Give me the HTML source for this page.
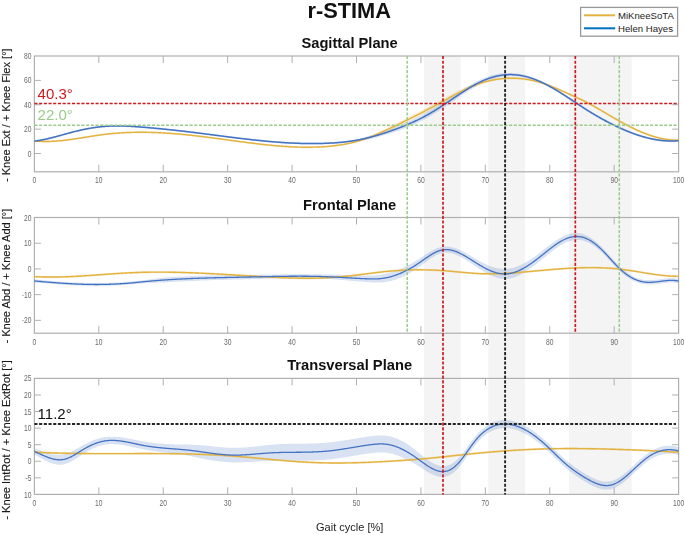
<!DOCTYPE html>
<html><head><meta charset="utf-8"><style>
html,body{margin:0;padding:0;background:#fff;width:685px;height:535px;overflow:hidden}
svg{position:absolute;left:0;top:0;display:block;filter:blur(0.3px)}
text{font-family:"Liberation Sans",sans-serif}
.tk{font-size:8.2px;fill:#6a6a6a}
.ttl{font-size:14.7px;font-weight:bold;fill:#111}
.main{font-size:21.8px;font-weight:bold;fill:#111}
.xl{font-size:11px;fill:#222}
.yl{font-size:11.05px;fill:#1a1a1a;stroke:#1a1a1a;stroke-width:0.15px}
.lg{font-size:9.6px;fill:#222}
.ann{font-size:15px}
</style></head><body>
<svg width="685" height="535" viewBox="0 0 685 535">
<rect x="424.0" y="56.0" width="36.6" height="438.4" fill="#f4f4f4"/>
<rect x="488.4" y="56.0" width="36.6" height="438.4" fill="#f4f4f4"/>
<rect x="569.0" y="56.0" width="62.6" height="438.4" fill="#f4f4f4"/>
<rect x="34.4" y="56.0" width="644.2" height="115.8" fill="none" stroke="#b0b0b0" stroke-width="1.2"/>
<text class="tk" text-anchor="middle" transform="translate(34.40,183.20) scale(0.82,1)">0</text>
<line x1="98.82" y1="56.0" x2="98.82" y2="63.0" stroke="#b0b0b0" stroke-width="1"/>
<line x1="98.82" y1="171.8" x2="98.82" y2="164.8" stroke="#b0b0b0" stroke-width="1"/>
<text class="tk" text-anchor="middle" transform="translate(98.82,183.20) scale(0.82,1)">10</text>
<line x1="163.24" y1="56.0" x2="163.24" y2="63.0" stroke="#b0b0b0" stroke-width="1"/>
<line x1="163.24" y1="171.8" x2="163.24" y2="164.8" stroke="#b0b0b0" stroke-width="1"/>
<text class="tk" text-anchor="middle" transform="translate(163.24,183.20) scale(0.82,1)">20</text>
<line x1="227.66" y1="56.0" x2="227.66" y2="63.0" stroke="#b0b0b0" stroke-width="1"/>
<line x1="227.66" y1="171.8" x2="227.66" y2="164.8" stroke="#b0b0b0" stroke-width="1"/>
<text class="tk" text-anchor="middle" transform="translate(227.66,183.20) scale(0.82,1)">30</text>
<line x1="292.08" y1="56.0" x2="292.08" y2="63.0" stroke="#b0b0b0" stroke-width="1"/>
<line x1="292.08" y1="171.8" x2="292.08" y2="164.8" stroke="#b0b0b0" stroke-width="1"/>
<text class="tk" text-anchor="middle" transform="translate(292.08,183.20) scale(0.82,1)">40</text>
<line x1="356.50" y1="56.0" x2="356.50" y2="63.0" stroke="#b0b0b0" stroke-width="1"/>
<line x1="356.50" y1="171.8" x2="356.50" y2="164.8" stroke="#b0b0b0" stroke-width="1"/>
<text class="tk" text-anchor="middle" transform="translate(356.50,183.20) scale(0.82,1)">50</text>
<line x1="420.92" y1="56.0" x2="420.92" y2="63.0" stroke="#b0b0b0" stroke-width="1"/>
<line x1="420.92" y1="171.8" x2="420.92" y2="164.8" stroke="#b0b0b0" stroke-width="1"/>
<text class="tk" text-anchor="middle" transform="translate(420.92,183.20) scale(0.82,1)">60</text>
<line x1="485.34" y1="56.0" x2="485.34" y2="63.0" stroke="#b0b0b0" stroke-width="1"/>
<line x1="485.34" y1="171.8" x2="485.34" y2="164.8" stroke="#b0b0b0" stroke-width="1"/>
<text class="tk" text-anchor="middle" transform="translate(485.34,183.20) scale(0.82,1)">70</text>
<line x1="549.76" y1="56.0" x2="549.76" y2="63.0" stroke="#b0b0b0" stroke-width="1"/>
<line x1="549.76" y1="171.8" x2="549.76" y2="164.8" stroke="#b0b0b0" stroke-width="1"/>
<text class="tk" text-anchor="middle" transform="translate(549.76,183.20) scale(0.82,1)">80</text>
<line x1="614.18" y1="56.0" x2="614.18" y2="63.0" stroke="#b0b0b0" stroke-width="1"/>
<line x1="614.18" y1="171.8" x2="614.18" y2="164.8" stroke="#b0b0b0" stroke-width="1"/>
<text class="tk" text-anchor="middle" transform="translate(614.18,183.20) scale(0.82,1)">90</text>
<text class="tk" text-anchor="middle" transform="translate(678.60,183.20) scale(0.82,1)">100</text>
<line x1="34.4" y1="153.52" x2="40.9" y2="153.52" stroke="#b0b0b0" stroke-width="1"/>
<line x1="678.6" y1="153.52" x2="672.1" y2="153.52" stroke="#b0b0b0" stroke-width="1"/>
<text class="tk" text-anchor="end" transform="translate(31.40,156.52) scale(0.82,1)">0</text>
<line x1="34.4" y1="129.14" x2="40.9" y2="129.14" stroke="#b0b0b0" stroke-width="1"/>
<line x1="678.6" y1="129.14" x2="672.1" y2="129.14" stroke="#b0b0b0" stroke-width="1"/>
<text class="tk" text-anchor="end" transform="translate(31.40,132.14) scale(0.82,1)">20</text>
<line x1="34.4" y1="104.76" x2="40.9" y2="104.76" stroke="#b0b0b0" stroke-width="1"/>
<line x1="678.6" y1="104.76" x2="672.1" y2="104.76" stroke="#b0b0b0" stroke-width="1"/>
<text class="tk" text-anchor="end" transform="translate(31.40,107.76) scale(0.82,1)">40</text>
<line x1="34.4" y1="80.38" x2="40.9" y2="80.38" stroke="#b0b0b0" stroke-width="1"/>
<line x1="678.6" y1="80.38" x2="672.1" y2="80.38" stroke="#b0b0b0" stroke-width="1"/>
<text class="tk" text-anchor="end" transform="translate(31.40,83.38) scale(0.82,1)">60</text>
<text class="tk" text-anchor="end" transform="translate(31.40,59.00) scale(0.82,1)">80</text>
<text x="349.6" y="48.0" class="ttl" text-anchor="middle">Sagittal Plane</text>
<rect x="34.4" y="217.5" width="644.2" height="115.7" fill="none" stroke="#b0b0b0" stroke-width="1.2"/>
<text class="tk" text-anchor="middle" transform="translate(34.40,344.60) scale(0.82,1)">0</text>
<line x1="98.82" y1="217.5" x2="98.82" y2="224.5" stroke="#b0b0b0" stroke-width="1"/>
<line x1="98.82" y1="333.2" x2="98.82" y2="326.2" stroke="#b0b0b0" stroke-width="1"/>
<text class="tk" text-anchor="middle" transform="translate(98.82,344.60) scale(0.82,1)">10</text>
<line x1="163.24" y1="217.5" x2="163.24" y2="224.5" stroke="#b0b0b0" stroke-width="1"/>
<line x1="163.24" y1="333.2" x2="163.24" y2="326.2" stroke="#b0b0b0" stroke-width="1"/>
<text class="tk" text-anchor="middle" transform="translate(163.24,344.60) scale(0.82,1)">20</text>
<line x1="227.66" y1="217.5" x2="227.66" y2="224.5" stroke="#b0b0b0" stroke-width="1"/>
<line x1="227.66" y1="333.2" x2="227.66" y2="326.2" stroke="#b0b0b0" stroke-width="1"/>
<text class="tk" text-anchor="middle" transform="translate(227.66,344.60) scale(0.82,1)">30</text>
<line x1="292.08" y1="217.5" x2="292.08" y2="224.5" stroke="#b0b0b0" stroke-width="1"/>
<line x1="292.08" y1="333.2" x2="292.08" y2="326.2" stroke="#b0b0b0" stroke-width="1"/>
<text class="tk" text-anchor="middle" transform="translate(292.08,344.60) scale(0.82,1)">40</text>
<line x1="356.50" y1="217.5" x2="356.50" y2="224.5" stroke="#b0b0b0" stroke-width="1"/>
<line x1="356.50" y1="333.2" x2="356.50" y2="326.2" stroke="#b0b0b0" stroke-width="1"/>
<text class="tk" text-anchor="middle" transform="translate(356.50,344.60) scale(0.82,1)">50</text>
<line x1="420.92" y1="217.5" x2="420.92" y2="224.5" stroke="#b0b0b0" stroke-width="1"/>
<line x1="420.92" y1="333.2" x2="420.92" y2="326.2" stroke="#b0b0b0" stroke-width="1"/>
<text class="tk" text-anchor="middle" transform="translate(420.92,344.60) scale(0.82,1)">60</text>
<line x1="485.34" y1="217.5" x2="485.34" y2="224.5" stroke="#b0b0b0" stroke-width="1"/>
<line x1="485.34" y1="333.2" x2="485.34" y2="326.2" stroke="#b0b0b0" stroke-width="1"/>
<text class="tk" text-anchor="middle" transform="translate(485.34,344.60) scale(0.82,1)">70</text>
<line x1="549.76" y1="217.5" x2="549.76" y2="224.5" stroke="#b0b0b0" stroke-width="1"/>
<line x1="549.76" y1="333.2" x2="549.76" y2="326.2" stroke="#b0b0b0" stroke-width="1"/>
<text class="tk" text-anchor="middle" transform="translate(549.76,344.60) scale(0.82,1)">80</text>
<line x1="614.18" y1="217.5" x2="614.18" y2="224.5" stroke="#b0b0b0" stroke-width="1"/>
<line x1="614.18" y1="333.2" x2="614.18" y2="326.2" stroke="#b0b0b0" stroke-width="1"/>
<text class="tk" text-anchor="middle" transform="translate(614.18,344.60) scale(0.82,1)">90</text>
<text class="tk" text-anchor="middle" transform="translate(678.60,344.60) scale(0.82,1)">100</text>
<line x1="34.4" y1="320.34" x2="40.9" y2="320.34" stroke="#b0b0b0" stroke-width="1"/>
<line x1="678.6" y1="320.34" x2="672.1" y2="320.34" stroke="#b0b0b0" stroke-width="1"/>
<text class="tk" text-anchor="end" transform="translate(31.40,323.34) scale(0.82,1)">-20</text>
<line x1="34.4" y1="294.63" x2="40.9" y2="294.63" stroke="#b0b0b0" stroke-width="1"/>
<line x1="678.6" y1="294.63" x2="672.1" y2="294.63" stroke="#b0b0b0" stroke-width="1"/>
<text class="tk" text-anchor="end" transform="translate(31.40,297.63) scale(0.82,1)">-10</text>
<line x1="34.4" y1="268.92" x2="40.9" y2="268.92" stroke="#b0b0b0" stroke-width="1"/>
<line x1="678.6" y1="268.92" x2="672.1" y2="268.92" stroke="#b0b0b0" stroke-width="1"/>
<text class="tk" text-anchor="end" transform="translate(31.40,271.92) scale(0.82,1)">0</text>
<line x1="34.4" y1="243.21" x2="40.9" y2="243.21" stroke="#b0b0b0" stroke-width="1"/>
<line x1="678.6" y1="243.21" x2="672.1" y2="243.21" stroke="#b0b0b0" stroke-width="1"/>
<text class="tk" text-anchor="end" transform="translate(31.40,246.21) scale(0.82,1)">10</text>
<text class="tk" text-anchor="end" transform="translate(31.40,220.50) scale(0.82,1)">20</text>
<text x="349.6" y="209.9" class="ttl" text-anchor="middle">Frontal Plane</text>
<rect x="34.4" y="378.4" width="644.2" height="116.0" fill="none" stroke="#b0b0b0" stroke-width="1.2"/>
<text class="tk" text-anchor="middle" transform="translate(34.40,505.80) scale(0.82,1)">0</text>
<line x1="98.82" y1="378.4" x2="98.82" y2="385.4" stroke="#b0b0b0" stroke-width="1"/>
<line x1="98.82" y1="494.4" x2="98.82" y2="487.4" stroke="#b0b0b0" stroke-width="1"/>
<text class="tk" text-anchor="middle" transform="translate(98.82,505.80) scale(0.82,1)">10</text>
<line x1="163.24" y1="378.4" x2="163.24" y2="385.4" stroke="#b0b0b0" stroke-width="1"/>
<line x1="163.24" y1="494.4" x2="163.24" y2="487.4" stroke="#b0b0b0" stroke-width="1"/>
<text class="tk" text-anchor="middle" transform="translate(163.24,505.80) scale(0.82,1)">20</text>
<line x1="227.66" y1="378.4" x2="227.66" y2="385.4" stroke="#b0b0b0" stroke-width="1"/>
<line x1="227.66" y1="494.4" x2="227.66" y2="487.4" stroke="#b0b0b0" stroke-width="1"/>
<text class="tk" text-anchor="middle" transform="translate(227.66,505.80) scale(0.82,1)">30</text>
<line x1="292.08" y1="378.4" x2="292.08" y2="385.4" stroke="#b0b0b0" stroke-width="1"/>
<line x1="292.08" y1="494.4" x2="292.08" y2="487.4" stroke="#b0b0b0" stroke-width="1"/>
<text class="tk" text-anchor="middle" transform="translate(292.08,505.80) scale(0.82,1)">40</text>
<line x1="356.50" y1="378.4" x2="356.50" y2="385.4" stroke="#b0b0b0" stroke-width="1"/>
<line x1="356.50" y1="494.4" x2="356.50" y2="487.4" stroke="#b0b0b0" stroke-width="1"/>
<text class="tk" text-anchor="middle" transform="translate(356.50,505.80) scale(0.82,1)">50</text>
<line x1="420.92" y1="378.4" x2="420.92" y2="385.4" stroke="#b0b0b0" stroke-width="1"/>
<line x1="420.92" y1="494.4" x2="420.92" y2="487.4" stroke="#b0b0b0" stroke-width="1"/>
<text class="tk" text-anchor="middle" transform="translate(420.92,505.80) scale(0.82,1)">60</text>
<line x1="485.34" y1="378.4" x2="485.34" y2="385.4" stroke="#b0b0b0" stroke-width="1"/>
<line x1="485.34" y1="494.4" x2="485.34" y2="487.4" stroke="#b0b0b0" stroke-width="1"/>
<text class="tk" text-anchor="middle" transform="translate(485.34,505.80) scale(0.82,1)">70</text>
<line x1="549.76" y1="378.4" x2="549.76" y2="385.4" stroke="#b0b0b0" stroke-width="1"/>
<line x1="549.76" y1="494.4" x2="549.76" y2="487.4" stroke="#b0b0b0" stroke-width="1"/>
<text class="tk" text-anchor="middle" transform="translate(549.76,505.80) scale(0.82,1)">80</text>
<line x1="614.18" y1="378.4" x2="614.18" y2="385.4" stroke="#b0b0b0" stroke-width="1"/>
<line x1="614.18" y1="494.4" x2="614.18" y2="487.4" stroke="#b0b0b0" stroke-width="1"/>
<text class="tk" text-anchor="middle" transform="translate(614.18,505.80) scale(0.82,1)">90</text>
<text class="tk" text-anchor="middle" transform="translate(678.60,505.80) scale(0.82,1)">100</text>
<text class="tk" text-anchor="end" transform="translate(31.40,498.30) scale(0.82,1)">10</text>
<line x1="34.4" y1="477.83" x2="40.9" y2="477.83" stroke="#b0b0b0" stroke-width="1"/>
<line x1="678.6" y1="477.83" x2="672.1" y2="477.83" stroke="#b0b0b0" stroke-width="1"/>
<text class="tk" text-anchor="end" transform="translate(31.40,480.83) scale(0.82,1)">-5</text>
<line x1="34.4" y1="461.26" x2="40.9" y2="461.26" stroke="#b0b0b0" stroke-width="1"/>
<line x1="678.6" y1="461.26" x2="672.1" y2="461.26" stroke="#b0b0b0" stroke-width="1"/>
<text class="tk" text-anchor="end" transform="translate(31.40,464.26) scale(0.82,1)">0</text>
<line x1="34.4" y1="444.69" x2="40.9" y2="444.69" stroke="#b0b0b0" stroke-width="1"/>
<line x1="678.6" y1="444.69" x2="672.1" y2="444.69" stroke="#b0b0b0" stroke-width="1"/>
<text class="tk" text-anchor="end" transform="translate(31.40,447.69) scale(0.82,1)">5</text>
<line x1="34.4" y1="428.11" x2="40.9" y2="428.11" stroke="#b0b0b0" stroke-width="1"/>
<line x1="678.6" y1="428.11" x2="672.1" y2="428.11" stroke="#b0b0b0" stroke-width="1"/>
<text class="tk" text-anchor="end" transform="translate(31.40,431.11) scale(0.82,1)">10</text>
<line x1="34.4" y1="411.54" x2="40.9" y2="411.54" stroke="#b0b0b0" stroke-width="1"/>
<line x1="678.6" y1="411.54" x2="672.1" y2="411.54" stroke="#b0b0b0" stroke-width="1"/>
<text class="tk" text-anchor="end" transform="translate(31.40,414.54) scale(0.82,1)">15</text>
<line x1="34.4" y1="394.97" x2="40.9" y2="394.97" stroke="#b0b0b0" stroke-width="1"/>
<line x1="678.6" y1="394.97" x2="672.1" y2="394.97" stroke="#b0b0b0" stroke-width="1"/>
<text class="tk" text-anchor="end" transform="translate(31.40,397.97) scale(0.82,1)">20</text>
<text class="tk" text-anchor="end" transform="translate(31.40,381.40) scale(0.82,1)">25</text>
<text x="349.6" y="370.4" class="ttl" text-anchor="middle">Transversal Plane</text>
<path d="M34.4,140.1 L35.4,140.0 L36.4,139.9 L37.4,139.7 L38.4,139.6 L39.4,139.4 L40.4,139.2 L41.4,139.0 L42.4,138.9 L43.4,138.7 L44.4,138.5 L45.4,138.2 L46.4,138.0 L47.4,137.8 L48.4,137.6 L49.4,137.3 L50.4,137.1 L51.4,136.8 L52.4,136.6 L53.4,136.3 L54.4,136.1 L55.4,135.8 L56.4,135.5 L57.4,135.3 L58.4,135.0 L59.4,134.7 L60.4,134.4 L61.4,134.2 L62.4,133.9 L63.4,133.6 L64.4,133.3 L65.4,133.0 L66.4,132.8 L67.4,132.5 L68.4,132.2 L69.4,131.9 L70.4,131.7 L71.4,131.4 L72.4,131.2 L73.4,130.9 L74.4,130.6 L75.4,130.4 L76.4,130.1 L77.4,129.9 L78.4,129.7 L79.4,129.4 L80.4,129.2 L81.4,129.0 L82.4,128.8 L83.4,128.5 L84.4,128.3 L85.4,128.1 L86.4,127.9 L87.4,127.7 L88.4,127.6 L89.4,127.4 L90.4,127.2 L91.4,127.0 L92.4,126.9 L93.4,126.7 L94.4,126.6 L95.4,126.4 L96.4,126.3 L97.4,126.2 L98.4,126.0 L99.4,125.9 L100.4,125.8 L101.4,125.7 L102.4,125.6 L103.4,125.5 L104.4,125.4 L105.4,125.3 L106.4,125.3 L107.4,125.2 L108.4,125.2 L109.4,125.1 L110.4,125.1 L111.4,125.0 L112.4,125.0 L113.4,125.0 L114.4,125.0 L115.4,124.9 L116.4,124.9 L117.4,124.9 L118.4,124.9 L119.4,124.9 L120.4,125.0 L121.4,125.0 L122.4,125.0 L123.4,125.0 L124.4,125.1 L125.4,125.1 L126.4,125.1 L127.4,125.2 L128.4,125.2 L129.4,125.3 L130.4,125.3 L131.4,125.4 L132.4,125.4 L133.4,125.5 L134.4,125.6 L135.4,125.6 L136.4,125.7 L137.4,125.8 L138.4,125.8 L139.4,125.9 L140.4,126.0 L141.4,126.1 L142.4,126.2 L143.4,126.2 L144.4,126.3 L145.4,126.4 L146.4,126.5 L147.4,126.6 L148.4,126.7 L149.4,126.7 L150.4,126.8 L151.4,126.9 L152.4,127.0 L153.4,127.1 L154.4,127.2 L155.4,127.3 L156.4,127.4 L157.4,127.5 L158.4,127.6 L159.4,127.7 L160.4,127.8 L161.4,127.9 L162.4,128.0 L163.4,128.1 L164.4,128.2 L165.4,128.3 L166.4,128.4 L167.4,128.5 L168.4,128.6 L169.4,128.7 L170.4,128.8 L171.4,128.9 L172.4,129.0 L173.4,129.1 L174.4,129.2 L175.4,129.3 L176.4,129.4 L177.4,129.5 L178.4,129.7 L179.4,129.8 L180.4,129.9 L181.4,130.0 L182.4,130.1 L183.4,130.2 L184.4,130.3 L185.4,130.5 L186.4,130.6 L187.4,130.7 L188.4,130.8 L189.4,130.9 L190.4,131.1 L191.4,131.2 L192.4,131.3 L193.4,131.4 L194.4,131.5 L195.4,131.7 L196.4,131.8 L197.4,131.9 L198.4,132.0 L199.4,132.2 L200.4,132.3 L201.4,132.4 L202.4,132.5 L203.4,132.7 L204.4,132.8 L205.4,132.9 L206.4,133.1 L207.4,133.2 L208.4,133.3 L209.4,133.4 L210.4,133.6 L211.4,133.7 L212.4,133.8 L213.4,134.0 L214.4,134.1 L215.4,134.2 L216.4,134.3 L217.4,134.5 L218.4,134.6 L219.4,134.7 L220.4,134.9 L221.4,135.0 L222.4,135.1 L223.4,135.3 L224.4,135.4 L225.4,135.5 L226.4,135.6 L227.4,135.8 L228.4,135.9 L229.4,136.0 L230.4,136.1 L231.4,136.3 L232.4,136.4 L233.4,136.5 L234.4,136.6 L235.4,136.8 L236.4,136.9 L237.4,137.0 L238.4,137.1 L239.4,137.3 L240.4,137.4 L241.4,137.5 L242.4,137.6 L243.4,137.7 L244.4,137.9 L245.4,138.0 L246.4,138.1 L247.4,138.2 L248.4,138.3 L249.4,138.4 L250.4,138.5 L251.4,138.7 L252.4,138.8 L253.4,138.9 L254.4,139.0 L255.4,139.1 L256.4,139.2 L257.4,139.3 L258.4,139.4 L259.4,139.5 L260.4,139.6 L261.4,139.7 L262.4,139.8 L263.4,139.9 L264.4,140.0 L265.4,140.1 L266.4,140.2 L267.4,140.3 L268.4,140.4 L269.4,140.5 L270.4,140.6 L271.4,140.6 L272.4,140.7 L273.4,140.8 L274.4,140.9 L275.4,141.0 L276.4,141.1 L277.4,141.1 L278.4,141.2 L279.4,141.3 L280.4,141.4 L281.4,141.4 L282.4,141.5 L283.4,141.6 L284.4,141.6 L285.4,141.7 L286.4,141.7 L287.4,141.8 L288.4,141.9 L289.4,141.9 L290.4,142.0 L291.4,142.0 L292.4,142.1 L293.4,142.1 L294.4,142.2 L295.4,142.2 L296.4,142.2 L297.4,142.3 L298.4,142.3 L299.4,142.4 L300.4,142.4 L301.4,142.4 L302.4,142.4 L303.4,142.5 L304.4,142.5 L305.4,142.5 L306.4,142.5 L307.4,142.5 L308.4,142.5 L309.4,142.6 L310.4,142.6 L311.4,142.6 L312.4,142.6 L313.4,142.6 L314.4,142.6 L315.4,142.5 L316.4,142.5 L317.4,142.5 L318.4,142.5 L319.4,142.5 L320.4,142.5 L321.4,142.4 L322.4,142.4 L323.4,142.4 L324.4,142.4 L325.4,142.3 L326.4,142.3 L327.4,142.2 L328.4,142.2 L329.4,142.1 L330.4,142.1 L331.4,142.0 L332.4,142.0 L333.4,141.9 L334.4,141.9 L335.4,141.8 L336.4,141.7 L337.4,141.6 L338.4,141.6 L339.4,141.5 L340.4,141.4 L341.4,141.3 L342.4,141.2 L343.4,141.1 L344.4,141.0 L345.4,140.8 L346.4,140.7 L347.4,140.6 L348.4,140.4 L349.4,140.3 L350.4,140.1 L351.4,139.9 L352.4,139.8 L353.4,139.6 L354.4,139.4 L355.4,139.2 L356.4,139.0 L357.4,138.8 L358.4,138.6 L359.4,138.4 L360.4,138.1 L361.4,137.9 L362.4,137.7 L363.4,137.4 L364.4,137.2 L365.4,136.9 L366.4,136.6 L367.4,136.3 L368.4,136.1 L369.4,135.8 L370.4,135.5 L371.4,135.2 L372.4,134.9 L373.4,134.6 L374.4,134.3 L375.4,134.0 L376.4,133.6 L377.4,133.3 L378.4,133.0 L379.4,132.7 L380.4,132.3 L381.4,132.0 L382.4,131.7 L383.4,131.3 L384.4,131.0 L385.4,130.6 L386.4,130.2 L387.4,129.9 L388.4,129.5 L389.4,129.1 L390.4,128.8 L391.4,128.4 L392.4,128.0 L393.4,127.6 L394.4,127.2 L395.4,126.8 L396.4,126.4 L397.4,126.0 L398.4,125.6 L399.4,125.2 L400.4,124.8 L401.4,124.4 L402.4,123.9 L403.4,123.5 L404.4,123.1 L405.4,122.6 L406.4,122.2 L407.4,121.8 L408.4,121.3 L409.4,120.9 L410.4,120.4 L411.4,119.9 L412.4,119.5 L413.4,119.0 L414.4,118.5 L415.4,118.1 L416.4,117.6 L417.4,117.1 L418.4,116.6 L419.4,116.1 L420.4,115.6 L421.4,115.1 L422.4,114.6 L423.4,114.1 L424.4,113.5 L425.4,113.0 L426.4,112.4 L427.4,111.9 L428.4,111.3 L429.4,110.8 L430.4,110.2 L431.4,109.6 L432.4,109.0 L433.4,108.4 L434.4,107.8 L435.4,107.2 L436.4,106.6 L437.4,106.0 L438.4,105.3 L439.4,104.7 L440.4,104.1 L441.4,103.4 L442.4,102.8 L443.4,102.2 L444.4,101.5 L445.4,100.9 L446.4,100.2 L447.4,99.5 L448.4,98.9 L449.4,98.2 L450.4,97.6 L451.4,96.9 L452.4,96.3 L453.4,95.6 L454.4,94.9 L455.4,94.3 L456.4,93.6 L457.4,93.0 L458.4,92.3 L459.4,91.7 L460.4,91.0 L461.4,90.4 L462.4,89.7 L463.4,89.1 L464.4,88.5 L465.4,87.8 L466.4,87.2 L467.4,86.6 L468.4,86.0 L469.4,85.4 L470.4,84.8 L471.4,84.2 L472.4,83.7 L473.4,83.1 L474.4,82.6 L475.4,82.1 L476.4,81.5 L477.4,81.0 L478.4,80.5 L479.4,80.1 L480.4,79.6 L481.4,79.2 L482.4,78.7 L483.4,78.3 L484.4,77.9 L485.4,77.5 L486.4,77.2 L487.4,76.8 L488.4,76.5 L489.4,76.1 L490.4,75.8 L491.4,75.5 L492.4,75.3 L493.4,75.0 L494.4,74.8 L495.4,74.5 L496.4,74.3 L497.4,74.1 L498.4,73.9 L499.4,73.8 L500.4,73.6 L501.4,73.5 L502.4,73.4 L503.4,73.3 L504.4,73.2 L505.4,73.1 L506.4,73.1 L507.4,73.0 L508.4,73.0 L509.4,73.0 L510.4,73.0 L511.4,73.0 L512.4,73.1 L513.4,73.1 L514.4,73.2 L515.4,73.3 L516.4,73.4 L517.4,73.5 L518.4,73.6 L519.4,73.8 L520.4,73.9 L521.4,74.1 L522.4,74.3 L523.4,74.5 L524.4,74.8 L525.4,75.0 L526.4,75.3 L527.4,75.5 L528.4,75.8 L529.4,76.1 L530.4,76.4 L531.4,76.8 L532.4,77.1 L533.4,77.5 L534.4,77.8 L535.4,78.2 L536.4,78.6 L537.4,79.0 L538.4,79.4 L539.4,79.9 L540.4,80.3 L541.4,80.8 L542.4,81.2 L543.4,81.7 L544.4,82.2 L545.4,82.7 L546.4,83.2 L547.4,83.7 L548.4,84.3 L549.4,84.8 L550.4,85.4 L551.4,85.9 L552.4,86.5 L553.4,87.1 L554.4,87.7 L555.4,88.3 L556.4,88.9 L557.4,89.5 L558.4,90.1 L559.4,90.7 L560.4,91.3 L561.4,92.0 L562.4,92.6 L563.4,93.2 L564.4,93.9 L565.4,94.5 L566.4,95.2 L567.4,95.8 L568.4,96.5 L569.4,97.2 L570.4,97.8 L571.4,98.5 L572.4,99.1 L573.4,99.8 L574.4,100.5 L575.4,101.1 L576.4,101.8 L577.4,102.5 L578.4,103.1 L579.4,103.8 L580.4,104.4 L581.4,105.1 L582.4,105.8 L583.4,106.4 L584.4,107.1 L585.4,107.7 L586.4,108.3 L587.4,109.0 L588.4,109.6 L589.4,110.2 L590.4,110.8 L591.4,111.5 L592.4,112.1 L593.4,112.7 L594.4,113.3 L595.4,113.9 L596.4,114.5 L597.4,115.0 L598.4,115.6 L599.4,116.2 L600.4,116.7 L601.4,117.3 L602.4,117.9 L603.4,118.4 L604.4,119.0 L605.4,119.5 L606.4,120.0 L607.4,120.6 L608.4,121.1 L609.4,121.6 L610.4,122.1 L611.4,122.6 L612.4,123.1 L613.4,123.6 L614.4,124.1 L615.4,124.6 L616.4,125.1 L617.4,125.6 L618.4,126.0 L619.4,126.5 L620.4,126.9 L621.4,127.4 L622.4,127.8 L623.4,128.3 L624.4,128.7 L625.4,129.1 L626.4,129.6 L627.4,130.0 L628.4,130.4 L629.4,130.8 L630.4,131.2 L631.4,131.6 L632.4,131.9 L633.4,132.3 L634.4,132.7 L635.4,133.0 L636.4,133.4 L637.4,133.7 L638.4,134.0 L639.4,134.4 L640.4,134.7 L641.4,135.0 L642.4,135.3 L643.4,135.6 L644.4,135.9 L645.4,136.1 L646.4,136.4 L647.4,136.7 L648.4,136.9 L649.4,137.1 L650.4,137.4 L651.4,137.6 L652.4,137.8 L653.4,138.0 L654.4,138.2 L655.4,138.4 L656.4,138.5 L657.4,138.7 L658.4,138.9 L659.4,139.0 L660.4,139.1 L661.4,139.2 L662.4,139.3 L663.4,139.4 L664.4,139.5 L665.4,139.6 L666.4,139.7 L667.4,139.7 L668.4,139.8 L669.4,139.8 L670.4,139.8 L671.4,139.8 L672.4,139.8 L673.4,139.8 L674.4,139.8 L675.4,139.7 L676.4,139.7 L677.4,139.6 L678.4,139.5 L678.6,139.5 L678.6,141.9 L678.4,141.9 L677.4,142.0 L676.4,142.1 L675.4,142.1 L674.4,142.2 L673.4,142.2 L672.4,142.2 L671.4,142.2 L670.4,142.2 L669.4,142.2 L668.4,142.2 L667.4,142.1 L666.4,142.1 L665.4,142.0 L664.4,141.9 L663.4,141.8 L662.4,141.8 L661.4,141.6 L660.4,141.5 L659.4,141.4 L658.4,141.3 L657.4,141.1 L656.4,141.0 L655.4,140.8 L654.4,140.6 L653.4,140.4 L652.4,140.2 L651.4,140.0 L650.4,139.8 L649.4,139.6 L648.4,139.3 L647.4,139.1 L646.4,138.8 L645.4,138.6 L644.4,138.3 L643.4,138.0 L642.4,137.7 L641.4,137.4 L640.4,137.1 L639.4,136.8 L638.4,136.5 L637.4,136.1 L636.4,135.8 L635.4,135.5 L634.4,135.1 L633.4,134.7 L632.4,134.4 L631.4,134.0 L630.4,133.6 L629.4,133.2 L628.4,132.8 L627.4,132.4 L626.4,132.0 L625.4,131.6 L624.4,131.2 L623.4,130.7 L622.4,130.3 L621.4,129.9 L620.4,129.4 L619.4,129.0 L618.4,128.5 L617.4,128.0 L616.4,127.6 L615.4,127.1 L614.4,126.6 L613.4,126.1 L612.4,125.6 L611.4,125.1 L610.4,124.6 L609.4,124.1 L608.4,123.6 L607.4,123.1 L606.4,122.6 L605.4,122.0 L604.4,121.5 L603.4,120.9 L602.4,120.4 L601.4,119.8 L600.4,119.3 L599.4,118.7 L598.4,118.2 L597.4,117.6 L596.4,117.0 L595.4,116.4 L594.4,115.8 L593.4,115.2 L592.4,114.6 L591.4,114.0 L590.4,113.4 L589.4,112.8 L588.4,112.2 L587.4,111.6 L586.4,110.9 L585.4,110.3 L584.4,109.7 L583.4,109.0 L582.4,108.4 L581.4,107.7 L580.4,107.1 L579.4,106.4 L578.4,105.8 L577.4,105.1 L576.4,104.4 L575.4,103.8 L574.4,103.1 L573.4,102.5 L572.4,101.8 L571.4,101.1 L570.4,100.5 L569.4,99.8 L568.4,99.2 L567.4,98.5 L566.4,97.9 L565.4,97.2 L564.4,96.6 L563.4,96.0 L562.4,95.3 L561.4,94.7 L560.4,94.1 L559.4,93.4 L558.4,92.8 L557.4,92.2 L556.4,91.6 L555.4,91.0 L554.4,90.4 L553.4,89.9 L552.4,89.3 L551.4,88.7 L550.4,88.2 L549.4,87.6 L548.4,87.1 L547.4,86.6 L546.4,86.0 L545.4,85.5 L544.4,85.0 L543.4,84.5 L542.4,84.1 L541.4,83.6 L540.4,83.2 L539.4,82.7 L538.4,82.3 L537.4,81.9 L536.4,81.5 L535.4,81.1 L534.4,80.7 L533.4,80.4 L532.4,80.0 L531.4,79.7 L530.4,79.3 L529.4,79.0 L528.4,78.7 L527.4,78.5 L526.4,78.2 L525.4,78.0 L524.4,77.7 L523.4,77.5 L522.4,77.3 L521.4,77.1 L520.4,76.9 L519.4,76.8 L518.4,76.6 L517.4,76.5 L516.4,76.4 L515.4,76.3 L514.4,76.3 L513.4,76.2 L512.4,76.2 L511.4,76.2 L510.4,76.2 L509.4,76.2 L508.4,76.3 L507.4,76.3 L506.4,76.4 L505.4,76.5 L504.4,76.6 L503.4,76.7 L502.4,76.9 L501.4,77.1 L500.4,77.2 L499.4,77.4 L498.4,77.6 L497.4,77.9 L496.4,78.1 L495.4,78.4 L494.4,78.7 L493.4,79.0 L492.4,79.3 L491.4,79.6 L490.4,79.9 L489.4,80.3 L488.4,80.7 L487.4,81.1 L486.4,81.5 L485.4,81.9 L484.4,82.3 L483.4,82.8 L482.4,83.3 L481.4,83.7 L480.4,84.2 L479.4,84.7 L478.4,85.2 L477.4,85.8 L476.4,86.3 L475.4,86.9 L474.4,87.4 L473.4,88.0 L472.4,88.6 L471.4,89.2 L470.4,89.8 L469.4,90.4 L468.4,91.0 L467.4,91.7 L466.4,92.3 L465.4,93.0 L464.4,93.6 L463.4,94.3 L462.4,94.9 L461.4,95.6 L460.4,96.3 L459.4,96.9 L458.4,97.6 L457.4,98.3 L456.4,99.0 L455.4,99.7 L454.4,100.4 L453.4,101.0 L452.4,101.7 L451.4,102.4 L450.4,103.1 L449.4,103.8 L448.4,104.5 L447.4,105.2 L446.4,105.8 L445.4,106.5 L444.4,107.2 L443.4,107.9 L442.4,108.5 L441.4,109.2 L440.4,109.8 L439.4,110.5 L438.4,111.2 L437.4,111.8 L436.4,112.4 L435.4,113.1 L434.4,113.7 L433.4,114.3 L432.4,114.9 L431.4,115.5 L430.4,116.1 L429.4,116.7 L428.4,117.3 L427.4,117.9 L426.4,118.4 L425.4,119.0 L424.4,119.5 L423.4,120.0 L422.4,120.6 L421.4,121.1 L420.4,121.6 L419.4,122.1 L418.4,122.6 L417.4,123.1 L416.4,123.5 L415.4,124.0 L414.4,124.5 L413.4,124.9 L412.4,125.3 L411.4,125.8 L410.4,126.2 L409.4,126.6 L408.4,127.0 L407.4,127.4 L406.4,127.8 L405.4,128.2 L404.4,128.6 L403.4,129.0 L402.4,129.3 L401.4,129.7 L400.4,130.0 L399.4,130.4 L398.4,130.7 L397.4,131.1 L396.4,131.4 L395.4,131.8 L394.4,132.1 L393.4,132.4 L392.4,132.7 L391.4,133.1 L390.4,133.4 L389.4,133.7 L388.4,134.0 L387.4,134.3 L386.4,134.6 L385.4,134.9 L384.4,135.2 L383.4,135.5 L382.4,135.8 L381.4,136.1 L380.4,136.4 L379.4,136.6 L378.4,136.9 L377.4,137.2 L376.4,137.5 L375.4,137.7 L374.4,138.0 L373.4,138.2 L372.4,138.5 L371.4,138.7 L370.4,138.9 L369.4,139.1 L368.4,139.4 L367.4,139.6 L366.4,139.8 L365.4,140.0 L364.4,140.2 L363.4,140.4 L362.4,140.6 L361.4,140.7 L360.4,140.9 L359.4,141.1 L358.4,141.2 L357.4,141.4 L356.4,141.5 L355.4,141.7 L354.4,141.8 L353.4,142.0 L352.4,142.1 L351.4,142.2 L350.4,142.3 L349.4,142.5 L348.4,142.6 L347.4,142.7 L346.4,142.8 L345.4,142.9 L344.4,143.0 L343.4,143.1 L342.4,143.2 L341.4,143.3 L340.4,143.4 L339.4,143.5 L338.4,143.6 L337.4,143.6 L336.4,143.7 L335.4,143.8 L334.4,143.9 L333.4,143.9 L332.4,144.0 L331.4,144.0 L330.4,144.1 L329.4,144.1 L328.4,144.2 L327.4,144.2 L326.4,144.3 L325.4,144.3 L324.4,144.4 L323.4,144.4 L322.4,144.4 L321.4,144.4 L320.4,144.5 L319.4,144.5 L318.4,144.5 L317.4,144.5 L316.4,144.5 L315.4,144.5 L314.4,144.6 L313.4,144.6 L312.4,144.6 L311.4,144.6 L310.4,144.6 L309.4,144.6 L308.4,144.5 L307.4,144.5 L306.4,144.5 L305.4,144.5 L304.4,144.5 L303.4,144.5 L302.4,144.4 L301.4,144.4 L300.4,144.4 L299.4,144.4 L298.4,144.3 L297.4,144.3 L296.4,144.2 L295.4,144.2 L294.4,144.2 L293.4,144.1 L292.4,144.1 L291.4,144.0 L290.4,144.0 L289.4,143.9 L288.4,143.9 L287.4,143.8 L286.4,143.7 L285.4,143.7 L284.4,143.6 L283.4,143.6 L282.4,143.5 L281.4,143.4 L280.4,143.4 L279.4,143.3 L278.4,143.2 L277.4,143.1 L276.4,143.1 L275.4,143.0 L274.4,142.9 L273.4,142.8 L272.4,142.7 L271.4,142.6 L270.4,142.6 L269.4,142.5 L268.4,142.4 L267.4,142.3 L266.4,142.2 L265.4,142.1 L264.4,142.0 L263.4,141.9 L262.4,141.8 L261.4,141.7 L260.4,141.6 L259.4,141.5 L258.4,141.4 L257.4,141.3 L256.4,141.2 L255.4,141.1 L254.4,141.0 L253.4,140.9 L252.4,140.8 L251.4,140.7 L250.4,140.5 L249.4,140.4 L248.4,140.3 L247.4,140.2 L246.4,140.1 L245.4,140.0 L244.4,139.9 L243.4,139.7 L242.4,139.6 L241.4,139.5 L240.4,139.4 L239.4,139.3 L238.4,139.1 L237.4,139.0 L236.4,138.9 L235.4,138.8 L234.4,138.6 L233.4,138.5 L232.4,138.4 L231.4,138.3 L230.4,138.1 L229.4,138.0 L228.4,137.9 L227.4,137.8 L226.4,137.6 L225.4,137.5 L224.4,137.4 L223.4,137.3 L222.4,137.1 L221.4,137.0 L220.4,136.9 L219.4,136.7 L218.4,136.6 L217.4,136.5 L216.4,136.3 L215.4,136.2 L214.4,136.1 L213.4,136.0 L212.4,135.8 L211.4,135.7 L210.4,135.6 L209.4,135.4 L208.4,135.3 L207.4,135.2 L206.4,135.1 L205.4,134.9 L204.4,134.8 L203.4,134.7 L202.4,134.5 L201.4,134.4 L200.4,134.3 L199.4,134.2 L198.4,134.0 L197.4,133.9 L196.4,133.8 L195.4,133.7 L194.4,133.5 L193.4,133.4 L192.4,133.3 L191.4,133.2 L190.4,133.1 L189.4,132.9 L188.4,132.8 L187.4,132.7 L186.4,132.6 L185.4,132.5 L184.4,132.3 L183.4,132.2 L182.4,132.1 L181.4,132.0 L180.4,131.9 L179.4,131.8 L178.4,131.7 L177.4,131.5 L176.4,131.4 L175.4,131.3 L174.4,131.2 L173.4,131.1 L172.4,131.0 L171.4,130.9 L170.4,130.8 L169.4,130.7 L168.4,130.6 L167.4,130.5 L166.4,130.4 L165.4,130.3 L164.4,130.2 L163.4,130.1 L162.4,130.0 L161.4,129.9 L160.4,129.8 L159.4,129.7 L158.4,129.6 L157.4,129.5 L156.4,129.4 L155.4,129.3 L154.4,129.2 L153.4,129.1 L152.4,129.0 L151.4,128.9 L150.4,128.8 L149.4,128.7 L148.4,128.7 L147.4,128.6 L146.4,128.5 L145.4,128.4 L144.4,128.3 L143.4,128.2 L142.4,128.2 L141.4,128.1 L140.4,128.0 L139.4,127.9 L138.4,127.8 L137.4,127.8 L136.4,127.7 L135.4,127.6 L134.4,127.6 L133.4,127.5 L132.4,127.4 L131.4,127.4 L130.4,127.3 L129.4,127.3 L128.4,127.2 L127.4,127.2 L126.4,127.1 L125.4,127.1 L124.4,127.1 L123.4,127.0 L122.4,127.0 L121.4,127.0 L120.4,127.0 L119.4,126.9 L118.4,126.9 L117.4,126.9 L116.4,126.9 L115.4,126.9 L114.4,127.0 L113.4,127.0 L112.4,127.0 L111.4,127.0 L110.4,127.1 L109.4,127.1 L108.4,127.2 L107.4,127.2 L106.4,127.3 L105.4,127.3 L104.4,127.4 L103.4,127.5 L102.4,127.6 L101.4,127.7 L100.4,127.8 L99.4,127.9 L98.4,128.0 L97.4,128.2 L96.4,128.3 L95.4,128.4 L94.4,128.6 L93.4,128.7 L92.4,128.9 L91.4,129.0 L90.4,129.2 L89.4,129.4 L88.4,129.6 L87.4,129.7 L86.4,129.9 L85.4,130.1 L84.4,130.3 L83.4,130.5 L82.4,130.8 L81.4,131.0 L80.4,131.2 L79.4,131.4 L78.4,131.7 L77.4,131.9 L76.4,132.1 L75.4,132.4 L74.4,132.6 L73.4,132.9 L72.4,133.2 L71.4,133.4 L70.4,133.7 L69.4,133.9 L68.4,134.2 L67.4,134.5 L66.4,134.8 L65.4,135.0 L64.4,135.3 L63.4,135.6 L62.4,135.9 L61.4,136.2 L60.4,136.4 L59.4,136.7 L58.4,137.0 L57.4,137.3 L56.4,137.5 L55.4,137.8 L54.4,138.1 L53.4,138.3 L52.4,138.6 L51.4,138.8 L50.4,139.1 L49.4,139.3 L48.4,139.6 L47.4,139.8 L46.4,140.0 L45.4,140.2 L44.4,140.5 L43.4,140.7 L42.4,140.9 L41.4,141.0 L40.4,141.2 L39.4,141.4 L38.4,141.6 L37.4,141.7 L36.4,141.9 L35.4,142.0 L34.4,142.1 Z" fill="#3f6fbf" fill-opacity="0.2"/>
<path d="M34.4,139.9 L35.4,140.0 L36.4,140.1 L37.4,140.2 L38.4,140.3 L39.4,140.3 L40.4,140.4 L41.4,140.4 L42.4,140.4 L43.4,140.5 L44.4,140.5 L45.4,140.5 L46.4,140.5 L47.4,140.5 L48.4,140.5 L49.4,140.4 L50.4,140.4 L51.4,140.4 L52.4,140.3 L53.4,140.3 L54.4,140.2 L55.4,140.1 L56.4,140.1 L57.4,140.0 L58.4,139.9 L59.4,139.8 L60.4,139.7 L61.4,139.6 L62.4,139.5 L63.4,139.4 L64.4,139.3 L65.4,139.2 L66.4,139.1 L67.4,138.9 L68.4,138.8 L69.4,138.7 L70.4,138.5 L71.4,138.4 L72.4,138.3 L73.4,138.1 L74.4,138.0 L75.4,137.8 L76.4,137.7 L77.4,137.5 L78.4,137.3 L79.4,137.2 L80.4,137.0 L81.4,136.9 L82.4,136.7 L83.4,136.6 L84.4,136.4 L85.4,136.2 L86.4,136.1 L87.4,135.9 L88.4,135.7 L89.4,135.6 L90.4,135.4 L91.4,135.3 L92.4,135.1 L93.4,135.0 L94.4,134.8 L95.4,134.7 L96.4,134.5 L97.4,134.4 L98.4,134.2 L99.4,134.1 L100.4,133.9 L101.4,133.8 L102.4,133.7 L103.4,133.5 L104.4,133.4 L105.4,133.3 L106.4,133.2 L107.4,133.1 L108.4,133.0 L109.4,132.8 L110.4,132.7 L111.4,132.6 L112.4,132.6 L113.4,132.5 L114.4,132.4 L115.4,132.3 L116.4,132.2 L117.4,132.1 L118.4,132.1 L119.4,132.0 L120.4,131.9 L121.4,131.9 L122.4,131.8 L123.4,131.7 L124.4,131.7 L125.4,131.6 L126.4,131.6 L127.4,131.6 L128.4,131.5 L129.4,131.5 L130.4,131.4 L131.4,131.4 L132.4,131.4 L133.4,131.4 L134.4,131.3 L135.4,131.3 L136.4,131.3 L137.4,131.3 L138.4,131.3 L139.4,131.3 L140.4,131.3 L141.4,131.3 L142.4,131.3 L143.4,131.3 L144.4,131.3 L145.4,131.3 L146.4,131.3 L147.4,131.3 L148.4,131.4 L149.4,131.4 L150.4,131.4 L151.4,131.4 L152.4,131.5 L153.4,131.5 L154.4,131.5 L155.4,131.6 L156.4,131.6 L157.4,131.6 L158.4,131.7 L159.4,131.7 L160.4,131.8 L161.4,131.8 L162.4,131.9 L163.4,131.9 L164.4,132.0 L165.4,132.1 L166.4,132.1 L167.4,132.2 L168.4,132.3 L169.4,132.3 L170.4,132.4 L171.4,132.5 L172.4,132.5 L173.4,132.6 L174.4,132.7 L175.4,132.8 L176.4,132.9 L177.4,132.9 L178.4,133.0 L179.4,133.1 L180.4,133.2 L181.4,133.3 L182.4,133.4 L183.4,133.5 L184.4,133.6 L185.4,133.7 L186.4,133.8 L187.4,133.9 L188.4,134.0 L189.4,134.1 L190.4,134.2 L191.4,134.3 L192.4,134.4 L193.4,134.5 L194.4,134.7 L195.4,134.8 L196.4,134.9 L197.4,135.0 L198.4,135.1 L199.4,135.2 L200.4,135.4 L201.4,135.5 L202.4,135.6 L203.4,135.7 L204.4,135.9 L205.4,136.0 L206.4,136.1 L207.4,136.2 L208.4,136.4 L209.4,136.5 L210.4,136.6 L211.4,136.8 L212.4,136.9 L213.4,137.0 L214.4,137.1 L215.4,137.3 L216.4,137.4 L217.4,137.5 L218.4,137.7 L219.4,137.8 L220.4,137.9 L221.4,138.1 L222.4,138.2 L223.4,138.4 L224.4,138.5 L225.4,138.6 L226.4,138.8 L227.4,138.9 L228.4,139.0 L229.4,139.2 L230.4,139.3 L231.4,139.4 L232.4,139.6 L233.4,139.7 L234.4,139.8 L235.4,140.0 L236.4,140.1 L237.4,140.3 L238.4,140.4 L239.4,140.5 L240.4,140.7 L241.4,140.8 L242.4,140.9 L243.4,141.0 L244.4,141.2 L245.4,141.3 L246.4,141.4 L247.4,141.6 L248.4,141.7 L249.4,141.8 L250.4,141.9 L251.4,142.1 L252.4,142.2 L253.4,142.3 L254.4,142.4 L255.4,142.6 L256.4,142.7 L257.4,142.8 L258.4,142.9 L259.4,143.0 L260.4,143.1 L261.4,143.3 L262.4,143.4 L263.4,143.5 L264.4,143.6 L265.4,143.7 L266.4,143.8 L267.4,143.9 L268.4,144.0 L269.4,144.1 L270.4,144.2 L271.4,144.3 L272.4,144.4 L273.4,144.5 L274.4,144.6 L275.4,144.7 L276.4,144.8 L277.4,144.9 L278.4,144.9 L279.4,145.0 L280.4,145.1 L281.4,145.2 L282.4,145.3 L283.4,145.3 L284.4,145.4 L285.4,145.5 L286.4,145.5 L287.4,145.6 L288.4,145.7 L289.4,145.7 L290.4,145.8 L291.4,145.8 L292.4,145.9 L293.4,145.9 L294.4,146.0 L295.4,146.0 L296.4,146.0 L297.4,146.1 L298.4,146.1 L299.4,146.1 L300.4,146.2 L301.4,146.2 L302.4,146.2 L303.4,146.2 L304.4,146.2 L305.4,146.2 L306.4,146.2 L307.4,146.2 L308.4,146.2 L309.4,146.2 L310.4,146.2 L311.4,146.2 L312.4,146.2 L313.4,146.2 L314.4,146.1 L315.4,146.1 L316.4,146.1 L317.4,146.0 L318.4,146.0 L319.4,146.0 L320.4,145.9 L321.4,145.9 L322.4,145.8 L323.4,145.7 L324.4,145.7 L325.4,145.6 L326.4,145.5 L327.4,145.4 L328.4,145.4 L329.4,145.3 L330.4,145.2 L331.4,145.1 L332.4,145.0 L333.4,144.9 L334.4,144.7 L335.4,144.6 L336.4,144.5 L337.4,144.4 L338.4,144.2 L339.4,144.1 L340.4,143.9 L341.4,143.8 L342.4,143.6 L343.4,143.4 L344.4,143.3 L345.4,143.1 L346.4,142.9 L347.4,142.7 L348.4,142.5 L349.4,142.3 L350.4,142.1 L351.4,141.8 L352.4,141.6 L353.4,141.4 L354.4,141.1 L355.4,140.9 L356.4,140.6 L357.4,140.3 L358.4,140.0 L359.4,139.8 L360.4,139.5 L361.4,139.1 L362.4,138.8 L363.4,138.5 L364.4,138.1 L365.4,137.8 L366.4,137.4 L367.4,137.0 L368.4,136.6 L369.4,136.2 L370.4,135.8 L371.4,135.4 L372.4,134.9 L373.4,134.5 L374.4,134.0 L375.4,133.5 L376.4,133.1 L377.4,132.6 L378.4,132.1 L379.4,131.6 L380.4,131.1 L381.4,130.6 L382.4,130.1 L383.4,129.7 L384.4,129.2 L385.4,128.7 L386.4,128.2 L387.4,127.7 L388.4,127.2 L389.4,126.7 L390.4,126.1 L391.4,125.6 L392.4,125.1 L393.4,124.6 L394.4,124.1 L395.4,123.6 L396.4,123.1 L397.4,122.7 L398.4,122.2 L399.4,121.7 L400.4,121.2 L401.4,120.7 L402.4,120.2 L403.4,119.7 L404.4,119.2 L405.4,118.7 L406.4,118.2 L407.4,117.7 L408.4,117.2 L409.4,116.7 L410.4,116.2 L411.4,115.7 L412.4,115.2 L413.4,114.7 L414.4,114.2 L415.4,113.7 L416.4,113.2 L417.4,112.7 L418.4,112.2 L419.4,111.6 L420.4,111.1 L421.4,110.6 L422.4,110.1 L423.4,109.6 L424.4,109.1 L425.4,108.5 L426.4,108.0 L427.4,107.5 L428.4,107.0 L429.4,106.5 L430.4,105.9 L431.4,105.4 L432.4,104.9 L433.4,104.3 L434.4,103.8 L435.4,103.3 L436.4,102.7 L437.4,102.2 L438.4,101.6 L439.4,101.1 L440.4,100.5 L441.4,100.0 L442.4,99.4 L443.4,98.9 L444.4,98.3 L445.4,97.8 L446.4,97.2 L447.4,96.6 L448.4,96.1 L449.4,95.5 L450.4,95.0 L451.4,94.4 L452.4,93.9 L453.4,93.3 L454.4,92.8 L455.4,92.2 L456.4,91.7 L457.4,91.2 L458.4,90.7 L459.4,90.2 L460.4,89.7 L461.4,89.2 L462.4,88.7 L463.4,88.2 L464.4,87.8 L465.4,87.3 L466.4,86.9 L467.4,86.4 L468.4,86.0 L469.4,85.6 L470.4,85.2 L471.4,84.8 L472.4,84.4 L473.4,84.0 L474.4,83.7 L475.4,83.3 L476.4,83.0 L477.4,82.6 L478.4,82.3 L479.4,82.0 L480.4,81.7 L481.4,81.4 L482.4,81.1 L483.4,80.9 L484.4,80.6 L485.4,80.3 L486.4,80.1 L487.4,79.9 L488.4,79.7 L489.4,79.4 L490.4,79.2 L491.4,79.0 L492.4,78.8 L493.4,78.7 L494.4,78.5 L495.4,78.3 L496.4,78.2 L497.4,78.0 L498.4,77.9 L499.4,77.8 L500.4,77.7 L501.4,77.5 L502.4,77.4 L503.4,77.3 L504.4,77.3 L505.4,77.2 L506.4,77.1 L507.4,77.1 L508.4,77.1 L509.4,77.0 L510.4,77.0 L511.4,77.0 L512.4,77.0 L513.4,77.0 L514.4,77.0 L515.4,77.1 L516.4,77.1 L517.4,77.2 L518.4,77.2 L519.4,77.3 L520.4,77.4 L521.4,77.5 L522.4,77.6 L523.4,77.7 L524.4,77.8 L525.4,78.0 L526.4,78.1 L527.4,78.3 L528.4,78.5 L529.4,78.6 L530.4,78.8 L531.4,79.0 L532.4,79.2 L533.4,79.5 L534.4,79.7 L535.4,79.9 L536.4,80.2 L537.4,80.4 L538.4,80.7 L539.4,81.0 L540.4,81.3 L541.4,81.6 L542.4,81.9 L543.4,82.2 L544.4,82.6 L545.4,82.9 L546.4,83.3 L547.4,83.6 L548.4,84.0 L549.4,84.4 L550.4,84.8 L551.4,85.2 L552.4,85.6 L553.4,86.0 L554.4,86.4 L555.4,86.8 L556.4,87.3 L557.4,87.7 L558.4,88.1 L559.4,88.6 L560.4,89.0 L561.4,89.5 L562.4,89.9 L563.4,90.4 L564.4,90.8 L565.4,91.2 L566.4,91.7 L567.4,92.1 L568.4,92.6 L569.4,93.0 L570.4,93.5 L571.4,93.9 L572.4,94.4 L573.4,94.8 L574.4,95.3 L575.4,95.7 L576.4,96.2 L577.4,96.6 L578.4,97.1 L579.4,97.6 L580.4,98.1 L581.4,98.5 L582.4,99.0 L583.4,99.5 L584.4,100.0 L585.4,100.5 L586.4,101.0 L587.4,101.5 L588.4,102.0 L589.4,102.6 L590.4,103.1 L591.4,103.7 L592.4,104.2 L593.4,104.8 L594.4,105.3 L595.4,105.9 L596.4,106.5 L597.4,107.0 L598.4,107.6 L599.4,108.2 L600.4,108.8 L601.4,109.4 L602.4,109.9 L603.4,110.5 L604.4,111.1 L605.4,111.7 L606.4,112.3 L607.4,112.9 L608.4,113.5 L609.4,114.1 L610.4,114.7 L611.4,115.3 L612.4,115.9 L613.4,116.5 L614.4,117.0 L615.4,117.6 L616.4,118.2 L617.4,118.8 L618.4,119.3 L619.4,119.9 L620.4,120.5 L621.4,121.0 L622.4,121.6 L623.4,122.1 L624.4,122.7 L625.4,123.2 L626.4,123.7 L627.4,124.2 L628.4,124.8 L629.4,125.3 L630.4,125.8 L631.4,126.3 L632.4,126.8 L633.4,127.2 L634.4,127.7 L635.4,128.2 L636.4,128.6 L637.4,129.1 L638.4,129.5 L639.4,130.0 L640.4,130.4 L641.4,130.8 L642.4,131.2 L643.4,131.7 L644.4,132.0 L645.4,132.4 L646.4,132.8 L647.4,133.2 L648.4,133.5 L649.4,133.9 L650.4,134.2 L651.4,134.6 L652.4,134.9 L653.4,135.2 L654.4,135.5 L655.4,135.8 L656.4,136.0 L657.4,136.3 L658.4,136.6 L659.4,136.8 L660.4,137.0 L661.4,137.3 L662.4,137.5 L663.4,137.7 L664.4,137.8 L665.4,138.0 L666.4,138.2 L667.4,138.3 L668.4,138.5 L669.4,138.6 L670.4,138.7 L671.4,138.8 L672.4,138.8 L673.4,138.9 L674.4,139.0 L675.4,139.0 L676.4,139.0 L677.4,139.0 L678.4,139.0 L678.6,139.0 L678.6,141.4 L678.4,141.4 L677.4,141.4 L676.4,141.4 L675.4,141.4 L674.4,141.4 L673.4,141.3 L672.4,141.2 L671.4,141.2 L670.4,141.1 L669.4,141.0 L668.4,140.9 L667.4,140.7 L666.4,140.6 L665.4,140.4 L664.4,140.2 L663.4,140.1 L662.4,139.9 L661.4,139.7 L660.4,139.4 L659.4,139.2 L658.4,139.0 L657.4,138.7 L656.4,138.4 L655.4,138.2 L654.4,137.9 L653.4,137.6 L652.4,137.3 L651.4,137.0 L650.4,136.6 L649.4,136.3 L648.4,135.9 L647.4,135.6 L646.4,135.2 L645.4,134.8 L644.4,134.4 L643.4,134.1 L642.4,133.6 L641.4,133.2 L640.4,132.8 L639.4,132.4 L638.4,131.9 L637.4,131.5 L636.4,131.0 L635.4,130.6 L634.4,130.1 L633.4,129.6 L632.4,129.2 L631.4,128.7 L630.4,128.2 L629.4,127.7 L628.4,127.2 L627.4,126.6 L626.4,126.1 L625.4,125.6 L624.4,125.1 L623.4,124.5 L622.4,124.0 L621.4,123.4 L620.4,122.9 L619.4,122.3 L618.4,121.7 L617.4,121.2 L616.4,120.6 L615.4,120.0 L614.4,119.4 L613.4,118.9 L612.4,118.3 L611.4,117.7 L610.4,117.1 L609.4,116.5 L608.4,115.9 L607.4,115.3 L606.4,114.7 L605.4,114.1 L604.4,113.5 L603.4,112.9 L602.4,112.3 L601.4,111.8 L600.4,111.2 L599.4,110.6 L598.4,110.0 L597.4,109.4 L596.4,108.9 L595.4,108.3 L594.4,107.7 L593.4,107.2 L592.4,106.6 L591.4,106.1 L590.4,105.5 L589.4,105.0 L588.4,104.4 L587.4,103.9 L586.4,103.4 L585.4,102.9 L584.4,102.4 L583.4,101.9 L582.4,101.4 L581.4,100.9 L580.4,100.5 L579.4,100.0 L578.4,99.5 L577.4,99.0 L576.4,98.6 L575.4,98.1 L574.4,97.7 L573.4,97.2 L572.4,96.8 L571.4,96.3 L570.4,95.9 L569.4,95.4 L568.4,95.0 L567.4,94.5 L566.4,94.1 L565.4,93.6 L564.4,93.2 L563.4,92.8 L562.4,92.3 L561.4,91.9 L560.4,91.4 L559.4,91.0 L558.4,90.5 L557.4,90.1 L556.4,89.7 L555.4,89.2 L554.4,88.8 L553.4,88.4 L552.4,88.0 L551.4,87.6 L550.4,87.2 L549.4,86.8 L548.4,86.4 L547.4,86.0 L546.4,85.7 L545.4,85.3 L544.4,85.0 L543.4,84.6 L542.4,84.3 L541.4,84.0 L540.4,83.7 L539.4,83.4 L538.4,83.1 L537.4,82.8 L536.4,82.6 L535.4,82.3 L534.4,82.1 L533.4,81.9 L532.4,81.6 L531.4,81.4 L530.4,81.2 L529.4,81.0 L528.4,80.9 L527.4,80.7 L526.4,80.5 L525.4,80.4 L524.4,80.2 L523.4,80.1 L522.4,80.0 L521.4,79.9 L520.4,79.8 L519.4,79.7 L518.4,79.6 L517.4,79.6 L516.4,79.5 L515.4,79.5 L514.4,79.4 L513.4,79.4 L512.4,79.4 L511.4,79.4 L510.4,79.4 L509.4,79.4 L508.4,79.5 L507.4,79.5 L506.4,79.5 L505.4,79.6 L504.4,79.7 L503.4,79.7 L502.4,79.8 L501.4,79.9 L500.4,80.1 L499.4,80.2 L498.4,80.3 L497.4,80.5 L496.4,80.6 L495.4,80.8 L494.4,81.0 L493.4,81.2 L492.4,81.4 L491.4,81.6 L490.4,81.8 L489.4,82.1 L488.4,82.3 L487.4,82.6 L486.4,82.9 L485.4,83.2 L484.4,83.5 L483.4,83.8 L482.4,84.1 L481.4,84.4 L480.4,84.8 L479.4,85.1 L478.4,85.5 L477.4,85.9 L476.4,86.3 L475.4,86.7 L474.4,87.1 L473.4,87.5 L472.4,88.0 L471.4,88.4 L470.4,88.9 L469.4,89.3 L468.4,89.8 L467.4,90.3 L466.4,90.8 L465.4,91.3 L464.4,91.8 L463.4,92.3 L462.4,92.8 L461.4,93.3 L460.4,93.9 L459.4,94.4 L458.4,94.9 L457.4,95.5 L456.4,96.0 L455.4,96.6 L454.4,97.1 L453.4,97.7 L452.4,98.2 L451.4,98.8 L450.4,99.4 L449.4,99.9 L448.4,100.5 L447.4,101.0 L446.4,101.6 L445.4,102.2 L444.4,102.7 L443.4,103.3 L442.4,103.8 L441.4,104.4 L440.4,104.9 L439.4,105.5 L438.4,106.0 L437.4,106.6 L436.4,107.1 L435.4,107.7 L434.4,108.2 L433.4,108.7 L432.4,109.3 L431.4,109.8 L430.4,110.3 L429.4,110.9 L428.4,111.4 L427.4,111.9 L426.4,112.4 L425.4,112.9 L424.4,113.5 L423.4,114.0 L422.4,114.5 L421.4,115.0 L420.4,115.5 L419.4,116.0 L418.4,116.6 L417.4,117.1 L416.4,117.6 L415.4,118.1 L414.4,118.6 L413.4,119.1 L412.4,119.6 L411.4,120.1 L410.4,120.6 L409.4,121.1 L408.4,121.6 L407.4,122.1 L406.4,122.6 L405.4,123.1 L404.4,123.6 L403.4,124.1 L402.4,124.6 L401.4,125.1 L400.4,125.6 L399.4,126.1 L398.4,126.5 L397.4,127.0 L396.4,127.5 L395.4,128.0 L394.4,128.4 L393.4,128.9 L392.4,129.3 L391.4,129.8 L390.4,130.2 L389.4,130.6 L388.4,131.1 L387.4,131.5 L386.4,131.9 L385.4,132.3 L384.4,132.7 L383.4,133.2 L382.4,133.6 L381.4,134.0 L380.4,134.4 L379.4,134.8 L378.4,135.2 L377.4,135.6 L376.4,135.9 L375.4,136.3 L374.4,136.7 L373.4,137.1 L372.4,137.5 L371.4,137.8 L370.4,138.2 L369.4,138.5 L368.4,138.9 L367.4,139.2 L366.4,139.6 L365.4,139.9 L364.4,140.2 L363.4,140.5 L362.4,140.8 L361.4,141.2 L360.4,141.5 L359.4,141.8 L358.4,142.0 L357.4,142.3 L356.4,142.6 L355.4,142.9 L354.4,143.1 L353.4,143.4 L352.4,143.6 L351.4,143.8 L350.4,144.1 L349.4,144.3 L348.4,144.5 L347.4,144.7 L346.4,144.9 L345.4,145.1 L344.4,145.3 L343.4,145.4 L342.4,145.6 L341.4,145.8 L340.4,145.9 L339.4,146.1 L338.4,146.2 L337.4,146.4 L336.4,146.5 L335.4,146.6 L334.4,146.7 L333.4,146.9 L332.4,147.0 L331.4,147.1 L330.4,147.2 L329.4,147.3 L328.4,147.4 L327.4,147.4 L326.4,147.5 L325.4,147.6 L324.4,147.7 L323.4,147.7 L322.4,147.8 L321.4,147.9 L320.4,147.9 L319.4,148.0 L318.4,148.0 L317.4,148.0 L316.4,148.1 L315.4,148.1 L314.4,148.1 L313.4,148.2 L312.4,148.2 L311.4,148.2 L310.4,148.2 L309.4,148.2 L308.4,148.2 L307.4,148.2 L306.4,148.2 L305.4,148.2 L304.4,148.2 L303.4,148.2 L302.4,148.2 L301.4,148.2 L300.4,148.2 L299.4,148.1 L298.4,148.1 L297.4,148.1 L296.4,148.0 L295.4,148.0 L294.4,148.0 L293.4,147.9 L292.4,147.9 L291.4,147.8 L290.4,147.8 L289.4,147.7 L288.4,147.7 L287.4,147.6 L286.4,147.5 L285.4,147.5 L284.4,147.4 L283.4,147.3 L282.4,147.3 L281.4,147.2 L280.4,147.1 L279.4,147.0 L278.4,146.9 L277.4,146.9 L276.4,146.8 L275.4,146.7 L274.4,146.6 L273.4,146.5 L272.4,146.4 L271.4,146.3 L270.4,146.2 L269.4,146.1 L268.4,146.0 L267.4,145.9 L266.4,145.8 L265.4,145.7 L264.4,145.6 L263.4,145.5 L262.4,145.4 L261.4,145.3 L260.4,145.1 L259.4,145.0 L258.4,144.9 L257.4,144.8 L256.4,144.7 L255.4,144.6 L254.4,144.4 L253.4,144.3 L252.4,144.2 L251.4,144.1 L250.4,143.9 L249.4,143.8 L248.4,143.7 L247.4,143.6 L246.4,143.4 L245.4,143.3 L244.4,143.2 L243.4,143.0 L242.4,142.9 L241.4,142.8 L240.4,142.7 L239.4,142.5 L238.4,142.4 L237.4,142.3 L236.4,142.1 L235.4,142.0 L234.4,141.8 L233.4,141.7 L232.4,141.6 L231.4,141.4 L230.4,141.3 L229.4,141.2 L228.4,141.0 L227.4,140.9 L226.4,140.8 L225.4,140.6 L224.4,140.5 L223.4,140.4 L222.4,140.2 L221.4,140.1 L220.4,139.9 L219.4,139.8 L218.4,139.7 L217.4,139.5 L216.4,139.4 L215.4,139.3 L214.4,139.1 L213.4,139.0 L212.4,138.9 L211.4,138.8 L210.4,138.6 L209.4,138.5 L208.4,138.4 L207.4,138.2 L206.4,138.1 L205.4,138.0 L204.4,137.9 L203.4,137.7 L202.4,137.6 L201.4,137.5 L200.4,137.4 L199.4,137.2 L198.4,137.1 L197.4,137.0 L196.4,136.9 L195.4,136.8 L194.4,136.7 L193.4,136.5 L192.4,136.4 L191.4,136.3 L190.4,136.2 L189.4,136.1 L188.4,136.0 L187.4,135.9 L186.4,135.8 L185.4,135.7 L184.4,135.6 L183.4,135.5 L182.4,135.4 L181.4,135.3 L180.4,135.2 L179.4,135.1 L178.4,135.0 L177.4,134.9 L176.4,134.9 L175.4,134.8 L174.4,134.7 L173.4,134.6 L172.4,134.5 L171.4,134.5 L170.4,134.4 L169.4,134.3 L168.4,134.3 L167.4,134.2 L166.4,134.1 L165.4,134.1 L164.4,134.0 L163.4,133.9 L162.4,133.9 L161.4,133.8 L160.4,133.8 L159.4,133.7 L158.4,133.7 L157.4,133.6 L156.4,133.6 L155.4,133.6 L154.4,133.5 L153.4,133.5 L152.4,133.5 L151.4,133.4 L150.4,133.4 L149.4,133.4 L148.4,133.4 L147.4,133.3 L146.4,133.3 L145.4,133.3 L144.4,133.3 L143.4,133.3 L142.4,133.3 L141.4,133.3 L140.4,133.3 L139.4,133.3 L138.4,133.3 L137.4,133.3 L136.4,133.3 L135.4,133.3 L134.4,133.3 L133.4,133.4 L132.4,133.4 L131.4,133.4 L130.4,133.4 L129.4,133.5 L128.4,133.5 L127.4,133.6 L126.4,133.6 L125.4,133.6 L124.4,133.7 L123.4,133.7 L122.4,133.8 L121.4,133.9 L120.4,133.9 L119.4,134.0 L118.4,134.1 L117.4,134.1 L116.4,134.2 L115.4,134.3 L114.4,134.4 L113.4,134.5 L112.4,134.6 L111.4,134.6 L110.4,134.7 L109.4,134.8 L108.4,135.0 L107.4,135.1 L106.4,135.2 L105.4,135.3 L104.4,135.4 L103.4,135.5 L102.4,135.7 L101.4,135.8 L100.4,135.9 L99.4,136.1 L98.4,136.2 L97.4,136.4 L96.4,136.5 L95.4,136.7 L94.4,136.8 L93.4,137.0 L92.4,137.1 L91.4,137.3 L90.4,137.4 L89.4,137.6 L88.4,137.7 L87.4,137.9 L86.4,138.1 L85.4,138.2 L84.4,138.4 L83.4,138.6 L82.4,138.7 L81.4,138.9 L80.4,139.0 L79.4,139.2 L78.4,139.3 L77.4,139.5 L76.4,139.7 L75.4,139.8 L74.4,140.0 L73.4,140.1 L72.4,140.3 L71.4,140.4 L70.4,140.5 L69.4,140.7 L68.4,140.8 L67.4,140.9 L66.4,141.1 L65.4,141.2 L64.4,141.3 L63.4,141.4 L62.4,141.5 L61.4,141.6 L60.4,141.7 L59.4,141.8 L58.4,141.9 L57.4,142.0 L56.4,142.1 L55.4,142.1 L54.4,142.2 L53.4,142.3 L52.4,142.3 L51.4,142.4 L50.4,142.4 L49.4,142.4 L48.4,142.5 L47.4,142.5 L46.4,142.5 L45.4,142.5 L44.4,142.5 L43.4,142.5 L42.4,142.4 L41.4,142.4 L40.4,142.4 L39.4,142.3 L38.4,142.3 L37.4,142.2 L36.4,142.1 L35.4,142.0 L34.4,141.9 Z" fill="#e4b03a" fill-opacity="0.25"/>
<path d="M34.4,140.91 L34.9,140.96 L35.4,141.01 L35.9,141.06 L36.4,141.10 L36.9,141.14 L37.4,141.18 L37.9,141.22 L38.4,141.25 L38.9,141.29 L39.4,141.31 L39.9,141.34 L40.4,141.37 L40.9,141.39 L41.4,141.41 L41.9,141.43 L42.4,141.44 L42.9,141.45 L43.4,141.47 L43.9,141.47 L44.4,141.48 L44.9,141.49 L45.4,141.49 L45.9,141.49 L46.4,141.49 L46.9,141.48 L47.4,141.48 L47.9,141.47 L48.4,141.46 L48.9,141.45 L49.4,141.44 L49.9,141.42 L50.4,141.41 L50.9,141.39 L51.4,141.37 L51.9,141.35 L52.4,141.32 L52.9,141.30 L53.4,141.27 L53.9,141.24 L54.4,141.21 L54.9,141.18 L55.4,141.14 L55.9,141.11 L56.4,141.07 L56.9,141.03 L57.4,140.99 L57.9,140.95 L58.4,140.91 L58.9,140.87 L59.4,140.82 L59.9,140.77 L60.4,140.73 L60.9,140.68 L61.4,140.63 L61.9,140.57 L62.4,140.52 L62.9,140.47 L63.4,140.41 L63.9,140.36 L64.4,140.30 L64.9,140.24 L65.4,140.18 L65.9,140.12 L66.4,140.06 L66.9,140.00 L67.4,139.93 L67.9,139.87 L68.4,139.80 L68.9,139.74 L69.4,139.67 L69.9,139.60 L70.4,139.53 L70.9,139.46 L71.4,139.39 L71.9,139.32 L72.4,139.25 L72.9,139.18 L73.4,139.11 L73.9,139.03 L74.4,138.96 L74.9,138.88 L75.4,138.81 L75.9,138.73 L76.4,138.66 L76.9,138.58 L77.4,138.50 L77.9,138.42 L78.4,138.35 L78.9,138.27 L79.4,138.19 L79.9,138.11 L80.4,138.03 L80.9,137.95 L81.4,137.87 L81.9,137.79 L82.4,137.71 L82.9,137.63 L83.4,137.55 L83.9,137.47 L84.4,137.39 L84.9,137.31 L85.4,137.23 L85.9,137.15 L86.4,137.07 L86.9,136.99 L87.4,136.91 L87.9,136.83 L88.4,136.75 L88.9,136.67 L89.4,136.59 L89.9,136.51 L90.4,136.43 L90.9,136.35 L91.4,136.27 L91.9,136.20 L92.4,136.12 L92.9,136.04 L93.4,135.96 L93.9,135.89 L94.4,135.81 L94.9,135.73 L95.4,135.66 L95.9,135.58 L96.4,135.51 L96.9,135.44 L97.4,135.36 L97.9,135.29 L98.4,135.22 L98.9,135.15 L99.4,135.08 L99.9,135.01 L100.4,134.94 L100.9,134.87 L101.4,134.80 L101.9,134.74 L102.4,134.67 L102.9,134.60 L103.4,134.54 L103.9,134.48 L104.4,134.42 L104.9,134.35 L105.4,134.29 L105.9,134.24 L106.4,134.18 L106.9,134.12 L107.4,134.06 L107.9,134.01 L108.4,133.95 L108.9,133.90 L109.4,133.85 L109.9,133.80 L110.4,133.75 L110.9,133.70 L111.4,133.65 L111.9,133.60 L112.4,133.55 L112.9,133.51 L113.4,133.46 L113.9,133.42 L114.4,133.37 L114.9,133.33 L115.4,133.29 L115.9,133.25 L116.4,133.21 L116.9,133.17 L117.4,133.13 L117.9,133.10 L118.4,133.06 L118.9,133.02 L119.4,132.99 L119.9,132.96 L120.4,132.92 L120.9,132.89 L121.4,132.86 L121.9,132.83 L122.4,132.80 L122.9,132.77 L123.4,132.74 L123.9,132.72 L124.4,132.69 L124.9,132.67 L125.4,132.64 L125.9,132.62 L126.4,132.59 L126.9,132.57 L127.4,132.55 L127.9,132.53 L128.4,132.51 L128.9,132.49 L129.4,132.47 L129.9,132.46 L130.4,132.44 L130.9,132.43 L131.4,132.41 L131.9,132.40 L132.4,132.38 L132.9,132.37 L133.4,132.36 L133.9,132.35 L134.4,132.34 L134.9,132.33 L135.4,132.32 L135.9,132.31 L136.4,132.31 L136.9,132.30 L137.4,132.29 L137.9,132.29 L138.4,132.28 L138.9,132.28 L139.4,132.28 L139.9,132.28 L140.4,132.28 L140.9,132.27 L141.4,132.27 L141.9,132.28 L142.4,132.28 L142.9,132.28 L143.4,132.28 L143.9,132.29 L144.4,132.29 L144.9,132.30 L145.4,132.30 L145.9,132.31 L146.4,132.32 L146.9,132.32 L147.4,132.33 L147.9,132.34 L148.4,132.35 L148.9,132.36 L149.4,132.37 L149.9,132.38 L150.4,132.40 L150.9,132.41 L151.4,132.42 L151.9,132.44 L152.4,132.45 L152.9,132.47 L153.4,132.49 L153.9,132.50 L154.4,132.52 L154.9,132.54 L155.4,132.56 L155.9,132.58 L156.4,132.60 L156.9,132.62 L157.4,132.64 L157.9,132.66 L158.4,132.68 L158.9,132.71 L159.4,132.73 L159.9,132.75 L160.4,132.78 L160.9,132.80 L161.4,132.83 L161.9,132.86 L162.4,132.88 L162.9,132.91 L163.4,132.94 L163.9,132.97 L164.4,133.00 L164.9,133.03 L165.4,133.06 L165.9,133.09 L166.4,133.12 L166.9,133.15 L167.4,133.19 L167.9,133.22 L168.4,133.25 L168.9,133.29 L169.4,133.32 L169.9,133.36 L170.4,133.39 L170.9,133.43 L171.4,133.47 L171.9,133.50 L172.4,133.54 L172.9,133.58 L173.4,133.62 L173.9,133.66 L174.4,133.70 L174.9,133.74 L175.4,133.78 L175.9,133.82 L176.4,133.86 L176.9,133.91 L177.4,133.95 L177.9,133.99 L178.4,134.04 L178.9,134.08 L179.4,134.12 L179.9,134.17 L180.4,134.21 L180.9,134.26 L181.4,134.31 L181.9,134.35 L182.4,134.40 L182.9,134.45 L183.4,134.50 L183.9,134.55 L184.4,134.59 L184.9,134.64 L185.4,134.69 L185.9,134.74 L186.4,134.79 L186.9,134.85 L187.4,134.90 L187.9,134.95 L188.4,135.00 L188.9,135.05 L189.4,135.11 L189.9,135.16 L190.4,135.21 L190.9,135.27 L191.4,135.32 L191.9,135.38 L192.4,135.43 L192.9,135.49 L193.4,135.54 L193.9,135.60 L194.4,135.66 L194.9,135.71 L195.4,135.77 L195.9,135.83 L196.4,135.89 L196.9,135.95 L197.4,136.00 L197.9,136.06 L198.4,136.12 L198.9,136.18 L199.4,136.24 L199.9,136.30 L200.4,136.36 L200.9,136.42 L201.4,136.48 L201.9,136.54 L202.4,136.61 L202.9,136.67 L203.4,136.73 L203.9,136.79 L204.4,136.85 L204.9,136.92 L205.4,136.98 L205.9,137.04 L206.4,137.11 L206.9,137.17 L207.4,137.23 L207.9,137.30 L208.4,137.36 L208.9,137.43 L209.4,137.49 L209.9,137.56 L210.4,137.62 L210.9,137.69 L211.4,137.75 L211.9,137.82 L212.4,137.88 L212.9,137.95 L213.4,138.01 L213.9,138.08 L214.4,138.15 L214.9,138.21 L215.4,138.28 L215.9,138.35 L216.4,138.41 L216.9,138.48 L217.4,138.55 L217.9,138.61 L218.4,138.68 L218.9,138.75 L219.4,138.81 L219.9,138.88 L220.4,138.95 L220.9,139.02 L221.4,139.08 L221.9,139.15 L222.4,139.22 L222.9,139.29 L223.4,139.36 L223.9,139.42 L224.4,139.49 L224.9,139.56 L225.4,139.63 L225.9,139.70 L226.4,139.76 L226.9,139.83 L227.4,139.90 L227.9,139.97 L228.4,140.04 L228.9,140.10 L229.4,140.17 L229.9,140.24 L230.4,140.31 L230.9,140.38 L231.4,140.44 L231.9,140.51 L232.4,140.58 L232.9,140.65 L233.4,140.71 L233.9,140.78 L234.4,140.85 L234.9,140.92 L235.4,140.98 L235.9,141.05 L236.4,141.12 L236.9,141.19 L237.4,141.25 L237.9,141.32 L238.4,141.39 L238.9,141.45 L239.4,141.52 L239.9,141.59 L240.4,141.65 L240.9,141.72 L241.4,141.79 L241.9,141.85 L242.4,141.92 L242.9,141.98 L243.4,142.05 L243.9,142.11 L244.4,142.18 L244.9,142.25 L245.4,142.31 L245.9,142.37 L246.4,142.44 L246.9,142.50 L247.4,142.57 L247.9,142.63 L248.4,142.70 L248.9,142.76 L249.4,142.82 L249.9,142.89 L250.4,142.95 L250.9,143.01 L251.4,143.07 L251.9,143.13 L252.4,143.20 L252.9,143.26 L253.4,143.32 L253.9,143.38 L254.4,143.44 L254.9,143.50 L255.4,143.56 L255.9,143.62 L256.4,143.68 L256.9,143.74 L257.4,143.80 L257.9,143.86 L258.4,143.92 L258.9,143.98 L259.4,144.03 L259.9,144.09 L260.4,144.15 L260.9,144.21 L261.4,144.26 L261.9,144.32 L262.4,144.37 L262.9,144.43 L263.4,144.48 L263.9,144.54 L264.4,144.59 L264.9,144.65 L265.4,144.70 L265.9,144.75 L266.4,144.81 L266.9,144.86 L267.4,144.91 L267.9,144.96 L268.4,145.01 L268.9,145.07 L269.4,145.12 L269.9,145.17 L270.4,145.21 L270.9,145.26 L271.4,145.31 L271.9,145.36 L272.4,145.41 L272.9,145.46 L273.4,145.50 L273.9,145.55 L274.4,145.59 L274.9,145.64 L275.4,145.68 L275.9,145.73 L276.4,145.77 L276.9,145.82 L277.4,145.86 L277.9,145.90 L278.4,145.94 L278.9,145.98 L279.4,146.03 L279.9,146.07 L280.4,146.10 L280.9,146.14 L281.4,146.18 L281.9,146.22 L282.4,146.26 L282.9,146.29 L283.4,146.33 L283.9,146.37 L284.4,146.40 L284.9,146.43 L285.4,146.47 L285.9,146.50 L286.4,146.53 L286.9,146.57 L287.4,146.60 L287.9,146.63 L288.4,146.66 L288.9,146.69 L289.4,146.71 L289.9,146.74 L290.4,146.77 L290.9,146.80 L291.4,146.82 L291.9,146.85 L292.4,146.87 L292.9,146.89 L293.4,146.92 L293.9,146.94 L294.4,146.96 L294.9,146.98 L295.4,147.00 L295.9,147.02 L296.4,147.04 L296.9,147.06 L297.4,147.07 L297.9,147.09 L298.4,147.11 L298.9,147.12 L299.4,147.13 L299.9,147.15 L300.4,147.16 L300.9,147.17 L301.4,147.18 L301.9,147.19 L302.4,147.20 L302.9,147.21 L303.4,147.21 L303.9,147.22 L304.4,147.23 L304.9,147.23 L305.4,147.23 L305.9,147.24 L306.4,147.24 L306.9,147.24 L307.4,147.24 L307.9,147.24 L308.4,147.24 L308.9,147.24 L309.4,147.23 L309.9,147.23 L310.4,147.22 L310.9,147.22 L311.4,147.21 L311.9,147.20 L312.4,147.19 L312.9,147.18 L313.4,147.17 L313.9,147.16 L314.4,147.14 L314.9,147.13 L315.4,147.12 L315.9,147.10 L316.4,147.08 L316.9,147.06 L317.4,147.04 L317.9,147.02 L318.4,147.00 L318.9,146.98 L319.4,146.96 L319.9,146.93 L320.4,146.91 L320.9,146.88 L321.4,146.85 L321.9,146.82 L322.4,146.80 L322.9,146.76 L323.4,146.73 L323.9,146.70 L324.4,146.67 L324.9,146.63 L325.4,146.59 L325.9,146.56 L326.4,146.52 L326.9,146.48 L327.4,146.44 L327.9,146.39 L328.4,146.35 L328.9,146.31 L329.4,146.26 L329.9,146.21 L330.4,146.17 L330.9,146.12 L331.4,146.07 L331.9,146.01 L332.4,145.96 L332.9,145.91 L333.4,145.85 L333.9,145.79 L334.4,145.73 L334.9,145.68 L335.4,145.61 L335.9,145.55 L336.4,145.49 L336.9,145.42 L337.4,145.35 L337.9,145.29 L338.4,145.22 L338.9,145.15 L339.4,145.07 L339.9,145.00 L340.4,144.92 L340.9,144.85 L341.4,144.77 L341.9,144.69 L342.4,144.60 L342.9,144.52 L343.4,144.43 L343.9,144.35 L344.4,144.26 L344.9,144.17 L345.4,144.08 L345.9,143.98 L346.4,143.89 L346.9,143.79 L347.4,143.69 L347.9,143.59 L348.4,143.49 L348.9,143.38 L349.4,143.28 L349.9,143.17 L350.4,143.06 L350.9,142.95 L351.4,142.84 L351.9,142.72 L352.4,142.60 L352.9,142.48 L353.4,142.36 L353.9,142.24 L354.4,142.12 L354.9,141.99 L355.4,141.86 L355.9,141.73 L356.4,141.60 L356.9,141.46 L357.4,141.32 L357.9,141.18 L358.4,141.04 L358.9,140.90 L359.4,140.75 L359.9,140.61 L360.4,140.46 L360.9,140.30 L361.4,140.15 L361.9,139.99 L362.4,139.84 L362.9,139.68 L363.4,139.51 L363.9,139.35 L364.4,139.18 L364.9,139.01 L365.4,138.84 L365.9,138.66 L366.4,138.49 L366.9,138.31 L367.4,138.13 L367.9,137.94 L368.4,137.76 L368.9,137.57 L369.4,137.38 L369.9,137.18 L370.4,136.99 L370.9,136.79 L371.4,136.59 L371.9,136.39 L372.4,136.19 L372.9,135.98 L373.4,135.78 L373.9,135.57 L374.4,135.36 L374.9,135.15 L375.4,134.94 L375.9,134.72 L376.4,134.51 L376.9,134.29 L377.4,134.07 L377.9,133.86 L378.4,133.64 L378.9,133.42 L379.4,133.20 L379.9,132.97 L380.4,132.75 L380.9,132.53 L381.4,132.31 L381.9,132.08 L382.4,131.86 L382.9,131.63 L383.4,131.40 L383.9,131.18 L384.4,130.95 L384.9,130.72 L385.4,130.49 L385.9,130.26 L386.4,130.03 L386.9,129.80 L387.4,129.57 L387.9,129.34 L388.4,129.11 L388.9,128.88 L389.4,128.64 L389.9,128.41 L390.4,128.17 L390.9,127.94 L391.4,127.70 L391.9,127.47 L392.4,127.23 L392.9,126.99 L393.4,126.76 L393.9,126.52 L394.4,126.28 L394.9,126.04 L395.4,125.80 L395.9,125.56 L396.4,125.32 L396.9,125.08 L397.4,124.84 L397.9,124.60 L398.4,124.35 L398.9,124.11 L399.4,123.87 L399.9,123.62 L400.4,123.38 L400.9,123.13 L401.4,122.89 L401.9,122.64 L402.4,122.40 L402.9,122.15 L403.4,121.91 L403.9,121.66 L404.4,121.41 L404.9,121.16 L405.4,120.92 L405.9,120.67 L406.4,120.42 L406.9,120.17 L407.4,119.92 L407.9,119.67 L408.4,119.42 L408.9,119.17 L409.4,118.92 L409.9,118.67 L410.4,118.42 L410.9,118.16 L411.4,117.91 L411.9,117.66 L412.4,117.41 L412.9,117.15 L413.4,116.90 L413.9,116.65 L414.4,116.39 L414.9,116.14 L415.4,115.88 L415.9,115.63 L416.4,115.37 L416.9,115.12 L417.4,114.86 L417.9,114.61 L418.4,114.35 L418.9,114.10 L419.4,113.84 L419.9,113.58 L420.4,113.33 L420.9,113.07 L421.4,112.81 L421.9,112.56 L422.4,112.30 L422.9,112.04 L423.4,111.78 L423.9,111.52 L424.4,111.27 L424.9,111.01 L425.4,110.75 L425.9,110.49 L426.4,110.23 L426.9,109.97 L427.4,109.71 L427.9,109.45 L428.4,109.18 L428.9,108.92 L429.4,108.66 L429.9,108.40 L430.4,108.13 L430.9,107.87 L431.4,107.61 L431.9,107.34 L432.4,107.07 L432.9,106.81 L433.4,106.54 L433.9,106.28 L434.4,106.01 L434.9,105.74 L435.4,105.47 L435.9,105.20 L436.4,104.93 L436.9,104.66 L437.4,104.39 L437.9,104.12 L438.4,103.84 L438.9,103.57 L439.4,103.29 L439.9,103.02 L440.4,102.74 L440.9,102.47 L441.4,102.19 L441.9,101.91 L442.4,101.63 L442.9,101.36 L443.4,101.08 L443.9,100.80 L444.4,100.52 L444.9,100.24 L445.4,99.96 L445.9,99.68 L446.4,99.40 L446.9,99.12 L447.4,98.84 L447.9,98.56 L448.4,98.28 L448.9,98.00 L449.4,97.72 L449.9,97.44 L450.4,97.16 L450.9,96.88 L451.4,96.60 L451.9,96.33 L452.4,96.05 L452.9,95.78 L453.4,95.50 L453.9,95.23 L454.4,94.96 L454.9,94.69 L455.4,94.42 L455.9,94.15 L456.4,93.88 L456.9,93.61 L457.4,93.35 L457.9,93.08 L458.4,92.82 L458.9,92.56 L459.4,92.30 L459.9,92.04 L460.4,91.78 L460.9,91.52 L461.4,91.27 L461.9,91.02 L462.4,90.77 L462.9,90.52 L463.4,90.27 L463.9,90.03 L464.4,89.78 L464.9,89.54 L465.4,89.30 L465.9,89.06 L466.4,88.83 L466.9,88.60 L467.4,88.36 L467.9,88.14 L468.4,87.91 L468.9,87.68 L469.4,87.46 L469.9,87.24 L470.4,87.02 L470.9,86.81 L471.4,86.60 L471.9,86.39 L472.4,86.18 L472.9,85.98 L473.4,85.77 L473.9,85.57 L474.4,85.38 L474.9,85.18 L475.4,84.99 L475.9,84.80 L476.4,84.62 L476.9,84.44 L477.4,84.26 L477.9,84.08 L478.4,83.91 L478.9,83.74 L479.4,83.57 L479.9,83.40 L480.4,83.24 L480.9,83.08 L481.4,82.92 L481.9,82.77 L482.4,82.61 L482.9,82.46 L483.4,82.32 L483.9,82.17 L484.4,82.03 L484.9,81.89 L485.4,81.75 L485.9,81.62 L486.4,81.49 L486.9,81.36 L487.4,81.23 L487.9,81.11 L488.4,80.99 L488.9,80.87 L489.4,80.75 L489.9,80.64 L490.4,80.53 L490.9,80.42 L491.4,80.32 L491.9,80.21 L492.4,80.11 L492.9,80.01 L493.4,79.92 L493.9,79.83 L494.4,79.73 L494.9,79.65 L495.4,79.56 L495.9,79.48 L496.4,79.40 L496.9,79.32 L497.4,79.25 L497.9,79.17 L498.4,79.10 L498.9,79.04 L499.4,78.97 L499.9,78.91 L500.4,78.85 L500.9,78.79 L501.4,78.74 L501.9,78.69 L502.4,78.64 L502.9,78.59 L503.4,78.55 L503.9,78.51 L504.4,78.47 L504.9,78.43 L505.4,78.40 L505.9,78.37 L506.4,78.34 L506.9,78.31 L507.4,78.29 L507.9,78.27 L508.4,78.25 L508.9,78.24 L509.4,78.22 L509.9,78.21 L510.4,78.21 L510.9,78.20 L511.4,78.20 L511.9,78.20 L512.4,78.20 L512.9,78.21 L513.4,78.21 L513.9,78.22 L514.4,78.24 L514.9,78.25 L515.4,78.27 L515.9,78.29 L516.4,78.31 L516.9,78.34 L517.4,78.37 L517.9,78.40 L518.4,78.43 L518.9,78.47 L519.4,78.51 L519.9,78.55 L520.4,78.59 L520.9,78.64 L521.4,78.69 L521.9,78.74 L522.4,78.80 L522.9,78.85 L523.4,78.91 L523.9,78.98 L524.4,79.04 L524.9,79.11 L525.4,79.18 L525.9,79.25 L526.4,79.33 L526.9,79.40 L527.4,79.48 L527.9,79.57 L528.4,79.65 L528.9,79.74 L529.4,79.83 L529.9,79.93 L530.4,80.02 L530.9,80.12 L531.4,80.22 L531.9,80.33 L532.4,80.43 L532.9,80.54 L533.4,80.65 L533.9,80.77 L534.4,80.88 L534.9,81.00 L535.4,81.13 L535.9,81.25 L536.4,81.38 L536.9,81.51 L537.4,81.64 L537.9,81.77 L538.4,81.91 L538.9,82.05 L539.4,82.20 L539.9,82.34 L540.4,82.49 L540.9,82.64 L541.4,82.79 L541.9,82.95 L542.4,83.11 L542.9,83.27 L543.4,83.43 L543.9,83.60 L544.4,83.77 L544.9,83.94 L545.4,84.12 L545.9,84.29 L546.4,84.47 L546.9,84.65 L547.4,84.84 L547.9,85.02 L548.4,85.21 L548.9,85.40 L549.4,85.60 L549.9,85.79 L550.4,85.99 L550.9,86.19 L551.4,86.39 L551.9,86.59 L552.4,86.79 L552.9,87.00 L553.4,87.21 L553.9,87.41 L554.4,87.62 L554.9,87.83 L555.4,88.05 L555.9,88.26 L556.4,88.47 L556.9,88.69 L557.4,88.91 L557.9,89.12 L558.4,89.34 L558.9,89.56 L559.4,89.78 L559.9,90.00 L560.4,90.22 L560.9,90.44 L561.4,90.66 L561.9,90.89 L562.4,91.11 L562.9,91.33 L563.4,91.55 L563.9,91.78 L564.4,92.00 L564.9,92.22 L565.4,92.44 L565.9,92.67 L566.4,92.89 L566.9,93.11 L567.4,93.33 L567.9,93.55 L568.4,93.78 L568.9,94.00 L569.4,94.22 L569.9,94.44 L570.4,94.67 L570.9,94.89 L571.4,95.11 L571.9,95.34 L572.4,95.56 L572.9,95.79 L573.4,96.01 L573.9,96.24 L574.4,96.47 L574.9,96.69 L575.4,96.92 L575.9,97.15 L576.4,97.38 L576.9,97.61 L577.4,97.84 L577.9,98.07 L578.4,98.31 L578.9,98.54 L579.4,98.78 L579.9,99.01 L580.4,99.25 L580.9,99.49 L581.4,99.73 L581.9,99.97 L582.4,100.21 L582.9,100.46 L583.4,100.70 L583.9,100.95 L584.4,101.20 L584.9,101.45 L585.4,101.70 L585.9,101.95 L586.4,102.21 L586.9,102.46 L587.4,102.72 L587.9,102.98 L588.4,103.25 L588.9,103.51 L589.4,103.78 L589.9,104.04 L590.4,104.31 L590.9,104.58 L591.4,104.86 L591.9,105.13 L592.4,105.40 L592.9,105.68 L593.4,105.96 L593.9,106.24 L594.4,106.52 L594.9,106.80 L595.4,107.09 L595.9,107.37 L596.4,107.66 L596.9,107.94 L597.4,108.23 L597.9,108.52 L598.4,108.81 L598.9,109.10 L599.4,109.39 L599.9,109.68 L600.4,109.97 L600.9,110.27 L601.4,110.56 L601.9,110.85 L602.4,111.15 L602.9,111.44 L603.4,111.74 L603.9,112.04 L604.4,112.33 L604.9,112.63 L605.4,112.92 L605.9,113.22 L606.4,113.52 L606.9,113.81 L607.4,114.11 L607.9,114.41 L608.4,114.70 L608.9,115.00 L609.4,115.30 L609.9,115.59 L610.4,115.89 L610.9,116.19 L611.4,116.48 L611.9,116.77 L612.4,117.07 L612.9,117.36 L613.4,117.65 L613.9,117.95 L614.4,118.24 L614.9,118.53 L615.4,118.82 L615.9,119.11 L616.4,119.40 L616.9,119.68 L617.4,119.97 L617.9,120.25 L618.4,120.54 L618.9,120.82 L619.4,121.10 L619.9,121.38 L620.4,121.66 L620.9,121.94 L621.4,122.22 L621.9,122.49 L622.4,122.77 L622.9,123.04 L623.4,123.31 L623.9,123.58 L624.4,123.85 L624.9,124.12 L625.4,124.39 L625.9,124.65 L626.4,124.92 L626.9,125.18 L627.4,125.44 L627.9,125.70 L628.4,125.95 L628.9,126.21 L629.4,126.46 L629.9,126.72 L630.4,126.97 L630.9,127.22 L631.4,127.46 L631.9,127.71 L632.4,127.95 L632.9,128.20 L633.4,128.44 L633.9,128.68 L634.4,128.91 L634.9,129.15 L635.4,129.38 L635.9,129.61 L636.4,129.84 L636.9,130.07 L637.4,130.30 L637.9,130.52 L638.4,130.74 L638.9,130.96 L639.4,131.18 L639.9,131.40 L640.4,131.61 L640.9,131.82 L641.4,132.03 L641.9,132.24 L642.4,132.45 L642.9,132.65 L643.4,132.85 L643.9,133.05 L644.4,133.25 L644.9,133.44 L645.4,133.63 L645.9,133.82 L646.4,134.01 L646.9,134.20 L647.4,134.38 L647.9,134.56 L648.4,134.74 L648.9,134.91 L649.4,135.09 L649.9,135.26 L650.4,135.43 L650.9,135.59 L651.4,135.75 L651.9,135.92 L652.4,136.07 L652.9,136.23 L653.4,136.38 L653.9,136.53 L654.4,136.68 L654.9,136.83 L655.4,136.97 L655.9,137.11 L656.4,137.24 L656.9,137.38 L657.4,137.51 L657.9,137.64 L658.4,137.76 L658.9,137.89 L659.4,138.01 L659.9,138.12 L660.4,138.24 L660.9,138.35 L661.4,138.46 L661.9,138.56 L662.4,138.67 L662.9,138.76 L663.4,138.86 L663.9,138.95 L664.4,139.04 L664.9,139.13 L665.4,139.22 L665.9,139.30 L666.4,139.37 L666.9,139.45 L667.4,139.52 L667.9,139.59 L668.4,139.65 L668.9,139.71 L669.4,139.77 L669.9,139.83 L670.4,139.88 L670.9,139.93 L671.4,139.97 L671.9,140.01 L672.4,140.05 L672.9,140.08 L673.4,140.12 L673.9,140.14 L674.4,140.17 L674.9,140.19 L675.4,140.20 L675.9,140.22 L676.4,140.23 L676.9,140.23 L677.4,140.24 L677.9,140.23 L678.4,140.23 L678.6,140.23" fill="none" stroke="#e3b340" stroke-width="1.4"/>
<path d="M34.4,141.13 L34.9,141.06 L35.4,141.00 L35.9,140.94 L36.4,140.87 L36.9,140.80 L37.4,140.72 L37.9,140.65 L38.4,140.57 L38.9,140.49 L39.4,140.40 L39.9,140.32 L40.4,140.23 L40.9,140.14 L41.4,140.05 L41.9,139.95 L42.4,139.86 L42.9,139.76 L43.4,139.66 L43.9,139.55 L44.4,139.45 L44.9,139.34 L45.4,139.24 L45.9,139.13 L46.4,139.02 L46.9,138.90 L47.4,138.79 L47.9,138.67 L48.4,138.56 L48.9,138.44 L49.4,138.32 L49.9,138.20 L50.4,138.07 L50.9,137.95 L51.4,137.83 L51.9,137.70 L52.4,137.57 L52.9,137.44 L53.4,137.31 L53.9,137.18 L54.4,137.05 L54.9,136.92 L55.4,136.79 L55.9,136.66 L56.4,136.52 L56.9,136.39 L57.4,136.25 L57.9,136.12 L58.4,135.98 L58.9,135.84 L59.4,135.71 L59.9,135.57 L60.4,135.43 L60.9,135.29 L61.4,135.15 L61.9,135.01 L62.4,134.88 L62.9,134.74 L63.4,134.60 L63.9,134.46 L64.4,134.32 L64.9,134.18 L65.4,134.04 L65.9,133.91 L66.4,133.77 L66.9,133.63 L67.4,133.49 L67.9,133.36 L68.4,133.22 L68.9,133.08 L69.4,132.95 L69.9,132.82 L70.4,132.68 L70.9,132.55 L71.4,132.42 L71.9,132.28 L72.4,132.15 L72.9,132.02 L73.4,131.89 L73.9,131.77 L74.4,131.64 L74.9,131.51 L75.4,131.39 L75.9,131.26 L76.4,131.14 L76.9,131.02 L77.4,130.90 L77.9,130.78 L78.4,130.66 L78.9,130.55 L79.4,130.43 L79.9,130.32 L80.4,130.20 L80.9,130.09 L81.4,129.98 L81.9,129.87 L82.4,129.76 L82.9,129.65 L83.4,129.55 L83.9,129.44 L84.4,129.34 L84.9,129.24 L85.4,129.14 L85.9,129.04 L86.4,128.94 L86.9,128.84 L87.4,128.75 L87.9,128.65 L88.4,128.56 L88.9,128.47 L89.4,128.38 L89.9,128.29 L90.4,128.21 L90.9,128.12 L91.4,128.04 L91.9,127.96 L92.4,127.87 L92.9,127.80 L93.4,127.72 L93.9,127.64 L94.4,127.57 L94.9,127.49 L95.4,127.42 L95.9,127.35 L96.4,127.28 L96.9,127.22 L97.4,127.15 L97.9,127.09 L98.4,127.03 L98.9,126.97 L99.4,126.91 L99.9,126.85 L100.4,126.80 L100.9,126.75 L101.4,126.69 L101.9,126.64 L102.4,126.60 L102.9,126.55 L103.4,126.51 L103.9,126.46 L104.4,126.42 L104.9,126.38 L105.4,126.35 L105.9,126.31 L106.4,126.28 L106.9,126.25 L107.4,126.21 L107.9,126.19 L108.4,126.16 L108.9,126.13 L109.4,126.11 L109.9,126.09 L110.4,126.07 L110.9,126.05 L111.4,126.03 L111.9,126.02 L112.4,126.00 L112.9,125.99 L113.4,125.98 L113.9,125.97 L114.4,125.96 L114.9,125.95 L115.4,125.95 L115.9,125.94 L116.4,125.94 L116.9,125.94 L117.4,125.94 L117.9,125.94 L118.4,125.94 L118.9,125.94 L119.4,125.95 L119.9,125.95 L120.4,125.96 L120.9,125.97 L121.4,125.98 L121.9,125.99 L122.4,126.00 L122.9,126.01 L123.4,126.03 L123.9,126.04 L124.4,126.06 L124.9,126.08 L125.4,126.09 L125.9,126.11 L126.4,126.13 L126.9,126.15 L127.4,126.18 L127.9,126.20 L128.4,126.22 L128.9,126.25 L129.4,126.27 L129.9,126.30 L130.4,126.32 L130.9,126.35 L131.4,126.38 L131.9,126.41 L132.4,126.44 L132.9,126.47 L133.4,126.50 L133.9,126.53 L134.4,126.57 L134.9,126.60 L135.4,126.63 L135.9,126.67 L136.4,126.70 L136.9,126.74 L137.4,126.77 L137.9,126.81 L138.4,126.85 L138.9,126.88 L139.4,126.92 L139.9,126.96 L140.4,127.00 L140.9,127.04 L141.4,127.08 L141.9,127.12 L142.4,127.16 L142.9,127.20 L143.4,127.24 L143.9,127.28 L144.4,127.32 L144.9,127.36 L145.4,127.40 L145.9,127.45 L146.4,127.49 L146.9,127.53 L147.4,127.57 L147.9,127.62 L148.4,127.66 L148.9,127.70 L149.4,127.75 L149.9,127.79 L150.4,127.83 L150.9,127.88 L151.4,127.92 L151.9,127.97 L152.4,128.01 L152.9,128.06 L153.4,128.10 L153.9,128.15 L154.4,128.20 L154.9,128.24 L155.4,128.29 L155.9,128.34 L156.4,128.38 L156.9,128.43 L157.4,128.48 L157.9,128.53 L158.4,128.57 L158.9,128.62 L159.4,128.67 L159.9,128.72 L160.4,128.77 L160.9,128.82 L161.4,128.86 L161.9,128.91 L162.4,128.96 L162.9,129.01 L163.4,129.06 L163.9,129.11 L164.4,129.16 L164.9,129.21 L165.4,129.27 L165.9,129.32 L166.4,129.37 L166.9,129.42 L167.4,129.47 L167.9,129.52 L168.4,129.57 L168.9,129.63 L169.4,129.68 L169.9,129.73 L170.4,129.79 L170.9,129.84 L171.4,129.89 L171.9,129.95 L172.4,130.00 L172.9,130.05 L173.4,130.11 L173.9,130.16 L174.4,130.22 L174.9,130.27 L175.4,130.33 L175.9,130.38 L176.4,130.44 L176.9,130.49 L177.4,130.55 L177.9,130.60 L178.4,130.66 L178.9,130.72 L179.4,130.77 L179.9,130.83 L180.4,130.88 L180.9,130.94 L181.4,131.00 L181.9,131.06 L182.4,131.11 L182.9,131.17 L183.4,131.23 L183.9,131.29 L184.4,131.35 L184.9,131.40 L185.4,131.46 L185.9,131.52 L186.4,131.58 L186.9,131.64 L187.4,131.70 L187.9,131.76 L188.4,131.82 L188.9,131.88 L189.4,131.94 L189.9,132.00 L190.4,132.06 L190.9,132.12 L191.4,132.18 L191.9,132.24 L192.4,132.30 L192.9,132.36 L193.4,132.42 L193.9,132.48 L194.4,132.55 L194.9,132.61 L195.4,132.67 L195.9,132.73 L196.4,132.79 L196.9,132.86 L197.4,132.92 L197.9,132.98 L198.4,133.04 L198.9,133.11 L199.4,133.17 L199.9,133.23 L200.4,133.30 L200.9,133.36 L201.4,133.42 L201.9,133.49 L202.4,133.55 L202.9,133.61 L203.4,133.68 L203.9,133.74 L204.4,133.80 L204.9,133.87 L205.4,133.93 L205.9,134.00 L206.4,134.06 L206.9,134.12 L207.4,134.19 L207.9,134.25 L208.4,134.32 L208.9,134.38 L209.4,134.44 L209.9,134.51 L210.4,134.57 L210.9,134.64 L211.4,134.70 L211.9,134.77 L212.4,134.83 L212.9,134.90 L213.4,134.96 L213.9,135.03 L214.4,135.09 L214.9,135.16 L215.4,135.22 L215.9,135.28 L216.4,135.35 L216.9,135.41 L217.4,135.48 L217.9,135.54 L218.4,135.61 L218.9,135.67 L219.4,135.74 L219.9,135.80 L220.4,135.87 L220.9,135.93 L221.4,135.99 L221.9,136.06 L222.4,136.12 L222.9,136.19 L223.4,136.25 L223.9,136.32 L224.4,136.38 L224.9,136.44 L225.4,136.51 L225.9,136.57 L226.4,136.64 L226.9,136.70 L227.4,136.76 L227.9,136.83 L228.4,136.89 L228.9,136.95 L229.4,137.02 L229.9,137.08 L230.4,137.14 L230.9,137.21 L231.4,137.27 L231.9,137.33 L232.4,137.39 L232.9,137.46 L233.4,137.52 L233.9,137.58 L234.4,137.64 L234.9,137.71 L235.4,137.77 L235.9,137.83 L236.4,137.89 L236.9,137.95 L237.4,138.01 L237.9,138.07 L238.4,138.14 L238.9,138.20 L239.4,138.26 L239.9,138.32 L240.4,138.38 L240.9,138.44 L241.4,138.50 L241.9,138.56 L242.4,138.62 L242.9,138.68 L243.4,138.74 L243.9,138.80 L244.4,138.85 L244.9,138.91 L245.4,138.97 L245.9,139.03 L246.4,139.09 L246.9,139.15 L247.4,139.20 L247.9,139.26 L248.4,139.32 L248.9,139.38 L249.4,139.43 L249.9,139.49 L250.4,139.54 L250.9,139.60 L251.4,139.66 L251.9,139.71 L252.4,139.77 L252.9,139.82 L253.4,139.88 L253.9,139.93 L254.4,139.99 L254.9,140.04 L255.4,140.09 L255.9,140.15 L256.4,140.20 L256.9,140.25 L257.4,140.31 L257.9,140.36 L258.4,140.41 L258.9,140.46 L259.4,140.51 L259.9,140.56 L260.4,140.61 L260.9,140.67 L261.4,140.72 L261.9,140.77 L262.4,140.81 L262.9,140.86 L263.4,140.91 L263.9,140.96 L264.4,141.01 L264.9,141.06 L265.4,141.11 L265.9,141.15 L266.4,141.20 L266.9,141.25 L267.4,141.29 L267.9,141.34 L268.4,141.38 L268.9,141.43 L269.4,141.47 L269.9,141.52 L270.4,141.56 L270.9,141.60 L271.4,141.65 L271.9,141.69 L272.4,141.73 L272.9,141.78 L273.4,141.82 L273.9,141.86 L274.4,141.90 L274.9,141.94 L275.4,141.98 L275.9,142.02 L276.4,142.06 L276.9,142.10 L277.4,142.13 L277.9,142.17 L278.4,142.21 L278.9,142.25 L279.4,142.28 L279.9,142.32 L280.4,142.36 L280.9,142.39 L281.4,142.43 L281.9,142.46 L282.4,142.49 L282.9,142.53 L283.4,142.56 L283.9,142.59 L284.4,142.63 L284.9,142.66 L285.4,142.69 L285.9,142.72 L286.4,142.75 L286.9,142.78 L287.4,142.81 L287.9,142.84 L288.4,142.86 L288.9,142.89 L289.4,142.92 L289.9,142.95 L290.4,142.97 L290.9,143.00 L291.4,143.02 L291.9,143.05 L292.4,143.07 L292.9,143.09 L293.4,143.12 L293.9,143.14 L294.4,143.16 L294.9,143.18 L295.4,143.20 L295.9,143.22 L296.4,143.24 L296.9,143.26 L297.4,143.28 L297.9,143.30 L298.4,143.32 L298.9,143.33 L299.4,143.35 L299.9,143.37 L300.4,143.38 L300.9,143.40 L301.4,143.41 L301.9,143.42 L302.4,143.44 L302.9,143.45 L303.4,143.46 L303.9,143.47 L304.4,143.48 L304.9,143.49 L305.4,143.50 L305.9,143.51 L306.4,143.52 L306.9,143.52 L307.4,143.53 L307.9,143.54 L308.4,143.54 L308.9,143.55 L309.4,143.55 L309.9,143.55 L310.4,143.56 L310.9,143.56 L311.4,143.56 L311.9,143.56 L312.4,143.56 L312.9,143.56 L313.4,143.56 L313.9,143.56 L314.4,143.56 L314.9,143.55 L315.4,143.55 L315.9,143.54 L316.4,143.54 L316.9,143.53 L317.4,143.53 L317.9,143.52 L318.4,143.51 L318.9,143.50 L319.4,143.49 L319.9,143.48 L320.4,143.47 L320.9,143.46 L321.4,143.45 L321.9,143.43 L322.4,143.42 L322.9,143.41 L323.4,143.39 L323.9,143.37 L324.4,143.36 L324.9,143.34 L325.4,143.32 L325.9,143.30 L326.4,143.28 L326.9,143.26 L327.4,143.24 L327.9,143.22 L328.4,143.20 L328.9,143.17 L329.4,143.15 L329.9,143.12 L330.4,143.10 L330.9,143.07 L331.4,143.04 L331.9,143.01 L332.4,142.98 L332.9,142.95 L333.4,142.92 L333.9,142.89 L334.4,142.86 L334.9,142.82 L335.4,142.79 L335.9,142.75 L336.4,142.71 L336.9,142.68 L337.4,142.64 L337.9,142.60 L338.4,142.56 L338.9,142.51 L339.4,142.47 L339.9,142.43 L340.4,142.38 L340.9,142.34 L341.4,142.29 L341.9,142.24 L342.4,142.19 L342.9,142.14 L343.4,142.09 L343.9,142.03 L344.4,141.98 L344.9,141.92 L345.4,141.87 L345.9,141.81 L346.4,141.75 L346.9,141.69 L347.4,141.63 L347.9,141.56 L348.4,141.50 L348.9,141.43 L349.4,141.36 L349.9,141.30 L350.4,141.23 L350.9,141.15 L351.4,141.08 L351.9,141.01 L352.4,140.93 L352.9,140.86 L353.4,140.78 L353.9,140.70 L354.4,140.62 L354.9,140.53 L355.4,140.45 L355.9,140.36 L356.4,140.28 L356.9,140.19 L357.4,140.10 L357.9,140.01 L358.4,139.91 L358.9,139.82 L359.4,139.72 L359.9,139.62 L360.4,139.52 L360.9,139.42 L361.4,139.32 L361.9,139.21 L362.4,139.11 L362.9,139.00 L363.4,138.89 L363.9,138.78 L364.4,138.67 L364.9,138.55 L365.4,138.44 L365.9,138.32 L366.4,138.20 L366.9,138.08 L367.4,137.96 L367.9,137.84 L368.4,137.72 L368.9,137.59 L369.4,137.46 L369.9,137.34 L370.4,137.21 L370.9,137.08 L371.4,136.94 L371.9,136.81 L372.4,136.68 L372.9,136.54 L373.4,136.40 L373.9,136.26 L374.4,136.12 L374.9,135.98 L375.4,135.84 L375.9,135.70 L376.4,135.55 L376.9,135.41 L377.4,135.26 L377.9,135.11 L378.4,134.96 L378.9,134.81 L379.4,134.66 L379.9,134.51 L380.4,134.35 L380.9,134.20 L381.4,134.04 L381.9,133.88 L382.4,133.73 L382.9,133.57 L383.4,133.41 L383.9,133.25 L384.4,133.08 L384.9,132.92 L385.4,132.76 L385.9,132.59 L386.4,132.43 L386.9,132.26 L387.4,132.09 L387.9,131.92 L388.4,131.75 L388.9,131.58 L389.4,131.41 L389.9,131.24 L390.4,131.07 L390.9,130.89 L391.4,130.72 L391.9,130.54 L392.4,130.36 L392.9,130.19 L393.4,130.01 L393.9,129.83 L394.4,129.65 L394.9,129.47 L395.4,129.29 L395.9,129.10 L396.4,128.92 L396.9,128.73 L397.4,128.55 L397.9,128.36 L398.4,128.17 L398.9,127.98 L399.4,127.79 L399.9,127.60 L400.4,127.41 L400.9,127.21 L401.4,127.02 L401.9,126.82 L402.4,126.63 L402.9,126.43 L403.4,126.23 L403.9,126.03 L404.4,125.82 L404.9,125.62 L405.4,125.42 L405.9,125.21 L406.4,125.00 L406.9,124.79 L407.4,124.58 L407.9,124.37 L408.4,124.16 L408.9,123.95 L409.4,123.73 L409.9,123.51 L410.4,123.30 L410.9,123.08 L411.4,122.85 L411.9,122.63 L412.4,122.41 L412.9,122.18 L413.4,121.95 L413.9,121.73 L414.4,121.50 L414.9,121.26 L415.4,121.03 L415.9,120.79 L416.4,120.56 L416.9,120.32 L417.4,120.08 L417.9,119.83 L418.4,119.59 L418.9,119.34 L419.4,119.10 L419.9,118.85 L420.4,118.60 L420.9,118.34 L421.4,118.09 L421.9,117.83 L422.4,117.57 L422.9,117.31 L423.4,117.05 L423.9,116.78 L424.4,116.52 L424.9,116.25 L425.4,115.98 L425.9,115.70 L426.4,115.43 L426.9,115.15 L427.4,114.87 L427.9,114.59 L428.4,114.31 L428.9,114.02 L429.4,113.73 L429.9,113.44 L430.4,113.15 L430.9,112.86 L431.4,112.56 L431.9,112.27 L432.4,111.97 L432.9,111.66 L433.4,111.36 L433.9,111.06 L434.4,110.75 L434.9,110.44 L435.4,110.13 L435.9,109.82 L436.4,109.51 L436.9,109.20 L437.4,108.88 L437.9,108.56 L438.4,108.25 L438.9,107.93 L439.4,107.61 L439.9,107.29 L440.4,106.96 L440.9,106.64 L441.4,106.31 L441.9,105.99 L442.4,105.66 L442.9,105.33 L443.4,105.01 L443.9,104.68 L444.4,104.35 L444.9,104.01 L445.4,103.68 L445.9,103.35 L446.4,103.02 L446.9,102.68 L447.4,102.35 L447.9,102.02 L448.4,101.68 L448.9,101.35 L449.4,101.01 L449.9,100.68 L450.4,100.34 L450.9,100.00 L451.4,99.67 L451.9,99.33 L452.4,98.99 L452.9,98.66 L453.4,98.32 L453.9,97.98 L454.4,97.65 L454.9,97.31 L455.4,96.97 L455.9,96.64 L456.4,96.30 L456.9,95.97 L457.4,95.63 L457.9,95.30 L458.4,94.96 L458.9,94.63 L459.4,94.30 L459.9,93.97 L460.4,93.64 L460.9,93.31 L461.4,92.98 L461.9,92.65 L462.4,92.32 L462.9,92.00 L463.4,91.67 L463.9,91.35 L464.4,91.03 L464.9,90.71 L465.4,90.39 L465.9,90.08 L466.4,89.76 L466.9,89.45 L467.4,89.14 L467.9,88.83 L468.4,88.52 L468.9,88.21 L469.4,87.91 L469.9,87.61 L470.4,87.31 L470.9,87.02 L471.4,86.72 L471.9,86.43 L472.4,86.14 L472.9,85.85 L473.4,85.57 L473.9,85.29 L474.4,85.01 L474.9,84.74 L475.4,84.46 L475.9,84.20 L476.4,83.93 L476.9,83.67 L477.4,83.41 L477.9,83.15 L478.4,82.90 L478.9,82.65 L479.4,82.40 L479.9,82.16 L480.4,81.91 L480.9,81.68 L481.4,81.44 L481.9,81.22 L482.4,80.99 L482.9,80.77 L483.4,80.55 L483.9,80.33 L484.4,80.12 L484.9,79.91 L485.4,79.71 L485.9,79.51 L486.4,79.31 L486.9,79.12 L487.4,78.93 L487.9,78.75 L488.4,78.57 L488.9,78.39 L489.4,78.22 L489.9,78.05 L490.4,77.89 L490.9,77.73 L491.4,77.57 L491.9,77.42 L492.4,77.27 L492.9,77.12 L493.4,76.98 L493.9,76.84 L494.4,76.71 L494.9,76.58 L495.4,76.46 L495.9,76.33 L496.4,76.22 L496.9,76.10 L497.4,75.99 L497.9,75.89 L498.4,75.79 L498.9,75.69 L499.4,75.60 L499.9,75.51 L500.4,75.43 L500.9,75.34 L501.4,75.27 L501.9,75.20 L502.4,75.13 L502.9,75.06 L503.4,75.00 L503.9,74.95 L504.4,74.89 L504.9,74.85 L505.4,74.80 L505.9,74.76 L506.4,74.73 L506.9,74.70 L507.4,74.67 L507.9,74.65 L508.4,74.63 L508.9,74.61 L509.4,74.60 L509.9,74.60 L510.4,74.59 L510.9,74.60 L511.4,74.60 L511.9,74.61 L512.4,74.63 L512.9,74.65 L513.4,74.67 L513.9,74.70 L514.4,74.73 L514.9,74.77 L515.4,74.81 L515.9,74.85 L516.4,74.90 L516.9,74.95 L517.4,75.01 L517.9,75.07 L518.4,75.14 L518.9,75.21 L519.4,75.28 L519.9,75.36 L520.4,75.44 L520.9,75.53 L521.4,75.62 L521.9,75.71 L522.4,75.81 L522.9,75.91 L523.4,76.02 L523.9,76.13 L524.4,76.24 L524.9,76.36 L525.4,76.48 L525.9,76.60 L526.4,76.73 L526.9,76.86 L527.4,77.00 L527.9,77.14 L528.4,77.28 L528.9,77.43 L529.4,77.58 L529.9,77.73 L530.4,77.89 L530.9,78.05 L531.4,78.21 L531.9,78.38 L532.4,78.55 L532.9,78.73 L533.4,78.91 L533.9,79.09 L534.4,79.27 L534.9,79.46 L535.4,79.65 L535.9,79.85 L536.4,80.04 L536.9,80.24 L537.4,80.45 L537.9,80.65 L538.4,80.86 L538.9,81.08 L539.4,81.29 L539.9,81.51 L540.4,81.74 L540.9,81.96 L541.4,82.19 L541.9,82.42 L542.4,82.65 L542.9,82.89 L543.4,83.13 L543.9,83.37 L544.4,83.62 L544.9,83.87 L545.4,84.12 L545.9,84.37 L546.4,84.63 L546.9,84.89 L547.4,85.15 L547.9,85.41 L548.4,85.68 L548.9,85.95 L549.4,86.22 L549.9,86.50 L550.4,86.77 L550.9,87.05 L551.4,87.33 L551.9,87.61 L552.4,87.90 L552.9,88.18 L553.4,88.47 L553.9,88.76 L554.4,89.06 L554.9,89.35 L555.4,89.65 L555.9,89.95 L556.4,90.25 L556.9,90.55 L557.4,90.85 L557.9,91.16 L558.4,91.46 L558.9,91.77 L559.4,92.08 L559.9,92.39 L560.4,92.70 L560.9,93.02 L561.4,93.33 L561.9,93.65 L562.4,93.96 L562.9,94.28 L563.4,94.60 L563.9,94.92 L564.4,95.24 L564.9,95.56 L565.4,95.89 L565.9,96.21 L566.4,96.54 L566.9,96.86 L567.4,97.19 L567.9,97.51 L568.4,97.84 L568.9,98.17 L569.4,98.50 L569.9,98.83 L570.4,99.16 L570.9,99.49 L571.4,99.82 L571.9,100.15 L572.4,100.48 L572.9,100.81 L573.4,101.14 L573.9,101.47 L574.4,101.80 L574.9,102.13 L575.4,102.46 L575.9,102.79 L576.4,103.12 L576.9,103.45 L577.4,103.78 L577.9,104.11 L578.4,104.44 L578.9,104.77 L579.4,105.10 L579.9,105.43 L580.4,105.76 L580.9,106.09 L581.4,106.41 L581.9,106.74 L582.4,107.06 L582.9,107.39 L583.4,107.71 L583.9,108.03 L584.4,108.36 L584.9,108.68 L585.4,109.00 L585.9,109.32 L586.4,109.63 L586.9,109.95 L587.4,110.27 L587.9,110.58 L588.4,110.89 L588.9,111.21 L589.4,111.52 L589.9,111.82 L590.4,112.13 L590.9,112.44 L591.4,112.74 L591.9,113.05 L592.4,113.35 L592.9,113.65 L593.4,113.95 L593.9,114.25 L594.4,114.55 L594.9,114.85 L595.4,115.14 L595.9,115.43 L596.4,115.73 L596.9,116.02 L597.4,116.31 L597.9,116.60 L598.4,116.88 L598.9,117.17 L599.4,117.45 L599.9,117.74 L600.4,118.02 L600.9,118.30 L601.4,118.58 L601.9,118.85 L602.4,119.13 L602.9,119.41 L603.4,119.68 L603.9,119.95 L604.4,120.22 L604.9,120.49 L605.4,120.76 L605.9,121.03 L606.4,121.29 L606.9,121.56 L607.4,121.82 L607.9,122.08 L608.4,122.34 L608.9,122.60 L609.4,122.86 L609.9,123.12 L610.4,123.37 L610.9,123.62 L611.4,123.88 L611.9,124.13 L612.4,124.38 L612.9,124.62 L613.4,124.87 L613.9,125.12 L614.4,125.36 L614.9,125.60 L615.4,125.84 L615.9,126.08 L616.4,126.32 L616.9,126.56 L617.4,126.79 L617.9,127.03 L618.4,127.26 L618.9,127.49 L619.4,127.72 L619.9,127.95 L620.4,128.18 L620.9,128.40 L621.4,128.63 L621.9,128.85 L622.4,129.07 L622.9,129.29 L623.4,129.51 L623.9,129.72 L624.4,129.94 L624.9,130.15 L625.4,130.36 L625.9,130.57 L626.4,130.78 L626.9,130.99 L627.4,131.20 L627.9,131.40 L628.4,131.60 L628.9,131.80 L629.4,132.00 L629.9,132.20 L630.4,132.39 L630.9,132.58 L631.4,132.78 L631.9,132.96 L632.4,133.15 L632.9,133.34 L633.4,133.52 L633.9,133.70 L634.4,133.89 L634.9,134.06 L635.4,134.24 L635.9,134.42 L636.4,134.59 L636.9,134.76 L637.4,134.93 L637.9,135.09 L638.4,135.26 L638.9,135.42 L639.4,135.58 L639.9,135.74 L640.4,135.90 L640.9,136.05 L641.4,136.21 L641.9,136.36 L642.4,136.51 L642.9,136.65 L643.4,136.80 L643.9,136.94 L644.4,137.08 L644.9,137.22 L645.4,137.35 L645.9,137.49 L646.4,137.62 L646.9,137.75 L647.4,137.87 L647.9,138.00 L648.4,138.12 L648.9,138.24 L649.4,138.36 L649.9,138.47 L650.4,138.58 L650.9,138.69 L651.4,138.80 L651.9,138.91 L652.4,139.01 L652.9,139.11 L653.4,139.21 L653.9,139.31 L654.4,139.40 L654.9,139.49 L655.4,139.58 L655.9,139.67 L656.4,139.75 L656.9,139.83 L657.4,139.91 L657.9,139.99 L658.4,140.06 L658.9,140.13 L659.4,140.20 L659.9,140.26 L660.4,140.33 L660.9,140.39 L661.4,140.44 L661.9,140.50 L662.4,140.55 L662.9,140.60 L663.4,140.65 L663.9,140.69 L664.4,140.73 L664.9,140.77 L665.4,140.81 L665.9,140.84 L666.4,140.87 L666.9,140.90 L667.4,140.92 L667.9,140.94 L668.4,140.96 L668.9,140.98 L669.4,140.99 L669.9,141.00 L670.4,141.01 L670.9,141.01 L671.4,141.01 L671.9,141.01 L672.4,141.00 L672.9,141.00 L673.4,140.98 L673.9,140.97 L674.4,140.95 L674.9,140.93 L675.4,140.91 L675.9,140.88 L676.4,140.85 L676.9,140.82 L677.4,140.79 L677.9,140.75 L678.4,140.71 L678.6,140.69" fill="none" stroke="#4373c2" stroke-width="1.5"/>
<path d="M34.4,279.4 L35.4,279.5 L36.4,279.6 L37.4,279.7 L38.4,279.8 L39.4,279.9 L40.4,280.0 L41.4,280.1 L42.4,280.2 L43.4,280.2 L44.4,280.3 L45.4,280.4 L46.4,280.5 L47.4,280.6 L48.4,280.7 L49.4,280.7 L50.4,280.8 L51.4,280.9 L52.4,281.0 L53.4,281.1 L54.4,281.1 L55.4,281.2 L56.4,281.3 L57.4,281.4 L58.4,281.4 L59.4,281.5 L60.4,281.6 L61.4,281.7 L62.4,281.7 L63.4,281.8 L64.4,281.9 L65.4,281.9 L66.4,282.0 L67.4,282.0 L68.4,282.1 L69.4,282.2 L70.4,282.2 L71.4,282.3 L72.4,282.3 L73.4,282.4 L74.4,282.4 L75.4,282.5 L76.4,282.5 L77.4,282.6 L78.4,282.6 L79.4,282.6 L80.4,282.7 L81.4,282.7 L82.4,282.7 L83.4,282.8 L84.4,282.8 L85.4,282.8 L86.4,282.9 L87.4,282.9 L88.4,282.9 L89.4,282.9 L90.4,282.9 L91.4,282.9 L92.4,283.0 L93.4,283.0 L94.4,283.0 L95.4,283.0 L96.4,283.0 L97.4,283.0 L98.4,283.0 L99.4,283.0 L100.4,283.0 L101.4,283.0 L102.4,282.9 L103.4,282.9 L104.4,282.9 L105.4,282.9 L106.4,282.9 L107.4,282.8 L108.4,282.8 L109.4,282.8 L110.4,282.7 L111.4,282.7 L112.4,282.7 L113.4,282.6 L114.4,282.6 L115.4,282.5 L116.4,282.5 L117.4,282.4 L118.4,282.4 L119.4,282.3 L120.4,282.3 L121.4,282.2 L122.4,282.1 L123.4,282.1 L124.4,282.0 L125.4,281.9 L126.4,281.9 L127.4,281.8 L128.4,281.7 L129.4,281.6 L130.4,281.5 L131.4,281.4 L132.4,281.4 L133.4,281.3 L134.4,281.2 L135.4,281.1 L136.4,281.0 L137.4,280.9 L138.4,280.8 L139.4,280.7 L140.4,280.6 L141.4,280.5 L142.4,280.3 L143.4,280.2 L144.4,280.1 L145.4,280.0 L146.4,279.8 L147.4,279.7 L148.4,279.6 L149.4,279.5 L150.4,279.3 L151.4,279.2 L152.4,279.0 L153.4,278.9 L154.4,278.8 L155.4,278.6 L156.4,278.5 L157.4,278.4 L158.4,278.3 L159.4,278.1 L160.4,278.0 L161.4,277.9 L162.4,277.8 L163.4,277.7 L164.4,277.6 L165.4,277.5 L166.4,277.4 L167.4,277.3 L168.4,277.2 L169.4,277.2 L170.4,277.1 L171.4,277.0 L172.4,277.0 L173.4,276.9 L174.4,276.9 L175.4,276.8 L176.4,276.7 L177.4,276.7 L178.4,276.6 L179.4,276.6 L180.4,276.5 L181.4,276.5 L182.4,276.4 L183.4,276.4 L184.4,276.3 L185.4,276.3 L186.4,276.3 L187.4,276.2 L188.4,276.2 L189.4,276.1 L190.4,276.1 L191.4,276.1 L192.4,276.0 L193.4,276.0 L194.4,276.0 L195.4,275.9 L196.4,275.9 L197.4,275.9 L198.4,275.8 L199.4,275.8 L200.4,275.8 L201.4,275.7 L202.4,275.7 L203.4,275.7 L204.4,275.6 L205.4,275.6 L206.4,275.6 L207.4,275.6 L208.4,275.5 L209.4,275.5 L210.4,275.5 L211.4,275.5 L212.4,275.5 L213.4,275.4 L214.4,275.4 L215.4,275.4 L216.4,275.4 L217.4,275.3 L218.4,275.3 L219.4,275.3 L220.4,275.3 L221.4,275.3 L222.4,275.3 L223.4,275.2 L224.4,275.2 L225.4,275.2 L226.4,275.2 L227.4,275.2 L228.4,275.2 L229.4,275.1 L230.4,275.1 L231.4,275.1 L232.4,275.1 L233.4,275.1 L234.4,275.1 L235.4,275.1 L236.4,275.0 L237.4,275.0 L238.4,275.0 L239.4,275.0 L240.4,275.0 L241.4,275.0 L242.4,274.9 L243.4,274.9 L244.4,274.9 L245.4,274.9 L246.4,274.9 L247.4,274.9 L248.4,274.9 L249.4,274.8 L250.4,274.8 L251.4,274.8 L252.4,274.8 L253.4,274.8 L254.4,274.8 L255.4,274.7 L256.4,274.7 L257.4,274.7 L258.4,274.7 L259.4,274.7 L260.4,274.7 L261.4,274.6 L262.4,274.6 L263.4,274.6 L264.4,274.6 L265.4,274.6 L266.4,274.6 L267.4,274.5 L268.4,274.5 L269.4,274.5 L270.4,274.5 L271.4,274.5 L272.4,274.5 L273.4,274.4 L274.4,274.4 L275.4,274.4 L276.4,274.4 L277.4,274.4 L278.4,274.4 L279.4,274.4 L280.4,274.4 L281.4,274.3 L282.4,274.3 L283.4,274.3 L284.4,274.3 L285.4,274.3 L286.4,274.3 L287.4,274.3 L288.4,274.3 L289.4,274.3 L290.4,274.3 L291.4,274.2 L292.4,274.2 L293.4,274.2 L294.4,274.2 L295.4,274.2 L296.4,274.2 L297.4,274.2 L298.4,274.2 L299.4,274.2 L300.4,274.2 L301.4,274.2 L302.4,274.2 L303.4,274.2 L304.4,274.2 L305.4,274.2 L306.4,274.2 L307.4,274.2 L308.4,274.2 L309.4,274.2 L310.4,274.3 L311.4,274.3 L312.4,274.3 L313.4,274.3 L314.4,274.3 L315.4,274.3 L316.4,274.3 L317.4,274.3 L318.4,274.3 L319.4,274.3 L320.4,274.3 L321.4,274.4 L322.4,274.4 L323.4,274.4 L324.4,274.4 L325.4,274.4 L326.4,274.4 L327.4,274.5 L328.4,274.5 L329.4,274.5 L330.4,274.5 L331.4,274.6 L332.4,274.6 L333.4,274.6 L334.4,274.7 L335.4,274.7 L336.4,274.7 L337.4,274.7 L338.4,274.8 L339.4,274.8 L340.4,274.8 L341.4,274.9 L342.4,274.9 L343.4,275.0 L344.4,275.0 L345.4,275.0 L346.4,275.1 L347.4,275.1 L348.4,275.1 L349.4,275.2 L350.4,275.2 L351.4,275.2 L352.4,275.3 L353.4,275.3 L354.4,275.3 L355.4,275.4 L356.4,275.4 L357.4,275.4 L358.4,275.4 L359.4,275.5 L360.4,275.5 L361.4,275.5 L362.4,275.5 L363.4,275.5 L364.4,275.6 L365.4,275.6 L366.4,275.6 L367.4,275.6 L368.4,275.5 L369.4,275.5 L370.4,275.5 L371.4,275.5 L372.4,275.5 L373.4,275.4 L374.4,275.4 L375.4,275.3 L376.4,275.2 L377.4,275.1 L378.4,275.0 L379.4,274.9 L380.4,274.7 L381.4,274.6 L382.4,274.4 L383.4,274.2 L384.4,274.0 L385.4,273.8 L386.4,273.6 L387.4,273.3 L388.4,273.0 L389.4,272.8 L390.4,272.5 L391.4,272.2 L392.4,271.8 L393.4,271.5 L394.4,271.2 L395.4,270.8 L396.4,270.4 L397.4,270.0 L398.4,269.6 L399.4,269.2 L400.4,268.8 L401.4,268.4 L402.4,268.0 L403.4,267.5 L404.4,267.1 L405.4,266.6 L406.4,266.1 L407.4,265.6 L408.4,265.1 L409.4,264.6 L410.4,264.0 L411.4,263.5 L412.4,262.9 L413.4,262.4 L414.4,261.8 L415.4,261.2 L416.4,260.6 L417.4,260.0 L418.4,259.3 L419.4,258.7 L420.4,258.0 L421.4,257.3 L422.4,256.7 L423.4,256.0 L424.4,255.3 L425.4,254.7 L426.4,254.0 L427.4,253.4 L428.4,252.8 L429.4,252.2 L430.4,251.6 L431.4,251.0 L432.4,250.5 L433.4,250.0 L434.4,249.5 L435.4,249.0 L436.4,248.6 L437.4,248.2 L438.4,247.9 L439.4,247.6 L440.4,247.3 L441.4,247.1 L442.4,246.9 L443.4,246.8 L444.4,246.7 L445.4,246.6 L446.4,246.6 L447.4,246.6 L448.4,246.7 L449.4,246.8 L450.4,247.0 L451.4,247.1 L452.4,247.4 L453.4,247.6 L454.4,247.9 L455.4,248.2 L456.4,248.6 L457.4,249.0 L458.4,249.4 L459.4,249.8 L460.4,250.2 L461.4,250.7 L462.4,251.2 L463.4,251.7 L464.4,252.2 L465.4,252.8 L466.4,253.3 L467.4,253.9 L468.4,254.4 L469.4,255.0 L470.4,255.6 L471.4,256.2 L472.4,256.8 L473.4,257.4 L474.4,258.0 L475.4,258.6 L476.4,259.2 L477.4,259.8 L478.4,260.4 L479.4,260.9 L480.4,261.5 L481.4,262.1 L482.4,262.6 L483.4,263.1 L484.4,263.6 L485.4,264.1 L486.4,264.5 L487.4,265.0 L488.4,265.4 L489.4,265.8 L490.4,266.2 L491.4,266.6 L492.4,266.9 L493.4,267.2 L494.4,267.5 L495.4,267.8 L496.4,268.0 L497.4,268.2 L498.4,268.4 L499.4,268.6 L500.4,268.7 L501.4,268.8 L502.4,268.9 L503.4,269.0 L504.4,269.0 L505.4,269.0 L506.4,268.9 L507.4,268.9 L508.4,268.8 L509.4,268.6 L510.4,268.4 L511.4,268.2 L512.4,268.0 L513.4,267.8 L514.4,267.5 L515.4,267.1 L516.4,266.8 L517.4,266.4 L518.4,266.0 L519.4,265.6 L520.4,265.2 L521.4,264.7 L522.4,264.2 L523.4,263.7 L524.4,263.1 L525.4,262.6 L526.4,262.0 L527.4,261.4 L528.4,260.8 L529.4,260.1 L530.4,259.5 L531.4,258.8 L532.4,258.1 L533.4,257.4 L534.4,256.7 L535.4,256.0 L536.4,255.2 L537.4,254.5 L538.4,253.7 L539.4,253.0 L540.4,252.2 L541.4,251.4 L542.4,250.7 L543.4,249.9 L544.4,249.1 L545.4,248.3 L546.4,247.5 L547.4,246.8 L548.4,246.0 L549.4,245.2 L550.4,244.5 L551.4,243.7 L552.4,243.0 L553.4,242.3 L554.4,241.6 L555.4,240.9 L556.4,240.2 L557.4,239.6 L558.4,238.9 L559.4,238.3 L560.4,237.7 L561.4,237.2 L562.4,236.7 L563.4,236.2 L564.4,235.7 L565.4,235.3 L566.4,234.9 L567.4,234.5 L568.4,234.2 L569.4,233.9 L570.4,233.7 L571.4,233.4 L572.4,233.3 L573.4,233.1 L574.4,233.1 L575.4,233.0 L576.4,233.0 L577.4,233.1 L578.4,233.1 L579.4,233.3 L580.4,233.4 L581.4,233.6 L582.4,233.9 L583.4,234.2 L584.4,234.6 L585.4,235.0 L586.4,235.4 L587.4,235.9 L588.4,236.4 L589.4,237.0 L590.4,237.6 L591.4,238.2 L592.4,238.9 L593.4,239.6 L594.4,240.4 L595.4,241.2 L596.4,242.0 L597.4,242.9 L598.4,243.8 L599.4,244.7 L600.4,245.7 L601.4,246.7 L602.4,247.7 L603.4,248.7 L604.4,249.8 L605.4,250.9 L606.4,252.0 L607.4,253.1 L608.4,254.2 L609.4,255.3 L610.4,256.4 L611.4,257.5 L612.4,258.7 L613.4,259.8 L614.4,260.9 L615.4,261.9 L616.4,263.0 L617.4,264.0 L618.4,265.0 L619.4,266.0 L620.4,267.0 L621.4,267.9 L622.4,268.8 L623.4,269.6 L624.4,270.5 L625.4,271.3 L626.4,272.0 L627.4,272.7 L628.4,273.4 L629.4,274.1 L630.4,274.7 L631.4,275.3 L632.4,275.8 L633.4,276.4 L634.4,276.9 L635.4,277.3 L636.4,277.7 L637.4,278.1 L638.4,278.5 L639.4,278.8 L640.4,279.1 L641.4,279.3 L642.4,279.5 L643.4,279.7 L644.4,279.8 L645.4,280.0 L646.4,280.0 L647.4,280.1 L648.4,280.1 L649.4,280.1 L650.4,280.1 L651.4,280.1 L652.4,280.0 L653.4,279.9 L654.4,279.8 L655.4,279.7 L656.4,279.6 L657.4,279.5 L658.4,279.4 L659.4,279.3 L660.4,279.1 L661.4,279.0 L662.4,278.9 L663.4,278.8 L664.4,278.6 L665.4,278.5 L666.4,278.4 L667.4,278.3 L668.4,278.3 L669.4,278.2 L670.4,278.2 L671.4,278.2 L672.4,278.2 L673.4,278.2 L674.4,278.3 L675.4,278.4 L676.4,278.5 L677.4,278.6 L678.4,278.8 L678.6,278.9 L678.6,283.3 L678.4,283.2 L677.4,283.0 L676.4,282.9 L675.4,282.8 L674.4,282.7 L673.4,282.6 L672.4,282.6 L671.4,282.6 L670.4,282.6 L669.4,282.6 L668.4,282.7 L667.4,282.7 L666.4,282.8 L665.4,282.9 L664.4,283.0 L663.4,283.2 L662.4,283.3 L661.4,283.4 L660.4,283.5 L659.4,283.7 L658.4,283.8 L657.4,283.9 L656.4,284.0 L655.4,284.1 L654.4,284.2 L653.4,284.3 L652.4,284.4 L651.4,284.5 L650.4,284.5 L649.4,284.5 L648.4,284.5 L647.4,284.5 L646.4,284.4 L645.4,284.4 L644.4,284.2 L643.4,284.1 L642.4,283.9 L641.4,283.7 L640.4,283.5 L639.4,283.2 L638.4,282.9 L637.4,282.5 L636.4,282.1 L635.4,281.7 L634.4,281.3 L633.4,280.8 L632.4,280.3 L631.4,279.8 L630.4,279.2 L629.4,278.6 L628.4,277.9 L627.4,277.3 L626.4,276.6 L625.4,275.8 L624.4,275.1 L623.4,274.3 L622.4,273.4 L621.4,272.6 L620.4,271.7 L619.4,270.8 L618.4,269.8 L617.4,268.8 L616.4,267.8 L615.4,266.8 L614.4,265.7 L613.4,264.7 L612.4,263.6 L611.4,262.5 L610.4,261.4 L609.4,260.3 L608.4,259.3 L607.4,258.2 L606.4,257.1 L605.4,256.1 L604.4,255.0 L603.4,254.0 L602.4,253.0 L601.4,252.1 L600.4,251.1 L599.4,250.2 L598.4,249.3 L597.4,248.5 L596.4,247.7 L595.4,246.9 L594.4,246.2 L593.4,245.5 L592.4,244.9 L591.4,244.2 L590.4,243.7 L589.4,243.1 L588.4,242.6 L587.4,242.2 L586.4,241.8 L585.4,241.4 L584.4,241.1 L583.4,240.8 L582.4,240.5 L581.4,240.3 L580.4,240.2 L579.4,240.1 L578.4,240.0 L577.4,240.0 L576.4,240.0 L575.4,240.0 L574.4,240.1 L573.4,240.3 L572.4,240.5 L571.4,240.7 L570.4,240.9 L569.4,241.2 L568.4,241.6 L567.4,241.9 L566.4,242.3 L565.4,242.8 L564.4,243.3 L563.4,243.8 L562.4,244.3 L561.4,244.9 L560.4,245.5 L559.4,246.1 L558.4,246.7 L557.4,247.4 L556.4,248.1 L555.4,248.8 L554.4,249.6 L553.4,250.3 L552.4,251.1 L551.4,251.8 L550.4,252.6 L549.4,253.4 L548.4,254.2 L547.4,255.0 L546.4,255.9 L545.4,256.7 L544.4,257.5 L543.4,258.3 L542.4,259.1 L541.4,260.0 L540.4,260.8 L539.4,261.6 L538.4,262.4 L537.4,263.2 L536.4,264.0 L535.4,264.8 L534.4,265.5 L533.4,266.3 L532.4,267.0 L531.4,267.7 L530.4,268.5 L529.4,269.2 L528.4,269.8 L527.4,270.5 L526.4,271.2 L525.4,271.8 L524.4,272.4 L523.4,273.0 L522.4,273.6 L521.4,274.1 L520.4,274.7 L519.4,275.2 L518.4,275.6 L517.4,276.1 L516.4,276.5 L515.4,276.9 L514.4,277.3 L513.4,277.6 L512.4,277.9 L511.4,278.2 L510.4,278.4 L509.4,278.6 L508.4,278.7 L507.4,278.9 L506.4,278.9 L505.4,279.0 L504.4,279.0 L503.4,278.9 L502.4,278.8 L501.4,278.7 L500.4,278.5 L499.4,278.3 L498.4,278.1 L497.4,277.8 L496.4,277.5 L495.4,277.2 L494.4,276.9 L493.4,276.5 L492.4,276.1 L491.4,275.6 L490.4,275.2 L489.4,274.7 L488.4,274.2 L487.4,273.6 L486.4,273.1 L485.4,272.5 L484.4,272.0 L483.4,271.4 L482.4,270.8 L481.4,270.2 L480.4,269.5 L479.4,268.9 L478.4,268.3 L477.4,267.6 L476.4,266.9 L475.4,266.3 L474.4,265.6 L473.4,264.9 L472.4,264.2 L471.4,263.6 L470.4,262.9 L469.4,262.2 L468.4,261.6 L467.4,260.9 L466.4,260.3 L465.4,259.7 L464.4,259.0 L463.4,258.4 L462.4,257.9 L461.4,257.3 L460.4,256.8 L459.4,256.3 L458.4,255.8 L457.4,255.3 L456.4,254.9 L455.4,254.5 L454.4,254.1 L453.4,253.8 L452.4,253.5 L451.4,253.2 L450.4,253.0 L449.4,252.8 L448.4,252.7 L447.4,252.6 L446.4,252.6 L445.4,252.6 L444.4,252.7 L443.4,252.8 L442.4,253.0 L441.4,253.2 L440.4,253.5 L439.4,253.8 L438.4,254.2 L437.4,254.6 L436.4,255.1 L435.4,255.6 L434.4,256.2 L433.4,256.8 L432.4,257.4 L431.4,258.0 L430.4,258.7 L429.4,259.4 L428.4,260.1 L427.4,260.8 L426.4,261.5 L425.4,262.3 L424.4,263.0 L423.4,263.8 L422.4,264.5 L421.4,265.2 L420.4,266.0 L419.4,266.7 L418.4,267.4 L417.4,268.1 L416.4,268.8 L415.4,269.5 L414.4,270.2 L413.4,270.8 L412.4,271.4 L411.4,272.1 L410.4,272.7 L409.4,273.3 L408.4,273.8 L407.4,274.4 L406.4,274.9 L405.4,275.5 L404.4,276.0 L403.4,276.5 L402.4,276.9 L401.4,277.4 L400.4,277.8 L399.4,278.2 L398.4,278.6 L397.4,279.0 L396.4,279.4 L395.4,279.7 L394.4,280.0 L393.4,280.3 L392.4,280.6 L391.4,280.9 L390.4,281.1 L389.4,281.3 L388.4,281.5 L387.4,281.7 L386.4,281.9 L385.4,282.0 L384.4,282.2 L383.4,282.3 L382.4,282.4 L381.4,282.5 L380.4,282.5 L379.4,282.6 L378.4,282.6 L377.4,282.6 L376.4,282.6 L375.4,282.6 L374.4,282.5 L373.4,282.5 L372.4,282.4 L371.4,282.4 L370.4,282.3 L369.4,282.2 L368.4,282.1 L367.4,282.1 L366.4,282.0 L365.4,281.9 L364.4,281.8 L363.4,281.7 L362.4,281.7 L361.4,281.6 L360.4,281.5 L359.4,281.4 L358.4,281.4 L357.4,281.3 L356.4,281.2 L355.4,281.1 L354.4,281.1 L353.4,281.0 L352.4,280.9 L351.4,280.8 L350.4,280.7 L349.4,280.7 L348.4,280.6 L347.4,280.5 L346.4,280.4 L345.4,280.3 L344.4,280.2 L343.4,280.2 L342.4,280.1 L341.4,280.0 L340.4,279.9 L339.4,279.8 L338.4,279.8 L337.4,279.7 L336.4,279.6 L335.4,279.5 L334.4,279.5 L333.4,279.4 L332.4,279.3 L331.4,279.3 L330.4,279.2 L329.4,279.1 L328.4,279.1 L327.4,279.0 L326.4,279.0 L325.4,278.9 L324.4,278.9 L323.4,278.8 L322.4,278.8 L321.4,278.7 L320.4,278.7 L319.4,278.6 L318.4,278.6 L317.4,278.5 L316.4,278.5 L315.4,278.5 L314.4,278.4 L313.4,278.4 L312.4,278.4 L311.4,278.4 L310.4,278.3 L309.4,278.3 L308.4,278.3 L307.4,278.3 L306.4,278.3 L305.4,278.3 L304.4,278.2 L303.4,278.2 L302.4,278.2 L301.4,278.2 L300.4,278.2 L299.4,278.2 L298.4,278.2 L297.4,278.2 L296.4,278.2 L295.4,278.2 L294.4,278.2 L293.4,278.2 L292.4,278.3 L291.4,278.3 L290.4,278.3 L289.4,278.3 L288.4,278.3 L287.4,278.3 L286.4,278.3 L285.4,278.3 L284.4,278.3 L283.4,278.4 L282.4,278.4 L281.4,278.4 L280.4,278.4 L279.4,278.4 L278.4,278.5 L277.4,278.5 L276.4,278.5 L275.4,278.5 L274.4,278.5 L273.4,278.6 L272.4,278.6 L271.4,278.6 L270.4,278.6 L269.4,278.7 L268.4,278.7 L267.4,278.7 L266.4,278.7 L265.4,278.8 L264.4,278.8 L263.4,278.8 L262.4,278.8 L261.4,278.9 L260.4,278.9 L259.4,278.9 L258.4,278.9 L257.4,279.0 L256.4,279.0 L255.4,279.0 L254.4,279.0 L253.4,279.1 L252.4,279.1 L251.4,279.1 L250.4,279.2 L249.4,279.2 L248.4,279.2 L247.4,279.2 L246.4,279.3 L245.4,279.3 L244.4,279.3 L243.4,279.3 L242.4,279.4 L241.4,279.4 L240.4,279.4 L239.4,279.4 L238.4,279.5 L237.4,279.5 L236.4,279.5 L235.4,279.5 L234.4,279.6 L233.4,279.6 L232.4,279.6 L231.4,279.7 L230.4,279.7 L229.4,279.7 L228.4,279.7 L227.4,279.8 L226.4,279.8 L225.4,279.8 L224.4,279.8 L223.4,279.9 L222.4,279.9 L221.4,279.9 L220.4,280.0 L219.4,280.0 L218.4,280.0 L217.4,280.0 L216.4,280.1 L215.4,280.1 L214.4,280.1 L213.4,280.2 L212.4,280.2 L211.4,280.2 L210.4,280.3 L209.4,280.3 L208.4,280.3 L207.4,280.4 L206.4,280.4 L205.4,280.4 L204.4,280.5 L203.4,280.5 L202.4,280.5 L201.4,280.6 L200.4,280.6 L199.4,280.7 L198.4,280.7 L197.4,280.7 L196.4,280.8 L195.4,280.8 L194.4,280.9 L193.4,280.9 L192.4,280.9 L191.4,281.0 L190.4,281.0 L189.4,281.1 L188.4,281.1 L187.4,281.2 L186.4,281.2 L185.4,281.3 L184.4,281.3 L183.4,281.4 L182.4,281.4 L181.4,281.5 L180.4,281.5 L179.4,281.6 L178.4,281.6 L177.4,281.7 L176.4,281.7 L175.4,281.8 L174.4,281.9 L173.4,281.9 L172.4,282.0 L171.4,282.0 L170.4,282.1 L169.4,282.2 L168.4,282.2 L167.4,282.3 L166.4,282.3 L165.4,282.4 L164.4,282.4 L163.4,282.4 L162.4,282.5 L161.4,282.5 L160.4,282.5 L159.4,282.6 L158.4,282.6 L157.4,282.6 L156.4,282.7 L155.4,282.7 L154.4,282.7 L153.4,282.8 L152.4,282.8 L151.4,282.8 L150.4,282.9 L149.4,282.9 L148.4,283.0 L147.4,283.0 L146.4,283.1 L145.4,283.1 L144.4,283.2 L143.4,283.3 L142.4,283.4 L141.4,283.5 L140.4,283.6 L139.4,283.7 L138.4,283.8 L137.4,283.9 L136.4,284.0 L135.4,284.1 L134.4,284.2 L133.4,284.3 L132.4,284.4 L131.4,284.4 L130.4,284.5 L129.4,284.6 L128.4,284.7 L127.4,284.8 L126.4,284.9 L125.4,284.9 L124.4,285.0 L123.4,285.1 L122.4,285.1 L121.4,285.2 L120.4,285.3 L119.4,285.3 L118.4,285.4 L117.4,285.4 L116.4,285.5 L115.4,285.5 L114.4,285.6 L113.4,285.6 L112.4,285.7 L111.4,285.7 L110.4,285.7 L109.4,285.8 L108.4,285.8 L107.4,285.8 L106.4,285.9 L105.4,285.9 L104.4,285.9 L103.4,285.9 L102.4,285.9 L101.4,286.0 L100.4,286.0 L99.4,286.0 L98.4,286.0 L97.4,286.0 L96.4,286.0 L95.4,286.0 L94.4,286.0 L93.4,286.0 L92.4,286.0 L91.4,285.9 L90.4,285.9 L89.4,285.9 L88.4,285.9 L87.4,285.9 L86.4,285.9 L85.4,285.8 L84.4,285.8 L83.4,285.8 L82.4,285.7 L81.4,285.7 L80.4,285.7 L79.4,285.6 L78.4,285.6 L77.4,285.6 L76.4,285.5 L75.4,285.5 L74.4,285.4 L73.4,285.4 L72.4,285.3 L71.4,285.3 L70.4,285.2 L69.4,285.2 L68.4,285.1 L67.4,285.0 L66.4,285.0 L65.4,284.9 L64.4,284.9 L63.4,284.8 L62.4,284.7 L61.4,284.7 L60.4,284.6 L59.4,284.5 L58.4,284.4 L57.4,284.4 L56.4,284.3 L55.4,284.2 L54.4,284.1 L53.4,284.1 L52.4,284.0 L51.4,283.9 L50.4,283.8 L49.4,283.7 L48.4,283.7 L47.4,283.6 L46.4,283.5 L45.4,283.4 L44.4,283.3 L43.4,283.2 L42.4,283.2 L41.4,283.1 L40.4,283.0 L39.4,282.9 L38.4,282.8 L37.4,282.7 L36.4,282.6 L35.4,282.5 L34.4,282.4 Z" fill="#3f6fbf" fill-opacity="0.2"/>
<path d="M34.4,275.5 L35.4,275.6 L36.4,275.6 L37.4,275.7 L38.4,275.7 L39.4,275.7 L40.4,275.8 L41.4,275.8 L42.4,275.8 L43.4,275.9 L44.4,275.9 L45.4,275.9 L46.4,275.9 L47.4,275.9 L48.4,276.0 L49.4,276.0 L50.4,276.0 L51.4,276.0 L52.4,276.0 L53.4,276.0 L54.4,275.9 L55.4,275.9 L56.4,275.9 L57.4,275.9 L58.4,275.9 L59.4,275.9 L60.4,275.8 L61.4,275.8 L62.4,275.8 L63.4,275.8 L64.4,275.7 L65.4,275.7 L66.4,275.7 L67.4,275.6 L68.4,275.6 L69.4,275.5 L70.4,275.5 L71.4,275.5 L72.4,275.4 L73.4,275.4 L74.4,275.3 L75.4,275.3 L76.4,275.2 L77.4,275.1 L78.4,275.1 L79.4,275.0 L80.4,275.0 L81.4,274.9 L82.4,274.8 L83.4,274.8 L84.4,274.7 L85.4,274.7 L86.4,274.6 L87.4,274.5 L88.4,274.5 L89.4,274.4 L90.4,274.3 L91.4,274.3 L92.4,274.2 L93.4,274.1 L94.4,274.0 L95.4,274.0 L96.4,273.9 L97.4,273.8 L98.4,273.8 L99.4,273.7 L100.4,273.6 L101.4,273.5 L102.4,273.5 L103.4,273.4 L104.4,273.3 L105.4,273.2 L106.4,273.2 L107.4,273.1 L108.4,273.0 L109.4,273.0 L110.4,272.9 L111.4,272.8 L112.4,272.8 L113.4,272.7 L114.4,272.6 L115.4,272.5 L116.4,272.5 L117.4,272.4 L118.4,272.4 L119.4,272.3 L120.4,272.2 L121.4,272.2 L122.4,272.1 L123.4,272.0 L124.4,272.0 L125.4,271.9 L126.4,271.9 L127.4,271.8 L128.4,271.8 L129.4,271.7 L130.4,271.7 L131.4,271.6 L132.4,271.6 L133.4,271.5 L134.4,271.5 L135.4,271.5 L136.4,271.4 L137.4,271.4 L138.4,271.3 L139.4,271.3 L140.4,271.3 L141.4,271.3 L142.4,271.2 L143.4,271.2 L144.4,271.2 L145.4,271.2 L146.4,271.1 L147.4,271.1 L148.4,271.1 L149.4,271.1 L150.4,271.1 L151.4,271.1 L152.4,271.0 L153.4,271.0 L154.4,271.0 L155.4,271.0 L156.4,271.0 L157.4,271.0 L158.4,271.0 L159.4,271.0 L160.4,271.0 L161.4,271.0 L162.4,271.0 L163.4,271.0 L164.4,271.0 L165.4,271.0 L166.4,271.0 L167.4,271.1 L168.4,271.1 L169.4,271.1 L170.4,271.1 L171.4,271.1 L172.4,271.1 L173.4,271.2 L174.4,271.2 L175.4,271.2 L176.4,271.2 L177.4,271.2 L178.4,271.3 L179.4,271.3 L180.4,271.3 L181.4,271.3 L182.4,271.4 L183.4,271.4 L184.4,271.4 L185.4,271.5 L186.4,271.5 L187.4,271.5 L188.4,271.6 L189.4,271.6 L190.4,271.6 L191.4,271.7 L192.4,271.7 L193.4,271.8 L194.4,271.8 L195.4,271.8 L196.4,271.9 L197.4,271.9 L198.4,272.0 L199.4,272.0 L200.4,272.0 L201.4,272.1 L202.4,272.1 L203.4,272.2 L204.4,272.2 L205.4,272.3 L206.4,272.3 L207.4,272.4 L208.4,272.4 L209.4,272.5 L210.4,272.5 L211.4,272.6 L212.4,272.6 L213.4,272.7 L214.4,272.7 L215.4,272.8 L216.4,272.9 L217.4,272.9 L218.4,273.0 L219.4,273.0 L220.4,273.1 L221.4,273.1 L222.4,273.2 L223.4,273.2 L224.4,273.3 L225.4,273.4 L226.4,273.4 L227.4,273.5 L228.4,273.5 L229.4,273.6 L230.4,273.7 L231.4,273.7 L232.4,273.8 L233.4,273.8 L234.4,273.9 L235.4,274.0 L236.4,274.0 L237.4,274.1 L238.4,274.1 L239.4,274.2 L240.4,274.3 L241.4,274.3 L242.4,274.4 L243.4,274.4 L244.4,274.5 L245.4,274.6 L246.4,274.6 L247.4,274.7 L248.4,274.7 L249.4,274.8 L250.4,274.9 L251.4,274.9 L252.4,275.0 L253.4,275.0 L254.4,275.1 L255.4,275.1 L256.4,275.2 L257.4,275.3 L258.4,275.3 L259.4,275.4 L260.4,275.4 L261.4,275.5 L262.4,275.6 L263.4,275.6 L264.4,275.7 L265.4,275.7 L266.4,275.8 L267.4,275.8 L268.4,275.9 L269.4,275.9 L270.4,276.0 L271.4,276.0 L272.4,276.1 L273.4,276.1 L274.4,276.2 L275.4,276.3 L276.4,276.3 L277.4,276.3 L278.4,276.4 L279.4,276.4 L280.4,276.5 L281.4,276.5 L282.4,276.6 L283.4,276.6 L284.4,276.7 L285.4,276.7 L286.4,276.7 L287.4,276.8 L288.4,276.8 L289.4,276.9 L290.4,276.9 L291.4,276.9 L292.4,276.9 L293.4,277.0 L294.4,277.0 L295.4,277.0 L296.4,277.0 L297.4,277.1 L298.4,277.1 L299.4,277.1 L300.4,277.1 L301.4,277.1 L302.4,277.1 L303.4,277.2 L304.4,277.2 L305.4,277.2 L306.4,277.2 L307.4,277.2 L308.4,277.2 L309.4,277.2 L310.4,277.1 L311.4,277.1 L312.4,277.1 L313.4,277.1 L314.4,277.1 L315.4,277.1 L316.4,277.0 L317.4,277.0 L318.4,277.0 L319.4,277.0 L320.4,276.9 L321.4,276.9 L322.4,276.8 L323.4,276.8 L324.4,276.8 L325.4,276.7 L326.4,276.7 L327.4,276.6 L328.4,276.6 L329.4,276.5 L330.4,276.4 L331.4,276.4 L332.4,276.3 L333.4,276.3 L334.4,276.2 L335.4,276.1 L336.4,276.0 L337.4,276.0 L338.4,275.9 L339.4,275.8 L340.4,275.7 L341.4,275.6 L342.4,275.5 L343.4,275.4 L344.4,275.3 L345.4,275.2 L346.4,275.1 L347.4,275.0 L348.4,274.9 L349.4,274.8 L350.4,274.7 L351.4,274.6 L352.4,274.5 L353.4,274.4 L354.4,274.3 L355.4,274.1 L356.4,274.0 L357.4,273.9 L358.4,273.8 L359.4,273.6 L360.4,273.5 L361.4,273.4 L362.4,273.3 L363.4,273.1 L364.4,273.0 L365.4,272.9 L366.4,272.8 L367.4,272.6 L368.4,272.5 L369.4,272.4 L370.4,272.2 L371.4,272.1 L372.4,272.0 L373.4,271.9 L374.4,271.7 L375.4,271.6 L376.4,271.5 L377.4,271.4 L378.4,271.2 L379.4,271.1 L380.4,271.0 L381.4,270.9 L382.4,270.8 L383.4,270.7 L384.4,270.6 L385.4,270.5 L386.4,270.4 L387.4,270.3 L388.4,270.2 L389.4,270.1 L390.4,270.0 L391.4,269.9 L392.4,269.8 L393.4,269.7 L394.4,269.7 L395.4,269.6 L396.4,269.5 L397.4,269.4 L398.4,269.4 L399.4,269.3 L400.4,269.3 L401.4,269.2 L402.4,269.2 L403.4,269.1 L404.4,269.1 L405.4,269.0 L406.4,269.0 L407.4,268.9 L408.4,268.9 L409.4,268.9 L410.4,268.8 L411.4,268.8 L412.4,268.8 L413.4,268.8 L414.4,268.7 L415.4,268.7 L416.4,268.7 L417.4,268.7 L418.4,268.7 L419.4,268.7 L420.4,268.7 L421.4,268.7 L422.4,268.7 L423.4,268.7 L424.4,268.7 L425.4,268.8 L426.4,268.8 L427.4,268.8 L428.4,268.8 L429.4,268.9 L430.4,268.9 L431.4,268.9 L432.4,269.0 L433.4,269.0 L434.4,269.0 L435.4,269.1 L436.4,269.1 L437.4,269.2 L438.4,269.2 L439.4,269.3 L440.4,269.4 L441.4,269.4 L442.4,269.5 L443.4,269.6 L444.4,269.6 L445.4,269.7 L446.4,269.8 L447.4,269.9 L448.4,269.9 L449.4,270.0 L450.4,270.1 L451.4,270.2 L452.4,270.3 L453.4,270.4 L454.4,270.5 L455.4,270.6 L456.4,270.7 L457.4,270.8 L458.4,270.9 L459.4,271.0 L460.4,271.1 L461.4,271.1 L462.4,271.2 L463.4,271.3 L464.4,271.4 L465.4,271.5 L466.4,271.6 L467.4,271.7 L468.4,271.8 L469.4,271.9 L470.4,271.9 L471.4,272.0 L472.4,272.1 L473.4,272.2 L474.4,272.2 L475.4,272.3 L476.4,272.3 L477.4,272.4 L478.4,272.5 L479.4,272.5 L480.4,272.5 L481.4,272.6 L482.4,272.6 L483.4,272.6 L484.4,272.7 L485.4,272.7 L486.4,272.7 L487.4,272.7 L488.4,272.7 L489.4,272.7 L490.4,272.7 L491.4,272.7 L492.4,272.7 L493.4,272.7 L494.4,272.7 L495.4,272.7 L496.4,272.6 L497.4,272.6 L498.4,272.6 L499.4,272.5 L500.4,272.5 L501.4,272.5 L502.4,272.4 L503.4,272.4 L504.4,272.3 L505.4,272.3 L506.4,272.2 L507.4,272.2 L508.4,272.1 L509.4,272.0 L510.4,272.0 L511.4,271.9 L512.4,271.8 L513.4,271.8 L514.4,271.7 L515.4,271.6 L516.4,271.5 L517.4,271.5 L518.4,271.4 L519.4,271.3 L520.4,271.2 L521.4,271.1 L522.4,271.1 L523.4,271.0 L524.4,270.9 L525.4,270.8 L526.4,270.7 L527.4,270.6 L528.4,270.5 L529.4,270.4 L530.4,270.3 L531.4,270.3 L532.4,270.2 L533.4,270.1 L534.4,270.0 L535.4,269.9 L536.4,269.8 L537.4,269.7 L538.4,269.6 L539.4,269.5 L540.4,269.4 L541.4,269.3 L542.4,269.2 L543.4,269.2 L544.4,269.1 L545.4,269.0 L546.4,268.9 L547.4,268.8 L548.4,268.7 L549.4,268.6 L550.4,268.5 L551.4,268.5 L552.4,268.4 L553.4,268.3 L554.4,268.2 L555.4,268.1 L556.4,268.1 L557.4,268.0 L558.4,267.9 L559.4,267.8 L560.4,267.8 L561.4,267.7 L562.4,267.6 L563.4,267.5 L564.4,267.5 L565.4,267.4 L566.4,267.4 L567.4,267.3 L568.4,267.2 L569.4,267.2 L570.4,267.1 L571.4,267.1 L572.4,267.0 L573.4,267.0 L574.4,266.9 L575.4,266.9 L576.4,266.8 L577.4,266.8 L578.4,266.8 L579.4,266.7 L580.4,266.7 L581.4,266.7 L582.4,266.6 L583.4,266.6 L584.4,266.6 L585.4,266.6 L586.4,266.6 L587.4,266.5 L588.4,266.5 L589.4,266.5 L590.4,266.5 L591.4,266.5 L592.4,266.5 L593.4,266.5 L594.4,266.5 L595.4,266.5 L596.4,266.6 L597.4,266.6 L598.4,266.6 L599.4,266.6 L600.4,266.7 L601.4,266.7 L602.4,266.7 L603.4,266.8 L604.4,266.8 L605.4,266.9 L606.4,266.9 L607.4,267.0 L608.4,267.0 L609.4,267.1 L610.4,267.2 L611.4,267.3 L612.4,267.3 L613.4,267.4 L614.4,267.5 L615.4,267.6 L616.4,267.7 L617.4,267.8 L618.4,267.9 L619.4,268.0 L620.4,268.1 L621.4,268.2 L622.4,268.4 L623.4,268.5 L624.4,268.6 L625.4,268.8 L626.4,268.9 L627.4,269.0 L628.4,269.2 L629.4,269.3 L630.4,269.5 L631.4,269.6 L632.4,269.8 L633.4,269.9 L634.4,270.1 L635.4,270.3 L636.4,270.4 L637.4,270.6 L638.4,270.7 L639.4,270.9 L640.4,271.1 L641.4,271.2 L642.4,271.4 L643.4,271.6 L644.4,271.7 L645.4,271.9 L646.4,272.1 L647.4,272.2 L648.4,272.4 L649.4,272.5 L650.4,272.7 L651.4,272.8 L652.4,273.0 L653.4,273.1 L654.4,273.3 L655.4,273.4 L656.4,273.6 L657.4,273.7 L658.4,273.8 L659.4,273.9 L660.4,274.1 L661.4,274.2 L662.4,274.3 L663.4,274.4 L664.4,274.5 L665.4,274.6 L666.4,274.7 L667.4,274.8 L668.4,274.9 L669.4,274.9 L670.4,275.0 L671.4,275.0 L672.4,275.1 L673.4,275.1 L674.4,275.2 L675.4,275.2 L676.4,275.2 L677.4,275.2 L678.4,275.2 L678.6,275.2 L678.6,277.4 L678.4,277.4 L677.4,277.4 L676.4,277.4 L675.4,277.4 L674.4,277.4 L673.4,277.3 L672.4,277.3 L671.4,277.2 L670.4,277.2 L669.4,277.1 L668.4,277.1 L667.4,277.0 L666.4,276.9 L665.4,276.8 L664.4,276.7 L663.4,276.6 L662.4,276.5 L661.4,276.4 L660.4,276.3 L659.4,276.1 L658.4,276.0 L657.4,275.9 L656.4,275.8 L655.4,275.6 L654.4,275.5 L653.4,275.3 L652.4,275.2 L651.4,275.0 L650.4,274.9 L649.4,274.7 L648.4,274.6 L647.4,274.4 L646.4,274.3 L645.4,274.1 L644.4,273.9 L643.4,273.8 L642.4,273.6 L641.4,273.4 L640.4,273.3 L639.4,273.1 L638.4,272.9 L637.4,272.8 L636.4,272.6 L635.4,272.5 L634.4,272.3 L633.4,272.1 L632.4,272.0 L631.4,271.8 L630.4,271.7 L629.4,271.5 L628.4,271.4 L627.4,271.2 L626.4,271.1 L625.4,271.0 L624.4,270.8 L623.4,270.7 L622.4,270.6 L621.4,270.4 L620.4,270.3 L619.4,270.2 L618.4,270.1 L617.4,270.0 L616.4,269.9 L615.4,269.8 L614.4,269.7 L613.4,269.6 L612.4,269.5 L611.4,269.5 L610.4,269.4 L609.4,269.3 L608.4,269.2 L607.4,269.2 L606.4,269.1 L605.4,269.1 L604.4,269.0 L603.4,269.0 L602.4,268.9 L601.4,268.9 L600.4,268.9 L599.4,268.8 L598.4,268.8 L597.4,268.8 L596.4,268.8 L595.4,268.7 L594.4,268.7 L593.4,268.7 L592.4,268.7 L591.4,268.7 L590.4,268.7 L589.4,268.7 L588.4,268.7 L587.4,268.7 L586.4,268.8 L585.4,268.8 L584.4,268.8 L583.4,268.8 L582.4,268.8 L581.4,268.9 L580.4,268.9 L579.4,268.9 L578.4,269.0 L577.4,269.0 L576.4,269.0 L575.4,269.1 L574.4,269.1 L573.4,269.2 L572.4,269.2 L571.4,269.3 L570.4,269.3 L569.4,269.4 L568.4,269.4 L567.4,269.5 L566.4,269.6 L565.4,269.6 L564.4,269.7 L563.4,269.7 L562.4,269.8 L561.4,269.9 L560.4,270.0 L559.4,270.0 L558.4,270.1 L557.4,270.2 L556.4,270.3 L555.4,270.3 L554.4,270.4 L553.4,270.5 L552.4,270.6 L551.4,270.7 L550.4,270.7 L549.4,270.8 L548.4,270.9 L547.4,271.0 L546.4,271.1 L545.4,271.2 L544.4,271.3 L543.4,271.4 L542.4,271.4 L541.4,271.5 L540.4,271.6 L539.4,271.7 L538.4,271.8 L537.4,271.9 L536.4,272.0 L535.4,272.1 L534.4,272.2 L533.4,272.3 L532.4,272.4 L531.4,272.5 L530.4,272.5 L529.4,272.6 L528.4,272.7 L527.4,272.8 L526.4,272.9 L525.4,273.0 L524.4,273.1 L523.4,273.2 L522.4,273.3 L521.4,273.3 L520.4,273.4 L519.4,273.5 L518.4,273.6 L517.4,273.7 L516.4,273.7 L515.4,273.8 L514.4,273.9 L513.4,274.0 L512.4,274.0 L511.4,274.1 L510.4,274.2 L509.4,274.2 L508.4,274.3 L507.4,274.4 L506.4,274.4 L505.4,274.5 L504.4,274.5 L503.4,274.6 L502.4,274.6 L501.4,274.7 L500.4,274.7 L499.4,274.7 L498.4,274.8 L497.4,274.8 L496.4,274.8 L495.4,274.9 L494.4,274.9 L493.4,274.9 L492.4,274.9 L491.4,274.9 L490.4,274.9 L489.4,274.9 L488.4,274.9 L487.4,274.9 L486.4,274.9 L485.4,274.9 L484.4,274.9 L483.4,274.8 L482.4,274.8 L481.4,274.8 L480.4,274.7 L479.4,274.7 L478.4,274.7 L477.4,274.6 L476.4,274.5 L475.4,274.5 L474.4,274.4 L473.4,274.4 L472.4,274.3 L471.4,274.2 L470.4,274.1 L469.4,274.1 L468.4,274.0 L467.4,273.9 L466.4,273.8 L465.4,273.7 L464.4,273.6 L463.4,273.5 L462.4,273.4 L461.4,273.3 L460.4,273.3 L459.4,273.2 L458.4,273.1 L457.4,273.0 L456.4,272.9 L455.4,272.8 L454.4,272.7 L453.4,272.6 L452.4,272.5 L451.4,272.4 L450.4,272.3 L449.4,272.2 L448.4,272.1 L447.4,272.1 L446.4,272.0 L445.4,271.9 L444.4,271.8 L443.4,271.8 L442.4,271.7 L441.4,271.6 L440.4,271.6 L439.4,271.5 L438.4,271.4 L437.4,271.4 L436.4,271.3 L435.4,271.3 L434.4,271.2 L433.4,271.2 L432.4,271.2 L431.4,271.1 L430.4,271.1 L429.4,271.1 L428.4,271.0 L427.4,271.0 L426.4,271.0 L425.4,271.0 L424.4,270.9 L423.4,270.9 L422.4,270.9 L421.4,270.9 L420.4,270.9 L419.4,270.9 L418.4,270.9 L417.4,270.9 L416.4,270.9 L415.4,270.9 L414.4,270.9 L413.4,271.0 L412.4,271.0 L411.4,271.0 L410.4,271.0 L409.4,271.1 L408.4,271.1 L407.4,271.1 L406.4,271.2 L405.4,271.2 L404.4,271.3 L403.4,271.3 L402.4,271.4 L401.4,271.4 L400.4,271.5 L399.4,271.5 L398.4,271.6 L397.4,271.6 L396.4,271.7 L395.4,271.8 L394.4,271.9 L393.4,271.9 L392.4,272.0 L391.4,272.1 L390.4,272.2 L389.4,272.3 L388.4,272.4 L387.4,272.5 L386.4,272.6 L385.4,272.7 L384.4,272.8 L383.4,272.9 L382.4,273.0 L381.4,273.1 L380.4,273.2 L379.4,273.3 L378.4,273.4 L377.4,273.6 L376.4,273.7 L375.4,273.8 L374.4,273.9 L373.4,274.1 L372.4,274.2 L371.4,274.3 L370.4,274.4 L369.4,274.6 L368.4,274.7 L367.4,274.8 L366.4,275.0 L365.4,275.1 L364.4,275.2 L363.4,275.3 L362.4,275.5 L361.4,275.6 L360.4,275.7 L359.4,275.8 L358.4,276.0 L357.4,276.1 L356.4,276.2 L355.4,276.3 L354.4,276.5 L353.4,276.6 L352.4,276.7 L351.4,276.8 L350.4,276.9 L349.4,277.0 L348.4,277.1 L347.4,277.2 L346.4,277.3 L345.4,277.4 L344.4,277.5 L343.4,277.6 L342.4,277.7 L341.4,277.8 L340.4,277.9 L339.4,278.0 L338.4,278.1 L337.4,278.2 L336.4,278.2 L335.4,278.3 L334.4,278.4 L333.4,278.5 L332.4,278.5 L331.4,278.6 L330.4,278.6 L329.4,278.7 L328.4,278.8 L327.4,278.8 L326.4,278.9 L325.4,278.9 L324.4,279.0 L323.4,279.0 L322.4,279.0 L321.4,279.1 L320.4,279.1 L319.4,279.2 L318.4,279.2 L317.4,279.2 L316.4,279.2 L315.4,279.3 L314.4,279.3 L313.4,279.3 L312.4,279.3 L311.4,279.3 L310.4,279.3 L309.4,279.4 L308.4,279.4 L307.4,279.4 L306.4,279.4 L305.4,279.4 L304.4,279.4 L303.4,279.4 L302.4,279.3 L301.4,279.3 L300.4,279.3 L299.4,279.3 L298.4,279.3 L297.4,279.3 L296.4,279.2 L295.4,279.2 L294.4,279.2 L293.4,279.2 L292.4,279.1 L291.4,279.1 L290.4,279.1 L289.4,279.1 L288.4,279.0 L287.4,279.0 L286.4,278.9 L285.4,278.9 L284.4,278.9 L283.4,278.8 L282.4,278.8 L281.4,278.7 L280.4,278.7 L279.4,278.6 L278.4,278.6 L277.4,278.5 L276.4,278.5 L275.4,278.5 L274.4,278.4 L273.4,278.3 L272.4,278.3 L271.4,278.2 L270.4,278.2 L269.4,278.1 L268.4,278.1 L267.4,278.0 L266.4,278.0 L265.4,277.9 L264.4,277.9 L263.4,277.8 L262.4,277.8 L261.4,277.7 L260.4,277.6 L259.4,277.6 L258.4,277.5 L257.4,277.5 L256.4,277.4 L255.4,277.3 L254.4,277.3 L253.4,277.2 L252.4,277.2 L251.4,277.1 L250.4,277.1 L249.4,277.0 L248.4,276.9 L247.4,276.9 L246.4,276.8 L245.4,276.8 L244.4,276.7 L243.4,276.6 L242.4,276.6 L241.4,276.5 L240.4,276.5 L239.4,276.4 L238.4,276.3 L237.4,276.3 L236.4,276.2 L235.4,276.2 L234.4,276.1 L233.4,276.0 L232.4,276.0 L231.4,275.9 L230.4,275.9 L229.4,275.8 L228.4,275.7 L227.4,275.7 L226.4,275.6 L225.4,275.6 L224.4,275.5 L223.4,275.4 L222.4,275.4 L221.4,275.3 L220.4,275.3 L219.4,275.2 L218.4,275.2 L217.4,275.1 L216.4,275.1 L215.4,275.0 L214.4,274.9 L213.4,274.9 L212.4,274.8 L211.4,274.8 L210.4,274.7 L209.4,274.7 L208.4,274.6 L207.4,274.6 L206.4,274.5 L205.4,274.5 L204.4,274.4 L203.4,274.4 L202.4,274.3 L201.4,274.3 L200.4,274.2 L199.4,274.2 L198.4,274.2 L197.4,274.1 L196.4,274.1 L195.4,274.0 L194.4,274.0 L193.4,274.0 L192.4,273.9 L191.4,273.9 L190.4,273.8 L189.4,273.8 L188.4,273.8 L187.4,273.7 L186.4,273.7 L185.4,273.7 L184.4,273.6 L183.4,273.6 L182.4,273.6 L181.4,273.5 L180.4,273.5 L179.4,273.5 L178.4,273.5 L177.4,273.4 L176.4,273.4 L175.4,273.4 L174.4,273.4 L173.4,273.4 L172.4,273.3 L171.4,273.3 L170.4,273.3 L169.4,273.3 L168.4,273.3 L167.4,273.3 L166.4,273.2 L165.4,273.2 L164.4,273.2 L163.4,273.2 L162.4,273.2 L161.4,273.2 L160.4,273.2 L159.4,273.2 L158.4,273.2 L157.4,273.2 L156.4,273.2 L155.4,273.2 L154.4,273.2 L153.4,273.2 L152.4,273.2 L151.4,273.3 L150.4,273.3 L149.4,273.3 L148.4,273.3 L147.4,273.3 L146.4,273.3 L145.4,273.4 L144.4,273.4 L143.4,273.4 L142.4,273.4 L141.4,273.5 L140.4,273.5 L139.4,273.5 L138.4,273.5 L137.4,273.6 L136.4,273.6 L135.4,273.7 L134.4,273.7 L133.4,273.7 L132.4,273.8 L131.4,273.8 L130.4,273.9 L129.4,273.9 L128.4,274.0 L127.4,274.0 L126.4,274.1 L125.4,274.1 L124.4,274.2 L123.4,274.2 L122.4,274.3 L121.4,274.4 L120.4,274.4 L119.4,274.5 L118.4,274.6 L117.4,274.6 L116.4,274.7 L115.4,274.7 L114.4,274.8 L113.4,274.9 L112.4,275.0 L111.4,275.0 L110.4,275.1 L109.4,275.2 L108.4,275.2 L107.4,275.3 L106.4,275.4 L105.4,275.4 L104.4,275.5 L103.4,275.6 L102.4,275.7 L101.4,275.7 L100.4,275.8 L99.4,275.9 L98.4,276.0 L97.4,276.0 L96.4,276.1 L95.4,276.2 L94.4,276.2 L93.4,276.3 L92.4,276.4 L91.4,276.5 L90.4,276.5 L89.4,276.6 L88.4,276.7 L87.4,276.7 L86.4,276.8 L85.4,276.9 L84.4,276.9 L83.4,277.0 L82.4,277.0 L81.4,277.1 L80.4,277.2 L79.4,277.2 L78.4,277.3 L77.4,277.3 L76.4,277.4 L75.4,277.5 L74.4,277.5 L73.4,277.6 L72.4,277.6 L71.4,277.7 L70.4,277.7 L69.4,277.7 L68.4,277.8 L67.4,277.8 L66.4,277.9 L65.4,277.9 L64.4,277.9 L63.4,278.0 L62.4,278.0 L61.4,278.0 L60.4,278.0 L59.4,278.1 L58.4,278.1 L57.4,278.1 L56.4,278.1 L55.4,278.1 L54.4,278.1 L53.4,278.2 L52.4,278.2 L51.4,278.2 L50.4,278.2 L49.4,278.2 L48.4,278.2 L47.4,278.1 L46.4,278.1 L45.4,278.1 L44.4,278.1 L43.4,278.1 L42.4,278.0 L41.4,278.0 L40.4,278.0 L39.4,277.9 L38.4,277.9 L37.4,277.9 L36.4,277.8 L35.4,277.8 L34.4,277.7 Z" fill="#e4b03a" fill-opacity="0.25"/>
<path d="M34.4,276.61 L34.9,276.63 L35.4,276.66 L35.9,276.69 L36.4,276.71 L36.9,276.74 L37.4,276.76 L37.9,276.78 L38.4,276.80 L38.9,276.82 L39.4,276.84 L39.9,276.86 L40.4,276.88 L40.9,276.90 L41.4,276.91 L41.9,276.93 L42.4,276.94 L42.9,276.96 L43.4,276.97 L43.9,276.98 L44.4,276.99 L44.9,277.00 L45.4,277.01 L45.9,277.02 L46.4,277.03 L46.9,277.03 L47.4,277.04 L47.9,277.05 L48.4,277.05 L48.9,277.05 L49.4,277.06 L49.9,277.06 L50.4,277.06 L50.9,277.06 L51.4,277.06 L51.9,277.06 L52.4,277.06 L52.9,277.06 L53.4,277.06 L53.9,277.05 L54.4,277.05 L54.9,277.04 L55.4,277.04 L55.9,277.03 L56.4,277.03 L56.9,277.02 L57.4,277.01 L57.9,277.00 L58.4,276.99 L58.9,276.98 L59.4,276.97 L59.9,276.96 L60.4,276.95 L60.9,276.94 L61.4,276.92 L61.9,276.91 L62.4,276.90 L62.9,276.88 L63.4,276.87 L63.9,276.85 L64.4,276.83 L64.9,276.82 L65.4,276.80 L65.9,276.78 L66.4,276.76 L66.9,276.74 L67.4,276.73 L67.9,276.71 L68.4,276.68 L68.9,276.66 L69.4,276.64 L69.9,276.62 L70.4,276.60 L70.9,276.58 L71.4,276.55 L71.9,276.53 L72.4,276.51 L72.9,276.48 L73.4,276.46 L73.9,276.43 L74.4,276.41 L74.9,276.38 L75.4,276.35 L75.9,276.33 L76.4,276.30 L76.9,276.27 L77.4,276.24 L77.9,276.22 L78.4,276.19 L78.9,276.16 L79.4,276.13 L79.9,276.10 L80.4,276.07 L80.9,276.04 L81.4,276.01 L81.9,275.98 L82.4,275.95 L82.9,275.92 L83.4,275.89 L83.9,275.85 L84.4,275.82 L84.9,275.79 L85.4,275.76 L85.9,275.73 L86.4,275.69 L86.9,275.66 L87.4,275.63 L87.9,275.59 L88.4,275.56 L88.9,275.52 L89.4,275.49 L89.9,275.46 L90.4,275.42 L90.9,275.39 L91.4,275.35 L91.9,275.32 L92.4,275.28 L92.9,275.25 L93.4,275.21 L93.9,275.18 L94.4,275.14 L94.9,275.11 L95.4,275.07 L95.9,275.03 L96.4,275.00 L96.9,274.96 L97.4,274.93 L97.9,274.89 L98.4,274.85 L98.9,274.82 L99.4,274.78 L99.9,274.75 L100.4,274.71 L100.9,274.67 L101.4,274.64 L101.9,274.60 L102.4,274.56 L102.9,274.53 L103.4,274.49 L103.9,274.46 L104.4,274.42 L104.9,274.38 L105.4,274.35 L105.9,274.31 L106.4,274.28 L106.9,274.24 L107.4,274.20 L107.9,274.17 L108.4,274.13 L108.9,274.10 L109.4,274.06 L109.9,274.03 L110.4,273.99 L110.9,273.96 L111.4,273.92 L111.9,273.89 L112.4,273.85 L112.9,273.82 L113.4,273.78 L113.9,273.75 L114.4,273.72 L114.9,273.68 L115.4,273.65 L115.9,273.62 L116.4,273.58 L116.9,273.55 L117.4,273.52 L117.9,273.48 L118.4,273.45 L118.9,273.42 L119.4,273.39 L119.9,273.36 L120.4,273.33 L120.9,273.30 L121.4,273.27 L121.9,273.23 L122.4,273.20 L122.9,273.18 L123.4,273.15 L123.9,273.12 L124.4,273.09 L124.9,273.06 L125.4,273.03 L125.9,273.00 L126.4,272.98 L126.9,272.95 L127.4,272.92 L127.9,272.90 L128.4,272.87 L128.9,272.85 L129.4,272.82 L129.9,272.80 L130.4,272.77 L130.9,272.75 L131.4,272.72 L131.9,272.70 L132.4,272.68 L132.9,272.66 L133.4,272.63 L133.9,272.61 L134.4,272.59 L134.9,272.57 L135.4,272.55 L135.9,272.53 L136.4,272.51 L136.9,272.50 L137.4,272.48 L137.9,272.46 L138.4,272.44 L138.9,272.43 L139.4,272.41 L139.9,272.40 L140.4,272.38 L140.9,272.37 L141.4,272.35 L141.9,272.34 L142.4,272.32 L142.9,272.31 L143.4,272.30 L143.9,272.29 L144.4,272.27 L144.9,272.26 L145.4,272.25 L145.9,272.24 L146.4,272.23 L146.9,272.22 L147.4,272.21 L147.9,272.20 L148.4,272.20 L148.9,272.19 L149.4,272.18 L149.9,272.17 L150.4,272.17 L150.9,272.16 L151.4,272.15 L151.9,272.15 L152.4,272.14 L152.9,272.14 L153.4,272.13 L153.9,272.13 L154.4,272.13 L154.9,272.12 L155.4,272.12 L155.9,272.12 L156.4,272.12 L156.9,272.11 L157.4,272.11 L157.9,272.11 L158.4,272.11 L158.9,272.11 L159.4,272.11 L159.9,272.11 L160.4,272.11 L160.9,272.11 L161.4,272.11 L161.9,272.12 L162.4,272.12 L162.9,272.12 L163.4,272.12 L163.9,272.13 L164.4,272.13 L164.9,272.14 L165.4,272.14 L165.9,272.14 L166.4,272.15 L166.9,272.15 L167.4,272.16 L167.9,272.17 L168.4,272.17 L168.9,272.18 L169.4,272.19 L169.9,272.19 L170.4,272.20 L170.9,272.21 L171.4,272.22 L171.9,272.23 L172.4,272.23 L172.9,272.24 L173.4,272.25 L173.9,272.26 L174.4,272.27 L174.9,272.28 L175.4,272.29 L175.9,272.30 L176.4,272.32 L176.9,272.33 L177.4,272.34 L177.9,272.35 L178.4,272.36 L178.9,272.38 L179.4,272.39 L179.9,272.40 L180.4,272.41 L180.9,272.43 L181.4,272.44 L181.9,272.46 L182.4,272.47 L182.9,272.49 L183.4,272.50 L183.9,272.52 L184.4,272.53 L184.9,272.55 L185.4,272.56 L185.9,272.58 L186.4,272.60 L186.9,272.61 L187.4,272.63 L187.9,272.65 L188.4,272.66 L188.9,272.68 L189.4,272.70 L189.9,272.72 L190.4,272.74 L190.9,272.75 L191.4,272.77 L191.9,272.79 L192.4,272.81 L192.9,272.83 L193.4,272.85 L193.9,272.87 L194.4,272.89 L194.9,272.91 L195.4,272.93 L195.9,272.95 L196.4,272.97 L196.9,272.99 L197.4,273.02 L197.9,273.04 L198.4,273.06 L198.9,273.08 L199.4,273.10 L199.9,273.13 L200.4,273.15 L200.9,273.17 L201.4,273.19 L201.9,273.22 L202.4,273.24 L202.9,273.26 L203.4,273.29 L203.9,273.31 L204.4,273.33 L204.9,273.36 L205.4,273.38 L205.9,273.41 L206.4,273.43 L206.9,273.46 L207.4,273.48 L207.9,273.51 L208.4,273.53 L208.9,273.56 L209.4,273.58 L209.9,273.61 L210.4,273.63 L210.9,273.66 L211.4,273.69 L211.9,273.71 L212.4,273.74 L212.9,273.76 L213.4,273.79 L213.9,273.82 L214.4,273.84 L214.9,273.87 L215.4,273.90 L215.9,273.92 L216.4,273.95 L216.9,273.98 L217.4,274.01 L217.9,274.03 L218.4,274.06 L218.9,274.09 L219.4,274.12 L219.9,274.15 L220.4,274.17 L220.9,274.20 L221.4,274.23 L221.9,274.26 L222.4,274.29 L222.9,274.32 L223.4,274.34 L223.9,274.37 L224.4,274.40 L224.9,274.43 L225.4,274.46 L225.9,274.49 L226.4,274.52 L226.9,274.55 L227.4,274.58 L227.9,274.61 L228.4,274.63 L228.9,274.66 L229.4,274.69 L229.9,274.72 L230.4,274.75 L230.9,274.78 L231.4,274.81 L231.9,274.84 L232.4,274.87 L232.9,274.90 L233.4,274.93 L233.9,274.96 L234.4,274.99 L234.9,275.02 L235.4,275.05 L235.9,275.08 L236.4,275.11 L236.9,275.14 L237.4,275.17 L237.9,275.20 L238.4,275.23 L238.9,275.26 L239.4,275.29 L239.9,275.32 L240.4,275.35 L240.9,275.38 L241.4,275.41 L241.9,275.44 L242.4,275.47 L242.9,275.50 L243.4,275.53 L243.9,275.56 L244.4,275.59 L244.9,275.62 L245.4,275.65 L245.9,275.68 L246.4,275.71 L246.9,275.74 L247.4,275.77 L247.9,275.80 L248.4,275.83 L248.9,275.86 L249.4,275.89 L249.9,275.92 L250.4,275.95 L250.9,275.98 L251.4,276.01 L251.9,276.04 L252.4,276.07 L252.9,276.10 L253.4,276.13 L253.9,276.16 L254.4,276.19 L254.9,276.22 L255.4,276.25 L255.9,276.28 L256.4,276.31 L256.9,276.34 L257.4,276.37 L257.9,276.39 L258.4,276.42 L258.9,276.45 L259.4,276.48 L259.9,276.51 L260.4,276.54 L260.9,276.57 L261.4,276.60 L261.9,276.62 L262.4,276.65 L262.9,276.68 L263.4,276.71 L263.9,276.74 L264.4,276.77 L264.9,276.79 L265.4,276.82 L265.9,276.85 L266.4,276.88 L266.9,276.90 L267.4,276.93 L267.9,276.96 L268.4,276.99 L268.9,277.01 L269.4,277.04 L269.9,277.07 L270.4,277.09 L270.9,277.12 L271.4,277.15 L271.9,277.17 L272.4,277.20 L272.9,277.22 L273.4,277.25 L273.9,277.27 L274.4,277.30 L274.9,277.33 L275.4,277.35 L275.9,277.38 L276.4,277.40 L276.9,277.42 L277.4,277.45 L277.9,277.47 L278.4,277.50 L278.9,277.52 L279.4,277.54 L279.9,277.57 L280.4,277.59 L280.9,277.61 L281.4,277.64 L281.9,277.66 L282.4,277.68 L282.9,277.70 L283.4,277.72 L283.9,277.74 L284.4,277.76 L284.9,277.78 L285.4,277.80 L285.9,277.82 L286.4,277.84 L286.9,277.86 L287.4,277.88 L287.9,277.90 L288.4,277.92 L288.9,277.93 L289.4,277.95 L289.9,277.97 L290.4,277.99 L290.9,278.00 L291.4,278.02 L291.9,278.03 L292.4,278.05 L292.9,278.06 L293.4,278.08 L293.9,278.09 L294.4,278.10 L294.9,278.11 L295.4,278.13 L295.9,278.14 L296.4,278.15 L296.9,278.16 L297.4,278.17 L297.9,278.18 L298.4,278.19 L298.9,278.20 L299.4,278.21 L299.9,278.22 L300.4,278.22 L300.9,278.23 L301.4,278.24 L301.9,278.24 L302.4,278.25 L302.9,278.25 L303.4,278.25 L303.9,278.26 L304.4,278.26 L304.9,278.26 L305.4,278.27 L305.9,278.27 L306.4,278.27 L306.9,278.27 L307.4,278.27 L307.9,278.26 L308.4,278.26 L308.9,278.26 L309.4,278.26 L309.9,278.25 L310.4,278.25 L310.9,278.24 L311.4,278.24 L311.9,278.23 L312.4,278.22 L312.9,278.22 L313.4,278.21 L313.9,278.20 L314.4,278.19 L314.9,278.18 L315.4,278.17 L315.9,278.16 L316.4,278.14 L316.9,278.13 L317.4,278.12 L317.9,278.10 L318.4,278.09 L318.9,278.07 L319.4,278.06 L319.9,278.04 L320.4,278.02 L320.9,278.01 L321.4,277.99 L321.9,277.97 L322.4,277.95 L322.9,277.93 L323.4,277.91 L323.9,277.89 L324.4,277.86 L324.9,277.84 L325.4,277.82 L325.9,277.79 L326.4,277.77 L326.9,277.74 L327.4,277.72 L327.9,277.69 L328.4,277.66 L328.9,277.63 L329.4,277.60 L329.9,277.58 L330.4,277.55 L330.9,277.51 L331.4,277.48 L331.9,277.45 L332.4,277.42 L332.9,277.39 L333.4,277.35 L333.9,277.32 L334.4,277.28 L334.9,277.25 L335.4,277.21 L335.9,277.17 L336.4,277.14 L336.9,277.10 L337.4,277.06 L337.9,277.02 L338.4,276.98 L338.9,276.94 L339.4,276.90 L339.9,276.85 L340.4,276.81 L340.9,276.77 L341.4,276.72 L341.9,276.68 L342.4,276.63 L342.9,276.59 L343.4,276.54 L343.9,276.50 L344.4,276.45 L344.9,276.40 L345.4,276.35 L345.9,276.30 L346.4,276.25 L346.9,276.20 L347.4,276.15 L347.9,276.09 L348.4,276.04 L348.9,275.99 L349.4,275.93 L349.9,275.88 L350.4,275.82 L350.9,275.77 L351.4,275.71 L351.9,275.65 L352.4,275.60 L352.9,275.54 L353.4,275.48 L353.9,275.42 L354.4,275.36 L354.9,275.30 L355.4,275.24 L355.9,275.18 L356.4,275.12 L356.9,275.06 L357.4,275.00 L357.9,274.94 L358.4,274.87 L358.9,274.81 L359.4,274.75 L359.9,274.69 L360.4,274.62 L360.9,274.56 L361.4,274.50 L361.9,274.43 L362.4,274.37 L362.9,274.30 L363.4,274.24 L363.9,274.18 L364.4,274.11 L364.9,274.05 L365.4,273.98 L365.9,273.92 L366.4,273.85 L366.9,273.79 L367.4,273.72 L367.9,273.66 L368.4,273.60 L368.9,273.53 L369.4,273.47 L369.9,273.40 L370.4,273.34 L370.9,273.28 L371.4,273.21 L371.9,273.15 L372.4,273.09 L372.9,273.02 L373.4,272.96 L373.9,272.90 L374.4,272.83 L374.9,272.77 L375.4,272.71 L375.9,272.65 L376.4,272.59 L376.9,272.53 L377.4,272.47 L377.9,272.41 L378.4,272.35 L378.9,272.29 L379.4,272.23 L379.9,272.17 L380.4,272.11 L380.9,272.06 L381.4,272.00 L381.9,271.95 L382.4,271.89 L382.9,271.83 L383.4,271.78 L383.9,271.73 L384.4,271.67 L384.9,271.62 L385.4,271.57 L385.9,271.52 L386.4,271.47 L386.9,271.42 L387.4,271.37 L387.9,271.32 L388.4,271.27 L388.9,271.23 L389.4,271.18 L389.9,271.13 L390.4,271.09 L390.9,271.05 L391.4,271.00 L391.9,270.96 L392.4,270.92 L392.9,270.88 L393.4,270.84 L393.9,270.80 L394.4,270.76 L394.9,270.72 L395.4,270.69 L395.9,270.65 L396.4,270.62 L396.9,270.58 L397.4,270.55 L397.9,270.51 L398.4,270.48 L398.9,270.45 L399.4,270.42 L399.9,270.39 L400.4,270.36 L400.9,270.33 L401.4,270.30 L401.9,270.28 L402.4,270.25 L402.9,270.23 L403.4,270.20 L403.9,270.18 L404.4,270.15 L404.9,270.13 L405.4,270.11 L405.9,270.09 L406.4,270.07 L406.9,270.05 L407.4,270.03 L407.9,270.01 L408.4,270.00 L408.9,269.98 L409.4,269.96 L409.9,269.95 L410.4,269.94 L410.9,269.92 L411.4,269.91 L411.9,269.90 L412.4,269.89 L412.9,269.88 L413.4,269.87 L413.9,269.86 L414.4,269.85 L414.9,269.84 L415.4,269.84 L415.9,269.83 L416.4,269.82 L416.9,269.82 L417.4,269.82 L417.9,269.81 L418.4,269.81 L418.9,269.81 L419.4,269.81 L419.9,269.81 L420.4,269.81 L420.9,269.81 L421.4,269.82 L421.9,269.82 L422.4,269.82 L422.9,269.83 L423.4,269.83 L423.9,269.84 L424.4,269.85 L424.9,269.85 L425.4,269.86 L425.9,269.87 L426.4,269.88 L426.9,269.89 L427.4,269.90 L427.9,269.91 L428.4,269.93 L428.9,269.94 L429.4,269.96 L429.9,269.97 L430.4,269.99 L430.9,270.00 L431.4,270.02 L431.9,270.04 L432.4,270.06 L432.9,270.08 L433.4,270.10 L433.9,270.12 L434.4,270.14 L434.9,270.16 L435.4,270.19 L435.9,270.21 L436.4,270.23 L436.9,270.26 L437.4,270.29 L437.9,270.31 L438.4,270.34 L438.9,270.37 L439.4,270.40 L439.9,270.43 L440.4,270.46 L440.9,270.49 L441.4,270.52 L441.9,270.56 L442.4,270.59 L442.9,270.62 L443.4,270.66 L443.9,270.69 L444.4,270.73 L444.9,270.77 L445.4,270.81 L445.9,270.84 L446.4,270.88 L446.9,270.92 L447.4,270.96 L447.9,271.01 L448.4,271.05 L448.9,271.09 L449.4,271.13 L449.9,271.18 L450.4,271.22 L450.9,271.26 L451.4,271.31 L451.9,271.35 L452.4,271.40 L452.9,271.45 L453.4,271.49 L453.9,271.54 L454.4,271.58 L454.9,271.63 L455.4,271.68 L455.9,271.72 L456.4,271.77 L456.9,271.82 L457.4,271.87 L457.9,271.91 L458.4,271.96 L458.9,272.01 L459.4,272.06 L459.9,272.10 L460.4,272.15 L460.9,272.20 L461.4,272.25 L461.9,272.29 L462.4,272.34 L462.9,272.38 L463.4,272.43 L463.9,272.48 L464.4,272.52 L464.9,272.57 L465.4,272.61 L465.9,272.66 L466.4,272.70 L466.9,272.74 L467.4,272.79 L467.9,272.83 L468.4,272.87 L468.9,272.91 L469.4,272.95 L469.9,272.99 L470.4,273.03 L470.9,273.07 L471.4,273.11 L471.9,273.15 L472.4,273.18 L472.9,273.22 L473.4,273.25 L473.9,273.29 L474.4,273.32 L474.9,273.35 L475.4,273.39 L475.9,273.42 L476.4,273.45 L476.9,273.47 L477.4,273.50 L477.9,273.53 L478.4,273.55 L478.9,273.58 L479.4,273.60 L479.9,273.62 L480.4,273.64 L480.9,273.66 L481.4,273.68 L481.9,273.70 L482.4,273.71 L482.9,273.73 L483.4,273.74 L483.9,273.75 L484.4,273.77 L484.9,273.78 L485.4,273.79 L485.9,273.79 L486.4,273.80 L486.9,273.81 L487.4,273.81 L487.9,273.81 L488.4,273.82 L488.9,273.82 L489.4,273.82 L489.9,273.82 L490.4,273.82 L490.9,273.82 L491.4,273.81 L491.9,273.81 L492.4,273.80 L492.9,273.80 L493.4,273.79 L493.9,273.78 L494.4,273.77 L494.9,273.76 L495.4,273.75 L495.9,273.74 L496.4,273.73 L496.9,273.71 L497.4,273.70 L497.9,273.68 L498.4,273.67 L498.9,273.65 L499.4,273.63 L499.9,273.62 L500.4,273.60 L500.9,273.58 L501.4,273.56 L501.9,273.54 L502.4,273.51 L502.9,273.49 L503.4,273.47 L503.9,273.44 L504.4,273.42 L504.9,273.39 L505.4,273.37 L505.9,273.34 L506.4,273.31 L506.9,273.28 L507.4,273.25 L507.9,273.23 L508.4,273.20 L508.9,273.17 L509.4,273.13 L509.9,273.10 L510.4,273.07 L510.9,273.04 L511.4,273.00 L511.9,272.97 L512.4,272.94 L512.9,272.90 L513.4,272.86 L513.9,272.83 L514.4,272.79 L514.9,272.76 L515.4,272.72 L515.9,272.68 L516.4,272.64 L516.9,272.60 L517.4,272.57 L517.9,272.53 L518.4,272.49 L518.9,272.45 L519.4,272.41 L519.9,272.36 L520.4,272.32 L520.9,272.28 L521.4,272.24 L521.9,272.20 L522.4,272.16 L522.9,272.11 L523.4,272.07 L523.9,272.03 L524.4,271.98 L524.9,271.94 L525.4,271.90 L525.9,271.85 L526.4,271.81 L526.9,271.76 L527.4,271.72 L527.9,271.67 L528.4,271.63 L528.9,271.58 L529.4,271.54 L529.9,271.49 L530.4,271.45 L530.9,271.40 L531.4,271.35 L531.9,271.31 L532.4,271.26 L532.9,271.22 L533.4,271.17 L533.9,271.12 L534.4,271.08 L534.9,271.03 L535.4,270.98 L535.9,270.94 L536.4,270.89 L536.9,270.85 L537.4,270.80 L537.9,270.75 L538.4,270.71 L538.9,270.66 L539.4,270.62 L539.9,270.57 L540.4,270.52 L540.9,270.48 L541.4,270.43 L541.9,270.39 L542.4,270.34 L542.9,270.30 L543.4,270.25 L543.9,270.21 L544.4,270.16 L544.9,270.12 L545.4,270.07 L545.9,270.03 L546.4,269.99 L546.9,269.94 L547.4,269.90 L547.9,269.85 L548.4,269.81 L548.9,269.77 L549.4,269.73 L549.9,269.68 L550.4,269.64 L550.9,269.60 L551.4,269.56 L551.9,269.51 L552.4,269.47 L552.9,269.43 L553.4,269.39 L553.9,269.35 L554.4,269.31 L554.9,269.27 L555.4,269.23 L555.9,269.19 L556.4,269.15 L556.9,269.11 L557.4,269.08 L557.9,269.04 L558.4,269.00 L558.9,268.96 L559.4,268.93 L559.9,268.89 L560.4,268.85 L560.9,268.82 L561.4,268.78 L561.9,268.75 L562.4,268.71 L562.9,268.68 L563.4,268.64 L563.9,268.61 L564.4,268.58 L564.9,268.55 L565.4,268.51 L565.9,268.48 L566.4,268.45 L566.9,268.42 L567.4,268.39 L567.9,268.36 L568.4,268.33 L568.9,268.30 L569.4,268.27 L569.9,268.24 L570.4,268.22 L570.9,268.19 L571.4,268.16 L571.9,268.14 L572.4,268.11 L572.9,268.09 L573.4,268.06 L573.9,268.04 L574.4,268.02 L574.9,268.00 L575.4,267.97 L575.9,267.95 L576.4,267.93 L576.9,267.91 L577.4,267.89 L577.9,267.87 L578.4,267.85 L578.9,267.84 L579.4,267.82 L579.9,267.80 L580.4,267.79 L580.9,267.77 L581.4,267.76 L581.9,267.74 L582.4,267.73 L582.9,267.72 L583.4,267.71 L583.9,267.70 L584.4,267.69 L584.9,267.68 L585.4,267.67 L585.9,267.66 L586.4,267.65 L586.9,267.64 L587.4,267.64 L587.9,267.63 L588.4,267.63 L588.9,267.62 L589.4,267.62 L589.9,267.62 L590.4,267.62 L590.9,267.62 L591.4,267.62 L591.9,267.62 L592.4,267.62 L592.9,267.62 L593.4,267.63 L593.9,267.63 L594.4,267.63 L594.9,267.64 L595.4,267.65 L595.9,267.66 L596.4,267.66 L596.9,267.67 L597.4,267.68 L597.9,267.69 L598.4,267.71 L598.9,267.72 L599.4,267.73 L599.9,267.75 L600.4,267.76 L600.9,267.78 L601.4,267.80 L601.9,267.81 L602.4,267.83 L602.9,267.85 L603.4,267.88 L603.9,267.90 L604.4,267.92 L604.9,267.95 L605.4,267.97 L605.9,268.00 L606.4,268.02 L606.9,268.05 L607.4,268.08 L607.9,268.11 L608.4,268.14 L608.9,268.17 L609.4,268.21 L609.9,268.24 L610.4,268.28 L610.9,268.31 L611.4,268.35 L611.9,268.39 L612.4,268.43 L612.9,268.47 L613.4,268.51 L613.9,268.55 L614.4,268.60 L614.9,268.64 L615.4,268.69 L615.9,268.74 L616.4,268.78 L616.9,268.83 L617.4,268.89 L617.9,268.94 L618.4,268.99 L618.9,269.04 L619.4,269.10 L619.9,269.16 L620.4,269.21 L620.9,269.27 L621.4,269.33 L621.9,269.39 L622.4,269.46 L622.9,269.52 L623.4,269.58 L623.9,269.65 L624.4,269.72 L624.9,269.78 L625.4,269.85 L625.9,269.92 L626.4,269.99 L626.9,270.06 L627.4,270.13 L627.9,270.20 L628.4,270.28 L628.9,270.35 L629.4,270.43 L629.9,270.50 L630.4,270.58 L630.9,270.65 L631.4,270.73 L631.9,270.81 L632.4,270.88 L632.9,270.96 L633.4,271.04 L633.9,271.12 L634.4,271.20 L634.9,271.28 L635.4,271.36 L635.9,271.44 L636.4,271.52 L636.9,271.60 L637.4,271.68 L637.9,271.77 L638.4,271.85 L638.9,271.93 L639.4,272.01 L639.9,272.09 L640.4,272.18 L640.9,272.26 L641.4,272.34 L641.9,272.42 L642.4,272.50 L642.9,272.58 L643.4,272.67 L643.9,272.75 L644.4,272.83 L644.9,272.91 L645.4,272.99 L645.9,273.07 L646.4,273.15 L646.9,273.23 L647.4,273.31 L647.9,273.39 L648.4,273.47 L648.9,273.55 L649.4,273.63 L649.9,273.70 L650.4,273.78 L650.9,273.86 L651.4,273.93 L651.9,274.01 L652.4,274.08 L652.9,274.16 L653.4,274.23 L653.9,274.30 L654.4,274.37 L654.9,274.44 L655.4,274.51 L655.9,274.58 L656.4,274.65 L656.9,274.72 L657.4,274.78 L657.9,274.85 L658.4,274.91 L658.9,274.98 L659.4,275.04 L659.9,275.10 L660.4,275.16 L660.9,275.22 L661.4,275.28 L661.9,275.33 L662.4,275.39 L662.9,275.44 L663.4,275.50 L663.9,275.55 L664.4,275.60 L664.9,275.65 L665.4,275.70 L665.9,275.74 L666.4,275.79 L666.9,275.83 L667.4,275.87 L667.9,275.91 L668.4,275.95 L668.9,275.99 L669.4,276.02 L669.9,276.06 L670.4,276.09 L670.9,276.12 L671.4,276.15 L671.9,276.17 L672.4,276.20 L672.9,276.22 L673.4,276.24 L673.9,276.26 L674.4,276.28 L674.9,276.30 L675.4,276.31 L675.9,276.32 L676.4,276.33 L676.9,276.34 L677.4,276.34 L677.9,276.35 L678.4,276.35 L678.6,276.35" fill="none" stroke="#e3b340" stroke-width="1.4"/>
<path d="M34.4,280.94 L34.9,280.99 L35.4,281.03 L35.9,281.08 L36.4,281.12 L36.9,281.17 L37.4,281.21 L37.9,281.26 L38.4,281.30 L38.9,281.35 L39.4,281.39 L39.9,281.44 L40.4,281.48 L40.9,281.52 L41.4,281.57 L41.9,281.61 L42.4,281.66 L42.9,281.70 L43.4,281.74 L43.9,281.79 L44.4,281.83 L44.9,281.87 L45.4,281.91 L45.9,281.96 L46.4,282.00 L46.9,282.04 L47.4,282.08 L47.9,282.13 L48.4,282.17 L48.9,282.21 L49.4,282.25 L49.9,282.29 L50.4,282.33 L50.9,282.37 L51.4,282.41 L51.9,282.45 L52.4,282.49 L52.9,282.53 L53.4,282.57 L53.9,282.61 L54.4,282.65 L54.9,282.68 L55.4,282.72 L55.9,282.76 L56.4,282.80 L56.9,282.83 L57.4,282.87 L57.9,282.91 L58.4,282.94 L58.9,282.98 L59.4,283.02 L59.9,283.05 L60.4,283.09 L60.9,283.12 L61.4,283.16 L61.9,283.19 L62.4,283.22 L62.9,283.26 L63.4,283.29 L63.9,283.32 L64.4,283.35 L64.9,283.39 L65.4,283.42 L65.9,283.45 L66.4,283.48 L66.9,283.51 L67.4,283.54 L67.9,283.57 L68.4,283.60 L68.9,283.63 L69.4,283.66 L69.9,283.69 L70.4,283.71 L70.9,283.74 L71.4,283.77 L71.9,283.79 L72.4,283.82 L72.9,283.85 L73.4,283.87 L73.9,283.90 L74.4,283.92 L74.9,283.94 L75.4,283.97 L75.9,283.99 L76.4,284.01 L76.9,284.03 L77.4,284.06 L77.9,284.08 L78.4,284.10 L78.9,284.12 L79.4,284.14 L79.9,284.16 L80.4,284.17 L80.9,284.19 L81.4,284.21 L81.9,284.23 L82.4,284.24 L82.9,284.26 L83.4,284.28 L83.9,284.29 L84.4,284.31 L84.9,284.32 L85.4,284.33 L85.9,284.35 L86.4,284.36 L86.9,284.37 L87.4,284.38 L87.9,284.39 L88.4,284.40 L88.9,284.41 L89.4,284.42 L89.9,284.43 L90.4,284.44 L90.9,284.44 L91.4,284.45 L91.9,284.46 L92.4,284.46 L92.9,284.47 L93.4,284.47 L93.9,284.47 L94.4,284.48 L94.9,284.48 L95.4,284.48 L95.9,284.48 L96.4,284.48 L96.9,284.48 L97.4,284.48 L97.9,284.48 L98.4,284.48 L98.9,284.47 L99.4,284.47 L99.9,284.47 L100.4,284.46 L100.9,284.46 L101.4,284.45 L101.9,284.44 L102.4,284.44 L102.9,284.43 L103.4,284.42 L103.9,284.41 L104.4,284.40 L104.9,284.39 L105.4,284.38 L105.9,284.37 L106.4,284.36 L106.9,284.35 L107.4,284.33 L107.9,284.32 L108.4,284.30 L108.9,284.29 L109.4,284.27 L109.9,284.26 L110.4,284.24 L110.9,284.22 L111.4,284.20 L111.9,284.18 L112.4,284.16 L112.9,284.14 L113.4,284.12 L113.9,284.10 L114.4,284.08 L114.9,284.06 L115.4,284.03 L115.9,284.01 L116.4,283.98 L116.9,283.96 L117.4,283.93 L117.9,283.91 L118.4,283.88 L118.9,283.85 L119.4,283.82 L119.9,283.79 L120.4,283.76 L120.9,283.73 L121.4,283.70 L121.9,283.67 L122.4,283.64 L122.9,283.60 L123.4,283.57 L123.9,283.54 L124.4,283.50 L124.9,283.47 L125.4,283.43 L125.9,283.39 L126.4,283.36 L126.9,283.32 L127.4,283.28 L127.9,283.24 L128.4,283.20 L128.9,283.16 L129.4,283.12 L129.9,283.08 L130.4,283.03 L130.9,282.99 L131.4,282.95 L131.9,282.90 L132.4,282.86 L132.9,282.81 L133.4,282.76 L133.9,282.72 L134.4,282.67 L134.9,282.62 L135.4,282.57 L135.9,282.52 L136.4,282.47 L136.9,282.42 L137.4,282.37 L137.9,282.32 L138.4,282.27 L138.9,282.22 L139.4,282.17 L139.9,282.12 L140.4,282.07 L140.9,282.01 L141.4,281.96 L141.9,281.91 L142.4,281.86 L142.9,281.81 L143.4,281.76 L143.9,281.71 L144.4,281.66 L144.9,281.61 L145.4,281.56 L145.9,281.51 L146.4,281.47 L146.9,281.42 L147.4,281.37 L147.9,281.32 L148.4,281.28 L148.9,281.23 L149.4,281.19 L149.9,281.14 L150.4,281.09 L150.9,281.05 L151.4,281.01 L151.9,280.96 L152.4,280.92 L152.9,280.88 L153.4,280.83 L153.9,280.79 L154.4,280.75 L154.9,280.71 L155.4,280.67 L155.9,280.63 L156.4,280.59 L156.9,280.55 L157.4,280.51 L157.9,280.47 L158.4,280.43 L158.9,280.39 L159.4,280.35 L159.9,280.31 L160.4,280.27 L160.9,280.24 L161.4,280.20 L161.9,280.16 L162.4,280.13 L162.9,280.09 L163.4,280.06 L163.9,280.02 L164.4,279.99 L164.9,279.95 L165.4,279.92 L165.9,279.88 L166.4,279.85 L166.9,279.82 L167.4,279.78 L167.9,279.75 L168.4,279.72 L168.9,279.69 L169.4,279.65 L169.9,279.62 L170.4,279.59 L170.9,279.56 L171.4,279.53 L171.9,279.50 L172.4,279.47 L172.9,279.44 L173.4,279.41 L173.9,279.38 L174.4,279.35 L174.9,279.32 L175.4,279.30 L175.9,279.27 L176.4,279.24 L176.9,279.21 L177.4,279.19 L177.9,279.16 L178.4,279.13 L178.9,279.11 L179.4,279.08 L179.9,279.05 L180.4,279.03 L180.9,279.00 L181.4,278.98 L181.9,278.95 L182.4,278.93 L182.9,278.90 L183.4,278.88 L183.9,278.86 L184.4,278.83 L184.9,278.81 L185.4,278.78 L185.9,278.76 L186.4,278.74 L186.9,278.72 L187.4,278.69 L187.9,278.67 L188.4,278.65 L188.9,278.63 L189.4,278.61 L189.9,278.59 L190.4,278.57 L190.9,278.55 L191.4,278.52 L191.9,278.50 L192.4,278.48 L192.9,278.46 L193.4,278.44 L193.9,278.43 L194.4,278.41 L194.9,278.39 L195.4,278.37 L195.9,278.35 L196.4,278.33 L196.9,278.31 L197.4,278.29 L197.9,278.28 L198.4,278.26 L198.9,278.24 L199.4,278.22 L199.9,278.21 L200.4,278.19 L200.9,278.17 L201.4,278.16 L201.9,278.14 L202.4,278.12 L202.9,278.11 L203.4,278.09 L203.9,278.07 L204.4,278.06 L204.9,278.04 L205.4,278.03 L205.9,278.01 L206.4,278.00 L206.9,277.98 L207.4,277.97 L207.9,277.95 L208.4,277.94 L208.9,277.92 L209.4,277.91 L209.9,277.90 L210.4,277.88 L210.9,277.87 L211.4,277.85 L211.9,277.84 L212.4,277.83 L212.9,277.81 L213.4,277.80 L213.9,277.79 L214.4,277.77 L214.9,277.76 L215.4,277.75 L215.9,277.73 L216.4,277.72 L216.9,277.71 L217.4,277.70 L217.9,277.68 L218.4,277.67 L218.9,277.66 L219.4,277.65 L219.9,277.64 L220.4,277.62 L220.9,277.61 L221.4,277.60 L221.9,277.59 L222.4,277.58 L222.9,277.57 L223.4,277.55 L223.9,277.54 L224.4,277.53 L224.9,277.52 L225.4,277.51 L225.9,277.50 L226.4,277.49 L226.9,277.48 L227.4,277.47 L227.9,277.46 L228.4,277.44 L228.9,277.43 L229.4,277.42 L229.9,277.41 L230.4,277.40 L230.9,277.39 L231.4,277.38 L231.9,277.37 L232.4,277.36 L232.9,277.35 L233.4,277.34 L233.9,277.33 L234.4,277.32 L234.9,277.31 L235.4,277.30 L235.9,277.29 L236.4,277.28 L236.9,277.27 L237.4,277.26 L237.9,277.25 L238.4,277.24 L238.9,277.23 L239.4,277.22 L239.9,277.21 L240.4,277.20 L240.9,277.19 L241.4,277.18 L241.9,277.17 L242.4,277.16 L242.9,277.15 L243.4,277.13 L243.9,277.12 L244.4,277.11 L244.9,277.10 L245.4,277.09 L245.9,277.08 L246.4,277.07 L246.9,277.06 L247.4,277.05 L247.9,277.04 L248.4,277.03 L248.9,277.02 L249.4,277.01 L249.9,277.00 L250.4,276.99 L250.9,276.98 L251.4,276.97 L251.9,276.96 L252.4,276.95 L252.9,276.94 L253.4,276.93 L253.9,276.91 L254.4,276.90 L254.9,276.89 L255.4,276.88 L255.9,276.87 L256.4,276.86 L256.9,276.85 L257.4,276.84 L257.9,276.83 L258.4,276.82 L258.9,276.81 L259.4,276.79 L259.9,276.78 L260.4,276.77 L260.9,276.76 L261.4,276.75 L261.9,276.74 L262.4,276.73 L262.9,276.72 L263.4,276.71 L263.9,276.70 L264.4,276.69 L264.9,276.68 L265.4,276.66 L265.9,276.65 L266.4,276.64 L266.9,276.63 L267.4,276.62 L267.9,276.61 L268.4,276.60 L268.9,276.59 L269.4,276.58 L269.9,276.57 L270.4,276.56 L270.9,276.55 L271.4,276.54 L271.9,276.53 L272.4,276.52 L272.9,276.51 L273.4,276.50 L273.9,276.49 L274.4,276.48 L274.9,276.48 L275.4,276.47 L275.9,276.46 L276.4,276.45 L276.9,276.44 L277.4,276.43 L277.9,276.42 L278.4,276.41 L278.9,276.41 L279.4,276.40 L279.9,276.39 L280.4,276.38 L280.9,276.37 L281.4,276.37 L281.9,276.36 L282.4,276.35 L282.9,276.35 L283.4,276.34 L283.9,276.33 L284.4,276.33 L284.9,276.32 L285.4,276.31 L285.9,276.31 L286.4,276.30 L286.9,276.30 L287.4,276.29 L287.9,276.28 L288.4,276.28 L288.9,276.27 L289.4,276.27 L289.9,276.27 L290.4,276.26 L290.9,276.26 L291.4,276.25 L291.9,276.25 L292.4,276.25 L292.9,276.24 L293.4,276.24 L293.9,276.24 L294.4,276.23 L294.9,276.23 L295.4,276.23 L295.9,276.23 L296.4,276.23 L296.9,276.23 L297.4,276.22 L297.9,276.22 L298.4,276.22 L298.9,276.22 L299.4,276.22 L299.9,276.22 L300.4,276.22 L300.9,276.22 L301.4,276.22 L301.9,276.23 L302.4,276.23 L302.9,276.23 L303.4,276.23 L303.9,276.23 L304.4,276.24 L304.9,276.24 L305.4,276.24 L305.9,276.25 L306.4,276.25 L306.9,276.26 L307.4,276.26 L307.9,276.27 L308.4,276.27 L308.9,276.28 L309.4,276.28 L309.9,276.29 L310.4,276.29 L310.9,276.30 L311.4,276.31 L311.9,276.32 L312.4,276.32 L312.9,276.33 L313.4,276.34 L313.9,276.35 L314.4,276.36 L314.9,276.37 L315.4,276.38 L315.9,276.39 L316.4,276.40 L316.9,276.41 L317.4,276.42 L317.9,276.44 L318.4,276.45 L318.9,276.46 L319.4,276.47 L319.9,276.49 L320.4,276.50 L320.9,276.52 L321.4,276.53 L321.9,276.55 L322.4,276.56 L322.9,276.58 L323.4,276.59 L323.9,276.61 L324.4,276.63 L324.9,276.65 L325.4,276.66 L325.9,276.68 L326.4,276.70 L326.9,276.72 L327.4,276.74 L327.9,276.76 L328.4,276.78 L328.9,276.80 L329.4,276.83 L329.9,276.85 L330.4,276.87 L330.9,276.89 L331.4,276.92 L331.9,276.94 L332.4,276.96 L332.9,276.99 L333.4,277.01 L333.9,277.04 L334.4,277.06 L334.9,277.09 L335.4,277.11 L335.9,277.14 L336.4,277.17 L336.9,277.19 L337.4,277.22 L337.9,277.25 L338.4,277.28 L338.9,277.30 L339.4,277.33 L339.9,277.36 L340.4,277.39 L340.9,277.42 L341.4,277.44 L341.9,277.47 L342.4,277.50 L342.9,277.53 L343.4,277.56 L343.9,277.59 L344.4,277.62 L344.9,277.64 L345.4,277.67 L345.9,277.70 L346.4,277.73 L346.9,277.76 L347.4,277.79 L347.9,277.82 L348.4,277.85 L348.9,277.88 L349.4,277.91 L349.9,277.93 L350.4,277.96 L350.9,277.99 L351.4,278.02 L351.9,278.05 L352.4,278.08 L352.9,278.11 L353.4,278.13 L353.9,278.16 L354.4,278.19 L354.9,278.22 L355.4,278.24 L355.9,278.27 L356.4,278.30 L356.9,278.32 L357.4,278.35 L357.9,278.38 L358.4,278.40 L358.9,278.43 L359.4,278.45 L359.9,278.48 L360.4,278.50 L360.9,278.53 L361.4,278.55 L361.9,278.58 L362.4,278.60 L362.9,278.62 L363.4,278.64 L363.9,278.67 L364.4,278.69 L364.9,278.71 L365.4,278.73 L365.9,278.75 L366.4,278.77 L366.9,278.79 L367.4,278.81 L367.9,278.83 L368.4,278.84 L368.9,278.86 L369.4,278.88 L369.9,278.89 L370.4,278.91 L370.9,278.92 L371.4,278.93 L371.9,278.94 L372.4,278.95 L372.9,278.95 L373.4,278.95 L373.9,278.95 L374.4,278.95 L374.9,278.94 L375.4,278.94 L375.9,278.92 L376.4,278.91 L376.9,278.89 L377.4,278.86 L377.9,278.84 L378.4,278.81 L378.9,278.77 L379.4,278.73 L379.9,278.68 L380.4,278.64 L380.9,278.58 L381.4,278.53 L381.9,278.46 L382.4,278.40 L382.9,278.33 L383.4,278.25 L383.9,278.18 L384.4,278.09 L384.9,278.01 L385.4,277.92 L385.9,277.82 L386.4,277.72 L386.9,277.62 L387.4,277.51 L387.9,277.40 L388.4,277.28 L388.9,277.17 L389.4,277.04 L389.9,276.91 L390.4,276.78 L390.9,276.65 L391.4,276.51 L391.9,276.36 L392.4,276.22 L392.9,276.06 L393.4,275.91 L393.9,275.75 L394.4,275.59 L394.9,275.42 L395.4,275.25 L395.9,275.07 L396.4,274.89 L396.9,274.71 L397.4,274.52 L397.9,274.33 L398.4,274.14 L398.9,273.94 L399.4,273.74 L399.9,273.53 L400.4,273.32 L400.9,273.11 L401.4,272.89 L401.9,272.67 L402.4,272.45 L402.9,272.22 L403.4,271.99 L403.9,271.75 L404.4,271.51 L404.9,271.27 L405.4,271.02 L405.9,270.77 L406.4,270.52 L406.9,270.26 L407.4,270.00 L407.9,269.74 L408.4,269.47 L408.9,269.20 L409.4,268.92 L409.9,268.64 L410.4,268.36 L410.9,268.07 L411.4,267.78 L411.9,267.49 L412.4,267.19 L412.9,266.89 L413.4,266.59 L413.9,266.28 L414.4,265.97 L414.9,265.66 L415.4,265.34 L415.9,265.02 L416.4,264.70 L416.9,264.37 L417.4,264.04 L417.9,263.70 L418.4,263.37 L418.9,263.03 L419.4,262.68 L419.9,262.34 L420.4,261.99 L420.9,261.64 L421.4,261.29 L421.9,260.94 L422.4,260.58 L422.9,260.23 L423.4,259.88 L423.9,259.53 L424.4,259.17 L424.9,258.82 L425.4,258.48 L425.9,258.13 L426.4,257.78 L426.9,257.44 L427.4,257.10 L427.9,256.76 L428.4,256.43 L428.9,256.10 L429.4,255.78 L429.9,255.46 L430.4,255.14 L430.9,254.83 L431.4,254.53 L431.9,254.23 L432.4,253.94 L432.9,253.65 L433.4,253.37 L433.9,253.10 L434.4,252.84 L434.9,252.58 L435.4,252.33 L435.9,252.09 L436.4,251.87 L436.9,251.65 L437.4,251.43 L437.9,251.23 L438.4,251.05 L438.9,250.87 L439.4,250.70 L439.9,250.54 L440.4,250.40 L440.9,250.26 L441.4,250.14 L441.9,250.04 L442.4,249.94 L442.9,249.85 L443.4,249.78 L443.9,249.72 L444.4,249.67 L444.9,249.63 L445.4,249.61 L445.9,249.59 L446.4,249.59 L446.9,249.60 L447.4,249.62 L447.9,249.66 L448.4,249.70 L448.9,249.75 L449.4,249.82 L449.9,249.89 L450.4,249.98 L450.9,250.08 L451.4,250.18 L451.9,250.30 L452.4,250.42 L452.9,250.55 L453.4,250.70 L453.9,250.85 L454.4,251.01 L454.9,251.17 L455.4,251.35 L455.9,251.53 L456.4,251.72 L456.9,251.92 L457.4,252.13 L457.9,252.34 L458.4,252.56 L458.9,252.78 L459.4,253.02 L459.9,253.25 L460.4,253.50 L460.9,253.75 L461.4,254.00 L461.9,254.26 L462.4,254.52 L462.9,254.79 L463.4,255.07 L463.9,255.35 L464.4,255.63 L464.9,255.91 L465.4,256.20 L465.9,256.50 L466.4,256.79 L466.9,257.09 L467.4,257.40 L467.9,257.70 L468.4,258.01 L468.9,258.32 L469.4,258.63 L469.9,258.94 L470.4,259.26 L470.9,259.57 L471.4,259.89 L471.9,260.20 L472.4,260.52 L472.9,260.84 L473.4,261.16 L473.9,261.48 L474.4,261.80 L474.9,262.11 L475.4,262.43 L475.9,262.75 L476.4,263.06 L476.9,263.38 L477.4,263.69 L477.9,264.00 L478.4,264.31 L478.9,264.61 L479.4,264.92 L479.9,265.22 L480.4,265.51 L480.9,265.81 L481.4,266.10 L481.9,266.39 L482.4,266.68 L482.9,266.96 L483.4,267.23 L483.9,267.51 L484.4,267.78 L484.9,268.05 L485.4,268.31 L485.9,268.57 L486.4,268.82 L486.9,269.07 L487.4,269.31 L487.9,269.55 L488.4,269.79 L488.9,270.02 L489.4,270.24 L489.9,270.46 L490.4,270.67 L490.9,270.88 L491.4,271.09 L491.9,271.28 L492.4,271.47 L492.9,271.66 L493.4,271.84 L493.9,272.01 L494.4,272.18 L494.9,272.34 L495.4,272.49 L495.9,272.64 L496.4,272.78 L496.9,272.91 L497.4,273.03 L497.9,273.15 L498.4,273.26 L498.9,273.37 L499.4,273.46 L499.9,273.55 L500.4,273.63 L500.9,273.70 L501.4,273.77 L501.9,273.82 L502.4,273.87 L502.9,273.91 L503.4,273.94 L503.9,273.96 L504.4,273.97 L504.9,273.98 L505.4,273.97 L505.9,273.96 L506.4,273.93 L506.9,273.90 L507.4,273.86 L507.9,273.81 L508.4,273.75 L508.9,273.68 L509.4,273.60 L509.9,273.51 L510.4,273.42 L510.9,273.31 L511.4,273.20 L511.9,273.08 L512.4,272.96 L512.9,272.82 L513.4,272.68 L513.9,272.52 L514.4,272.37 L514.9,272.20 L515.4,272.03 L515.9,271.85 L516.4,271.66 L516.9,271.46 L517.4,271.26 L517.9,271.05 L518.4,270.84 L518.9,270.61 L519.4,270.39 L519.9,270.15 L520.4,269.91 L520.9,269.66 L521.4,269.41 L521.9,269.15 L522.4,268.89 L522.9,268.62 L523.4,268.34 L523.9,268.06 L524.4,267.77 L524.9,267.48 L525.4,267.19 L525.9,266.89 L526.4,266.58 L526.9,266.27 L527.4,265.95 L527.9,265.63 L528.4,265.31 L528.9,264.98 L529.4,264.65 L529.9,264.31 L530.4,263.97 L530.9,263.62 L531.4,263.27 L531.9,262.92 L532.4,262.57 L532.9,262.21 L533.4,261.85 L533.9,261.48 L534.4,261.11 L534.9,260.74 L535.4,260.37 L535.9,259.99 L536.4,259.61 L536.9,259.23 L537.4,258.84 L537.9,258.46 L538.4,258.07 L538.9,257.68 L539.4,257.29 L539.9,256.89 L540.4,256.50 L540.9,256.10 L541.4,255.70 L541.9,255.30 L542.4,254.90 L542.9,254.50 L543.4,254.10 L543.9,253.70 L544.4,253.30 L544.9,252.90 L545.4,252.50 L545.9,252.09 L546.4,251.69 L546.9,251.30 L547.4,250.90 L547.9,250.50 L548.4,250.11 L548.9,249.71 L549.4,249.32 L549.9,248.93 L550.4,248.55 L550.9,248.16 L551.4,247.78 L551.9,247.40 L552.4,247.03 L552.9,246.65 L553.4,246.29 L553.9,245.92 L554.4,245.56 L554.9,245.20 L555.4,244.85 L555.9,244.50 L556.4,244.16 L556.9,243.82 L557.4,243.49 L557.9,243.16 L558.4,242.84 L558.9,242.52 L559.4,242.21 L559.9,241.91 L560.4,241.61 L560.9,241.32 L561.4,241.03 L561.9,240.76 L562.4,240.49 L562.9,240.22 L563.4,239.97 L563.9,239.72 L564.4,239.48 L564.9,239.25 L565.4,239.02 L565.9,238.81 L566.4,238.60 L566.9,238.40 L567.4,238.22 L567.9,238.04 L568.4,237.87 L568.9,237.71 L569.4,237.56 L569.9,237.42 L570.4,237.29 L570.9,237.17 L571.4,237.06 L571.9,236.96 L572.4,236.86 L572.9,236.78 L573.4,236.71 L573.9,236.65 L574.4,236.60 L574.9,236.56 L575.4,236.53 L575.9,236.51 L576.4,236.50 L576.9,236.50 L577.4,236.52 L577.9,236.54 L578.4,236.57 L578.9,236.61 L579.4,236.67 L579.9,236.73 L580.4,236.81 L580.9,236.89 L581.4,236.99 L581.9,237.10 L582.4,237.22 L582.9,237.35 L583.4,237.49 L583.9,237.64 L584.4,237.81 L584.9,237.98 L585.4,238.17 L585.9,238.37 L586.4,238.57 L586.9,238.79 L587.4,239.02 L587.9,239.26 L588.4,239.51 L588.9,239.77 L589.4,240.04 L589.9,240.32 L590.4,240.61 L590.9,240.92 L591.4,241.23 L591.9,241.55 L592.4,241.88 L592.9,242.22 L593.4,242.57 L593.9,242.92 L594.4,243.29 L594.9,243.67 L595.4,244.06 L595.9,244.45 L596.4,244.86 L596.9,245.27 L597.4,245.69 L597.9,246.12 L598.4,246.56 L598.9,247.01 L599.4,247.46 L599.9,247.93 L600.4,248.40 L600.9,248.88 L601.4,249.36 L601.9,249.86 L602.4,250.36 L602.9,250.87 L603.4,251.38 L603.9,251.90 L604.4,252.42 L604.9,252.95 L605.4,253.48 L605.9,254.01 L606.4,254.55 L606.9,255.09 L607.4,255.64 L607.9,256.18 L608.4,256.73 L608.9,257.28 L609.4,257.83 L609.9,258.38 L610.4,258.93 L610.9,259.48 L611.4,260.03 L611.9,260.58 L612.4,261.12 L612.9,261.67 L613.4,262.21 L613.9,262.75 L614.4,263.29 L614.9,263.82 L615.4,264.35 L615.9,264.87 L616.4,265.39 L616.9,265.91 L617.4,266.41 L617.9,266.92 L618.4,267.41 L618.9,267.90 L619.4,268.39 L619.9,268.86 L620.4,269.33 L620.9,269.78 L621.4,270.24 L621.9,270.68 L622.4,271.11 L622.9,271.54 L623.4,271.95 L623.9,272.36 L624.4,272.77 L624.9,273.16 L625.4,273.54 L625.9,273.92 L626.4,274.29 L626.9,274.65 L627.4,275.00 L627.9,275.35 L628.4,275.68 L628.9,276.01 L629.4,276.33 L629.9,276.64 L630.4,276.94 L630.9,277.24 L631.4,277.52 L631.9,277.80 L632.4,278.07 L632.9,278.33 L633.4,278.58 L633.9,278.83 L634.4,279.07 L634.9,279.29 L635.4,279.51 L635.9,279.73 L636.4,279.93 L636.9,280.12 L637.4,280.31 L637.9,280.49 L638.4,280.66 L638.9,280.82 L639.4,280.97 L639.9,281.12 L640.4,281.25 L640.9,281.38 L641.4,281.50 L641.9,281.61 L642.4,281.72 L642.9,281.81 L643.4,281.90 L643.9,281.97 L644.4,282.04 L644.9,282.11 L645.4,282.16 L645.9,282.20 L646.4,282.24 L646.9,282.27 L647.4,282.30 L647.9,282.31 L648.4,282.32 L648.9,282.33 L649.4,282.33 L649.9,282.32 L650.4,282.31 L650.9,282.29 L651.4,282.27 L651.9,282.24 L652.4,282.21 L652.9,282.18 L653.4,282.14 L653.9,282.10 L654.4,282.05 L654.9,282.00 L655.4,281.95 L655.9,281.90 L656.4,281.84 L656.9,281.78 L657.4,281.72 L657.9,281.66 L658.4,281.60 L658.9,281.53 L659.4,281.47 L659.9,281.40 L660.4,281.34 L660.9,281.27 L661.4,281.21 L661.9,281.14 L662.4,281.08 L662.9,281.02 L663.4,280.95 L663.9,280.90 L664.4,280.84 L664.9,280.78 L665.4,280.73 L665.9,280.68 L666.4,280.63 L666.9,280.59 L667.4,280.55 L667.9,280.51 L668.4,280.47 L668.9,280.45 L669.4,280.42 L669.9,280.40 L670.4,280.39 L670.9,280.38 L671.4,280.37 L671.9,280.37 L672.4,280.38 L672.9,280.39 L673.4,280.41 L673.9,280.44 L674.4,280.48 L674.9,280.52 L675.4,280.57 L675.9,280.62 L676.4,280.69 L676.9,280.76 L677.4,280.84 L677.9,280.93 L678.4,281.03 L678.6,281.07" fill="none" stroke="#4373c2" stroke-width="1.3"/>
<path d="M34.4,448.5 L35.4,448.8 L36.4,449.1 L37.4,449.5 L38.4,449.8 L39.4,450.1 L40.4,450.5 L41.4,450.8 L42.4,451.2 L43.4,451.5 L44.4,451.8 L45.4,452.1 L46.4,452.4 L47.4,452.7 L48.4,453.0 L49.4,453.3 L50.4,453.6 L51.4,453.8 L52.4,454.0 L53.4,454.2 L54.4,454.4 L55.4,454.5 L56.4,454.6 L57.4,454.7 L58.4,454.8 L59.4,454.8 L60.4,454.8 L61.4,454.7 L62.4,454.6 L63.4,454.5 L64.4,454.3 L65.4,454.1 L66.4,453.8 L67.4,453.4 L68.4,453.1 L69.4,452.6 L70.4,452.2 L71.4,451.7 L72.4,451.2 L73.4,450.7 L74.4,450.2 L75.4,449.6 L76.4,449.0 L77.4,448.5 L78.4,447.9 L79.4,447.3 L80.4,446.7 L81.4,446.1 L82.4,445.5 L83.4,445.0 L84.4,444.4 L85.4,443.9 L86.4,443.4 L87.4,442.9 L88.4,442.4 L89.4,441.9 L90.4,441.5 L91.4,441.0 L92.4,440.6 L93.4,440.2 L94.4,439.9 L95.4,439.5 L96.4,439.2 L97.4,438.9 L98.4,438.6 L99.4,438.3 L100.4,438.0 L101.4,437.8 L102.4,437.6 L103.4,437.4 L104.4,437.3 L105.4,437.1 L106.4,437.0 L107.4,436.9 L108.4,436.8 L109.4,436.8 L110.4,436.7 L111.4,436.7 L112.4,436.7 L113.4,436.7 L114.4,436.7 L115.4,436.8 L116.4,436.9 L117.4,436.9 L118.4,437.0 L119.4,437.1 L120.4,437.2 L121.4,437.4 L122.4,437.5 L123.4,437.7 L124.4,437.8 L125.4,438.0 L126.4,438.2 L127.4,438.3 L128.4,438.5 L129.4,438.7 L130.4,438.9 L131.4,439.1 L132.4,439.3 L133.4,439.5 L134.4,439.7 L135.4,439.9 L136.4,440.1 L137.4,440.3 L138.4,440.5 L139.4,440.7 L140.4,440.9 L141.4,441.1 L142.4,441.3 L143.4,441.5 L144.4,441.6 L145.4,441.8 L146.4,442.0 L147.4,442.1 L148.4,442.2 L149.4,442.4 L150.4,442.5 L151.4,442.6 L152.4,442.7 L153.4,442.9 L154.4,443.0 L155.4,443.1 L156.4,443.2 L157.4,443.2 L158.4,443.3 L159.4,443.4 L160.4,443.5 L161.4,443.6 L162.4,443.6 L163.4,443.7 L164.4,443.8 L165.4,443.9 L166.4,443.9 L167.4,444.0 L168.4,444.0 L169.4,444.1 L170.4,444.1 L171.4,444.2 L172.4,444.3 L173.4,444.3 L174.4,444.3 L175.4,444.4 L176.4,444.4 L177.4,444.4 L178.4,444.4 L179.4,444.5 L180.4,444.5 L181.4,444.5 L182.4,444.5 L183.4,444.5 L184.4,444.5 L185.4,444.6 L186.4,444.6 L187.4,444.6 L188.4,444.6 L189.4,444.6 L190.4,444.7 L191.4,444.7 L192.4,444.7 L193.4,444.8 L194.4,444.8 L195.4,444.9 L196.4,444.9 L197.4,445.0 L198.4,445.0 L199.4,445.1 L200.4,445.2 L201.4,445.3 L202.4,445.3 L203.4,445.4 L204.4,445.5 L205.4,445.6 L206.4,445.7 L207.4,445.8 L208.4,445.9 L209.4,446.0 L210.4,446.1 L211.4,446.2 L212.4,446.3 L213.4,446.4 L214.4,446.6 L215.4,446.7 L216.4,446.8 L217.4,446.9 L218.4,447.0 L219.4,447.1 L220.4,447.2 L221.4,447.3 L222.4,447.3 L223.4,447.4 L224.4,447.5 L225.4,447.6 L226.4,447.6 L227.4,447.7 L228.4,447.7 L229.4,447.7 L230.4,447.8 L231.4,447.8 L232.4,447.8 L233.4,447.8 L234.4,447.8 L235.4,447.8 L236.4,447.8 L237.4,447.8 L238.4,447.7 L239.4,447.7 L240.4,447.7 L241.4,447.6 L242.4,447.6 L243.4,447.5 L244.4,447.4 L245.4,447.4 L246.4,447.3 L247.4,447.2 L248.4,447.1 L249.4,447.1 L250.4,447.0 L251.4,446.9 L252.4,446.8 L253.4,446.7 L254.4,446.6 L255.4,446.5 L256.4,446.4 L257.4,446.2 L258.4,446.1 L259.4,446.0 L260.4,445.9 L261.4,445.8 L262.4,445.7 L263.4,445.6 L264.4,445.5 L265.4,445.3 L266.4,445.2 L267.4,445.1 L268.4,445.0 L269.4,444.9 L270.4,444.8 L271.4,444.7 L272.4,444.7 L273.4,444.6 L274.4,444.5 L275.4,444.4 L276.4,444.4 L277.4,444.3 L278.4,444.2 L279.4,444.2 L280.4,444.1 L281.4,444.1 L282.4,444.0 L283.4,444.0 L284.4,444.0 L285.4,443.9 L286.4,443.9 L287.4,443.9 L288.4,443.9 L289.4,443.8 L290.4,443.8 L291.4,443.8 L292.4,443.8 L293.4,443.8 L294.4,443.8 L295.4,443.8 L296.4,443.8 L297.4,443.8 L298.4,443.8 L299.4,443.7 L300.4,443.7 L301.4,443.7 L302.4,443.7 L303.4,443.7 L304.4,443.7 L305.4,443.7 L306.4,443.7 L307.4,443.6 L308.4,443.6 L309.4,443.6 L310.4,443.6 L311.4,443.5 L312.4,443.5 L313.4,443.5 L314.4,443.4 L315.4,443.4 L316.4,443.3 L317.4,443.3 L318.4,443.2 L319.4,443.2 L320.4,443.1 L321.4,443.1 L322.4,443.0 L323.4,442.9 L324.4,442.9 L325.4,442.8 L326.4,442.7 L327.4,442.6 L328.4,442.5 L329.4,442.4 L330.4,442.3 L331.4,442.2 L332.4,442.1 L333.4,441.9 L334.4,441.8 L335.4,441.7 L336.4,441.5 L337.4,441.4 L338.4,441.3 L339.4,441.1 L340.4,441.0 L341.4,440.8 L342.4,440.7 L343.4,440.5 L344.4,440.3 L345.4,440.2 L346.4,440.0 L347.4,439.9 L348.4,439.7 L349.4,439.5 L350.4,439.4 L351.4,439.2 L352.4,439.0 L353.4,438.9 L354.4,438.7 L355.4,438.5 L356.4,438.4 L357.4,438.2 L358.4,438.0 L359.4,437.9 L360.4,437.7 L361.4,437.6 L362.4,437.4 L363.4,437.2 L364.4,437.1 L365.4,436.9 L366.4,436.8 L367.4,436.6 L368.4,436.5 L369.4,436.4 L370.4,436.2 L371.4,436.1 L372.4,436.0 L373.4,435.9 L374.4,435.8 L375.4,435.7 L376.4,435.6 L377.4,435.5 L378.4,435.5 L379.4,435.5 L380.4,435.4 L381.4,435.4 L382.4,435.5 L383.4,435.5 L384.4,435.6 L385.4,435.7 L386.4,435.8 L387.4,435.9 L388.4,436.1 L389.4,436.3 L390.4,436.5 L391.4,436.8 L392.4,437.1 L393.4,437.4 L394.4,437.7 L395.4,438.0 L396.4,438.4 L397.4,438.8 L398.4,439.2 L399.4,439.7 L400.4,440.2 L401.4,440.7 L402.4,441.2 L403.4,441.7 L404.4,442.2 L405.4,442.8 L406.4,443.4 L407.4,444.0 L408.4,444.7 L409.4,445.4 L410.4,446.1 L411.4,446.9 L412.4,447.8 L413.4,448.6 L414.4,449.4 L415.4,450.2 L416.4,451.0 L417.4,451.8 L418.4,452.6 L419.4,453.4 L420.4,454.2 L421.4,455.0 L422.4,455.8 L423.4,456.6 L424.4,457.3 L425.4,458.1 L426.4,458.8 L427.4,459.6 L428.4,460.3 L429.4,460.9 L430.4,461.6 L431.4,462.2 L432.4,462.8 L433.4,463.3 L434.4,463.8 L435.4,464.3 L436.4,464.7 L437.4,465.1 L438.4,465.4 L439.4,465.7 L440.4,465.9 L441.4,466.0 L442.4,466.1 L443.4,466.2 L444.4,466.2 L445.4,466.1 L446.4,465.9 L447.4,465.6 L448.4,465.3 L449.4,464.9 L450.4,464.5 L451.4,464.0 L452.4,463.3 L453.4,462.7 L454.4,461.9 L455.4,461.1 L456.4,460.2 L457.4,459.3 L458.4,458.3 L459.4,457.2 L460.4,456.0 L461.4,454.8 L462.4,453.6 L463.4,452.3 L464.4,451.0 L465.4,449.6 L466.4,448.2 L467.4,446.8 L468.4,445.4 L469.4,444.1 L470.4,442.7 L471.4,441.3 L472.4,440.0 L473.4,438.7 L474.4,437.4 L475.4,436.2 L476.4,435.0 L477.4,433.9 L478.4,432.8 L479.4,431.8 L480.4,430.8 L481.4,429.9 L482.4,429.0 L483.4,428.2 L484.4,427.4 L485.4,426.6 L486.4,425.9 L487.4,425.3 L488.4,424.7 L489.4,424.1 L490.4,423.6 L491.4,423.1 L492.4,422.6 L493.4,422.2 L494.4,421.8 L495.4,421.5 L496.4,421.2 L497.4,420.9 L498.4,420.7 L499.4,420.5 L500.4,420.3 L501.4,420.2 L502.4,420.1 L503.4,420.0 L504.4,420.0 L505.4,420.0 L506.4,420.0 L507.4,420.1 L508.4,420.2 L509.4,420.3 L510.4,420.5 L511.4,420.7 L512.4,420.9 L513.4,421.1 L514.4,421.4 L515.4,421.7 L516.4,422.0 L517.4,422.3 L518.4,422.7 L519.4,423.1 L520.4,423.5 L521.4,424.0 L522.4,424.4 L523.4,424.9 L524.4,425.4 L525.4,425.9 L526.4,426.5 L527.4,427.1 L528.4,427.6 L529.4,428.3 L530.4,428.9 L531.4,429.6 L532.4,430.2 L533.4,430.9 L534.4,431.6 L535.4,432.4 L536.4,433.1 L537.4,433.9 L538.4,434.7 L539.4,435.5 L540.4,436.3 L541.4,437.2 L542.4,438.0 L543.4,438.9 L544.4,439.8 L545.4,440.7 L546.4,441.6 L547.4,442.5 L548.4,443.5 L549.4,444.4 L550.4,445.4 L551.4,446.4 L552.4,447.3 L553.4,448.3 L554.4,449.3 L555.4,450.3 L556.4,451.2 L557.4,452.2 L558.4,453.2 L559.4,454.1 L560.4,455.1 L561.4,456.0 L562.4,456.9 L563.4,457.8 L564.4,458.7 L565.4,459.6 L566.4,460.5 L567.4,461.3 L568.4,462.1 L569.4,462.9 L570.4,463.7 L571.4,464.5 L572.4,465.2 L573.4,466.0 L574.4,466.7 L575.4,467.4 L576.4,468.1 L577.4,468.8 L578.4,469.5 L579.4,470.1 L580.4,470.8 L581.4,471.4 L582.4,472.0 L583.4,472.7 L584.4,473.3 L585.4,473.9 L586.4,474.5 L587.4,475.0 L588.4,475.6 L589.4,476.2 L590.4,476.7 L591.4,477.2 L592.4,477.7 L593.4,478.2 L594.4,478.6 L595.4,479.1 L596.4,479.5 L597.4,479.8 L598.4,480.2 L599.4,480.5 L600.4,480.8 L601.4,481.0 L602.4,481.2 L603.4,481.4 L604.4,481.5 L605.4,481.6 L606.4,481.6 L607.4,481.6 L608.4,481.5 L609.4,481.4 L610.4,481.2 L611.4,481.0 L612.4,480.7 L613.4,480.4 L614.4,480.0 L615.4,479.5 L616.4,479.0 L617.4,478.5 L618.4,477.9 L619.4,477.3 L620.4,476.6 L621.4,475.9 L622.4,475.2 L623.4,474.4 L624.4,473.7 L625.4,472.8 L626.4,472.0 L627.4,471.1 L628.4,470.3 L629.4,469.4 L630.4,468.5 L631.4,467.5 L632.4,466.6 L633.4,465.7 L634.4,464.8 L635.4,463.8 L636.4,462.9 L637.4,462.0 L638.4,461.0 L639.4,460.1 L640.4,459.2 L641.4,458.4 L642.4,457.5 L643.4,456.6 L644.4,455.8 L645.4,455.0 L646.4,454.3 L647.4,453.5 L648.4,452.8 L649.4,452.1 L650.4,451.5 L651.4,450.9 L652.4,450.3 L653.4,449.8 L654.4,449.3 L655.4,448.8 L656.4,448.4 L657.4,448.0 L658.4,447.6 L659.4,447.3 L660.4,447.0 L661.4,446.7 L662.4,446.4 L663.4,446.2 L664.4,446.1 L665.4,445.9 L666.4,445.8 L667.4,445.7 L668.4,445.7 L669.4,445.7 L670.4,445.7 L671.4,445.7 L672.4,445.8 L673.4,445.9 L674.4,446.1 L675.4,446.2 L676.4,446.4 L677.4,446.7 L678.4,446.9 L678.6,447.0 L678.6,455.0 L678.4,454.9 L677.4,454.7 L676.4,454.4 L675.4,454.2 L674.4,454.1 L673.4,453.9 L672.4,453.8 L671.4,453.7 L670.4,453.7 L669.4,453.7 L668.4,453.7 L667.4,453.7 L666.4,453.8 L665.4,453.9 L664.4,454.1 L663.4,454.2 L662.4,454.4 L661.4,454.7 L660.4,455.0 L659.4,455.3 L658.4,455.6 L657.4,456.0 L656.4,456.4 L655.4,456.8 L654.4,457.3 L653.4,457.8 L652.4,458.3 L651.4,458.9 L650.4,459.5 L649.4,460.1 L648.4,460.8 L647.4,461.5 L646.4,462.3 L645.4,463.0 L644.4,463.8 L643.4,464.6 L642.4,465.5 L641.4,466.4 L640.4,467.2 L639.4,468.1 L638.4,469.0 L637.4,470.0 L636.4,470.9 L635.4,471.8 L634.4,472.8 L633.4,473.7 L632.4,474.6 L631.4,475.5 L630.4,476.5 L629.4,477.4 L628.4,478.3 L627.4,479.1 L626.4,480.0 L625.4,480.8 L624.4,481.7 L623.4,482.4 L622.4,483.2 L621.4,483.9 L620.4,484.6 L619.4,485.3 L618.4,485.9 L617.4,486.5 L616.4,487.0 L615.4,487.5 L614.4,488.0 L613.4,488.4 L612.4,488.7 L611.4,489.0 L610.4,489.2 L609.4,489.4 L608.4,489.5 L607.4,489.6 L606.4,489.6 L605.4,489.6 L604.4,489.5 L603.4,489.4 L602.4,489.2 L601.4,489.0 L600.4,488.8 L599.4,488.5 L598.4,488.2 L597.4,487.8 L596.4,487.5 L595.4,487.1 L594.4,486.6 L593.4,486.2 L592.4,485.7 L591.4,485.2 L590.4,484.7 L589.4,484.2 L588.4,483.6 L587.4,483.0 L586.4,482.5 L585.4,481.9 L584.4,481.3 L583.4,480.7 L582.4,480.0 L581.4,479.4 L580.4,478.8 L579.4,478.1 L578.4,477.5 L577.4,476.8 L576.4,476.1 L575.4,475.4 L574.4,474.7 L573.4,474.0 L572.4,473.2 L571.4,472.5 L570.4,471.7 L569.4,470.9 L568.4,470.1 L567.4,469.3 L566.4,468.5 L565.4,467.6 L564.4,466.7 L563.4,465.8 L562.4,464.9 L561.4,464.0 L560.4,463.1 L559.4,462.1 L558.4,461.2 L557.4,460.2 L556.4,459.2 L555.4,458.3 L554.4,457.3 L553.4,456.3 L552.4,455.3 L551.4,454.4 L550.4,453.4 L549.4,452.4 L548.4,451.5 L547.4,450.5 L546.4,449.6 L545.4,448.7 L544.4,447.8 L543.4,446.9 L542.4,446.0 L541.4,445.2 L540.4,444.3 L539.4,443.5 L538.4,442.7 L537.4,441.9 L536.4,441.1 L535.4,440.4 L534.4,439.6 L533.4,438.9 L532.4,438.2 L531.4,437.6 L530.4,436.9 L529.4,436.3 L528.4,435.6 L527.4,435.1 L526.4,434.5 L525.4,433.9 L524.4,433.4 L523.4,432.9 L522.4,432.4 L521.4,432.0 L520.4,431.5 L519.4,431.1 L518.4,430.7 L517.4,430.3 L516.4,430.0 L515.4,429.7 L514.4,429.4 L513.4,429.1 L512.4,428.9 L511.4,428.7 L510.4,428.5 L509.4,428.3 L508.4,428.2 L507.4,428.1 L506.4,428.0 L505.4,428.0 L504.4,428.0 L503.4,428.0 L502.4,428.1 L501.4,428.2 L500.4,428.3 L499.4,428.5 L498.4,428.7 L497.4,428.9 L496.4,429.2 L495.4,429.5 L494.4,429.9 L493.4,430.3 L492.4,430.7 L491.4,431.2 L490.4,431.7 L489.4,432.3 L488.4,432.9 L487.4,433.5 L486.4,434.2 L485.4,435.0 L484.4,435.7 L483.4,436.6 L482.4,437.4 L481.4,438.4 L480.4,439.3 L479.4,440.4 L478.4,441.4 L477.4,442.5 L476.4,443.7 L475.4,444.9 L474.4,446.2 L473.4,447.5 L472.4,448.9 L471.4,450.2 L470.4,451.7 L469.4,453.1 L468.4,454.5 L467.4,456.0 L466.4,457.4 L465.4,458.8 L464.4,460.3 L463.4,461.6 L462.4,463.0 L461.4,464.3 L460.4,465.6 L459.4,466.8 L458.4,467.9 L457.4,469.0 L456.4,470.0 L455.4,471.0 L454.4,471.9 L453.4,472.7 L452.4,473.4 L451.4,474.1 L450.4,474.7 L449.4,475.2 L448.4,475.7 L447.4,476.1 L446.4,476.4 L445.4,476.7 L444.4,476.9 L443.4,477.0 L442.4,477.0 L441.4,477.0 L440.4,476.9 L439.4,476.8 L438.4,476.6 L437.4,476.4 L436.4,476.1 L435.4,475.8 L434.4,475.4 L433.4,475.0 L432.4,474.5 L431.4,474.0 L430.4,473.5 L429.4,473.0 L428.4,472.4 L427.4,471.8 L426.4,471.2 L425.4,470.6 L424.4,470.0 L423.4,469.3 L422.4,468.7 L421.4,468.0 L420.4,467.3 L419.4,466.7 L418.4,466.0 L417.4,465.4 L416.4,464.8 L415.4,464.1 L414.4,463.6 L413.4,463.0 L412.4,462.5 L411.4,462.1 L410.4,461.6 L409.4,461.1 L408.4,460.6 L407.4,460.1 L406.4,459.5 L405.4,459.0 L404.4,458.5 L403.4,458.0 L402.4,457.5 L401.4,457.1 L400.4,456.6 L399.4,456.2 L398.4,455.8 L397.4,455.4 L396.4,455.1 L395.4,454.7 L394.4,454.4 L393.4,454.1 L392.4,453.8 L391.4,453.6 L390.4,453.4 L389.4,453.2 L388.4,453.0 L387.4,452.8 L386.4,452.7 L385.4,452.6 L384.4,452.5 L383.4,452.5 L382.4,452.4 L381.4,452.4 L380.4,452.4 L379.4,452.5 L378.4,452.5 L377.4,452.5 L376.4,452.6 L375.4,452.7 L374.4,452.8 L373.4,452.9 L372.4,453.0 L371.4,453.1 L370.4,453.2 L369.4,453.4 L368.4,453.5 L367.4,453.6 L366.4,453.8 L365.4,453.9 L364.4,454.1 L363.4,454.2 L362.4,454.4 L361.4,454.6 L360.4,454.7 L359.4,454.9 L358.4,455.0 L357.4,455.2 L356.4,455.4 L355.4,455.5 L354.4,455.7 L353.4,455.9 L352.4,456.0 L351.4,456.2 L350.4,456.4 L349.4,456.5 L348.4,456.7 L347.4,456.9 L346.4,457.0 L345.4,457.2 L344.4,457.3 L343.4,457.5 L342.4,457.7 L341.4,457.8 L340.4,458.0 L339.4,458.1 L338.4,458.3 L337.4,458.4 L336.4,458.5 L335.4,458.7 L334.4,458.8 L333.4,458.9 L332.4,459.1 L331.4,459.2 L330.4,459.3 L329.4,459.4 L328.4,459.5 L327.4,459.6 L326.4,459.7 L325.4,459.8 L324.4,459.9 L323.4,459.9 L322.4,460.0 L321.4,460.1 L320.4,460.1 L319.4,460.2 L318.4,460.2 L317.4,460.3 L316.4,460.3 L315.4,460.4 L314.4,460.4 L313.4,460.5 L312.4,460.5 L311.4,460.5 L310.4,460.6 L309.4,460.6 L308.4,460.6 L307.4,460.6 L306.4,460.7 L305.4,460.7 L304.4,460.7 L303.4,460.7 L302.4,460.7 L301.4,460.7 L300.4,460.7 L299.4,460.7 L298.4,460.8 L297.4,460.8 L296.4,460.8 L295.4,460.8 L294.4,460.8 L293.4,460.8 L292.4,460.8 L291.4,460.8 L290.4,460.8 L289.4,460.8 L288.4,460.8 L287.4,460.8 L286.4,460.8 L285.4,460.8 L284.4,460.8 L283.4,460.8 L282.4,460.8 L281.4,460.8 L280.4,460.8 L279.4,460.9 L278.4,460.9 L277.4,460.9 L276.4,460.9 L275.4,460.9 L274.4,460.9 L273.4,460.9 L272.4,460.9 L271.4,460.9 L270.4,461.0 L269.4,461.0 L268.4,461.0 L267.4,461.1 L266.4,461.1 L265.4,461.1 L264.4,461.2 L263.4,461.2 L262.4,461.3 L261.4,461.3 L260.4,461.4 L259.4,461.4 L258.4,461.5 L257.4,461.5 L256.4,461.6 L255.4,461.6 L254.4,461.7 L253.4,461.8 L252.4,461.8 L251.4,461.9 L250.4,461.9 L249.4,462.0 L248.4,462.1 L247.4,462.1 L246.4,462.2 L245.4,462.2 L244.4,462.3 L243.4,462.3 L242.4,462.3 L241.4,462.4 L240.4,462.4 L239.4,462.4 L238.4,462.4 L237.4,462.4 L236.4,462.4 L235.4,462.4 L234.4,462.4 L233.4,462.4 L232.4,462.4 L231.4,462.4 L230.4,462.3 L229.4,462.3 L228.4,462.2 L227.4,462.1 L226.4,462.1 L225.4,462.0 L224.4,461.9 L223.4,461.8 L222.4,461.7 L221.4,461.6 L220.4,461.5 L219.4,461.4 L218.4,461.2 L217.4,461.1 L216.4,461.0 L215.4,460.8 L214.4,460.7 L213.4,460.5 L212.4,460.4 L211.4,460.2 L210.4,460.1 L209.4,459.9 L208.4,459.7 L207.4,459.6 L206.4,459.4 L205.4,459.2 L204.4,459.0 L203.4,458.8 L202.4,458.6 L201.4,458.4 L200.4,458.2 L199.4,458.0 L198.4,457.7 L197.4,457.5 L196.4,457.3 L195.4,457.1 L194.4,456.9 L193.4,456.7 L192.4,456.5 L191.4,456.3 L190.4,456.1 L189.4,455.9 L188.4,455.7 L187.4,455.5 L186.4,455.3 L185.4,455.2 L184.4,455.0 L183.4,454.8 L182.4,454.7 L181.4,454.5 L180.4,454.4 L179.4,454.2 L178.4,454.1 L177.4,453.9 L176.4,453.8 L175.4,453.7 L174.4,453.6 L173.4,453.4 L172.4,453.3 L171.4,453.2 L170.4,453.1 L169.4,453.0 L168.4,452.9 L167.4,452.8 L166.4,452.7 L165.4,452.6 L164.4,452.5 L163.4,452.4 L162.4,452.3 L161.4,452.2 L160.4,452.0 L159.4,451.9 L158.4,451.8 L157.4,451.7 L156.4,451.5 L155.4,451.4 L154.4,451.3 L153.4,451.1 L152.4,451.0 L151.4,450.8 L150.4,450.7 L149.4,450.5 L148.4,450.3 L147.4,450.2 L146.4,450.0 L145.4,449.8 L144.4,449.6 L143.4,449.4 L142.4,449.2 L141.4,449.0 L140.4,448.8 L139.4,448.5 L138.4,448.3 L137.4,448.1 L136.4,447.9 L135.4,447.6 L134.4,447.4 L133.4,447.2 L132.4,447.0 L131.4,446.7 L130.4,446.5 L129.4,446.3 L128.4,446.1 L127.4,445.9 L126.4,445.7 L125.4,445.5 L124.4,445.3 L123.4,445.2 L122.4,445.0 L121.4,444.8 L120.4,444.7 L119.4,444.6 L118.4,444.5 L117.4,444.4 L116.4,444.3 L115.4,444.2 L114.4,444.2 L113.4,444.1 L112.4,444.1 L111.4,444.1 L110.4,444.1 L109.4,444.2 L108.4,444.2 L107.4,444.3 L106.4,444.4 L105.4,444.6 L104.4,444.8 L103.4,444.9 L102.4,445.2 L101.4,445.4 L100.4,445.7 L99.4,446.0 L98.4,446.3 L97.4,446.7 L96.4,447.0 L95.4,447.4 L94.4,447.9 L93.4,448.3 L92.4,448.8 L91.4,449.3 L90.4,449.8 L89.4,450.3 L88.4,450.8 L87.4,451.4 L86.4,452.0 L85.4,452.6 L84.4,453.2 L83.4,453.8 L82.4,454.4 L81.4,455.1 L80.4,455.8 L79.4,456.4 L78.4,457.1 L77.4,457.7 L76.4,458.4 L75.4,459.0 L74.4,459.6 L73.4,460.3 L72.4,460.8 L71.4,461.4 L70.4,461.9 L69.4,462.4 L68.4,462.9 L67.4,463.3 L66.4,463.6 L65.4,464.0 L64.4,464.2 L63.4,464.5 L62.4,464.6 L61.4,464.7 L60.4,464.8 L59.4,464.8 L58.4,464.8 L57.4,464.7 L56.4,464.5 L55.4,464.3 L54.4,464.1 L53.4,463.8 L52.4,463.5 L51.4,463.2 L50.4,462.8 L49.4,462.4 L48.4,462.0 L47.4,461.5 L46.4,461.1 L45.4,460.6 L44.4,460.1 L43.4,459.5 L42.4,459.0 L41.4,458.5 L40.4,457.9 L39.4,457.3 L38.4,456.8 L37.4,456.2 L36.4,455.7 L35.4,455.1 L34.4,454.6 Z" fill="#3f6fbf" fill-opacity="0.2"/>
<path d="M34.4,451.0 L35.4,451.1 L36.4,451.1 L37.4,451.2 L38.4,451.2 L39.4,451.3 L40.4,451.3 L41.4,451.4 L42.4,451.4 L43.4,451.5 L44.4,451.5 L45.4,451.5 L46.4,451.6 L47.4,451.6 L48.4,451.7 L49.4,451.7 L50.4,451.7 L51.4,451.8 L52.4,451.8 L53.4,451.8 L54.4,451.9 L55.4,451.9 L56.4,451.9 L57.4,452.0 L58.4,452.0 L59.4,452.0 L60.4,452.0 L61.4,452.1 L62.4,452.1 L63.4,452.1 L64.4,452.1 L65.4,452.2 L66.4,452.2 L67.4,452.2 L68.4,452.2 L69.4,452.2 L70.4,452.3 L71.4,452.3 L72.4,452.3 L73.4,452.3 L74.4,452.3 L75.4,452.3 L76.4,452.4 L77.4,452.4 L78.4,452.4 L79.4,452.4 L80.4,452.4 L81.4,452.4 L82.4,452.4 L83.4,452.4 L84.4,452.4 L85.4,452.5 L86.4,452.5 L87.4,452.5 L88.4,452.5 L89.4,452.5 L90.4,452.5 L91.4,452.5 L92.4,452.5 L93.4,452.5 L94.4,452.5 L95.4,452.5 L96.4,452.5 L97.4,452.5 L98.4,452.5 L99.4,452.5 L100.4,452.5 L101.4,452.5 L102.4,452.5 L103.4,452.5 L104.4,452.5 L105.4,452.5 L106.4,452.5 L107.4,452.5 L108.4,452.5 L109.4,452.5 L110.4,452.5 L111.4,452.5 L112.4,452.5 L113.4,452.5 L114.4,452.5 L115.4,452.5 L116.4,452.5 L117.4,452.5 L118.4,452.5 L119.4,452.5 L120.4,452.5 L121.4,452.5 L122.4,452.5 L123.4,452.5 L124.4,452.5 L125.4,452.5 L126.4,452.5 L127.4,452.5 L128.4,452.5 L129.4,452.5 L130.4,452.5 L131.4,452.5 L132.4,452.5 L133.4,452.5 L134.4,452.5 L135.4,452.5 L136.4,452.5 L137.4,452.5 L138.4,452.5 L139.4,452.5 L140.4,452.5 L141.4,452.5 L142.4,452.5 L143.4,452.5 L144.4,452.5 L145.4,452.5 L146.4,452.5 L147.4,452.5 L148.4,452.5 L149.4,452.5 L150.4,452.5 L151.4,452.5 L152.4,452.5 L153.4,452.5 L154.4,452.5 L155.4,452.5 L156.4,452.5 L157.4,452.5 L158.4,452.5 L159.4,452.5 L160.4,452.5 L161.4,452.5 L162.4,452.5 L163.4,452.5 L164.4,452.5 L165.4,452.5 L166.4,452.5 L167.4,452.6 L168.4,452.6 L169.4,452.6 L170.4,452.6 L171.4,452.6 L172.4,452.6 L173.4,452.6 L174.4,452.6 L175.4,452.6 L176.4,452.7 L177.4,452.7 L178.4,452.7 L179.4,452.7 L180.4,452.7 L181.4,452.7 L182.4,452.8 L183.4,452.8 L184.4,452.8 L185.4,452.8 L186.4,452.8 L187.4,452.9 L188.4,452.9 L189.4,452.9 L190.4,452.9 L191.4,453.0 L192.4,453.0 L193.4,453.0 L194.4,453.0 L195.4,453.1 L196.4,453.1 L197.4,453.1 L198.4,453.2 L199.4,453.2 L200.4,453.2 L201.4,453.3 L202.4,453.3 L203.4,453.3 L204.4,453.4 L205.4,453.4 L206.4,453.5 L207.4,453.5 L208.4,453.5 L209.4,453.6 L210.4,453.6 L211.4,453.7 L212.4,453.7 L213.4,453.8 L214.4,453.8 L215.4,453.9 L216.4,453.9 L217.4,454.0 L218.4,454.0 L219.4,454.1 L220.4,454.1 L221.4,454.2 L222.4,454.3 L223.4,454.3 L224.4,454.4 L225.4,454.5 L226.4,454.5 L227.4,454.6 L228.4,454.6 L229.4,454.7 L230.4,454.8 L231.4,454.9 L232.4,454.9 L233.4,455.0 L234.4,455.1 L235.4,455.2 L236.4,455.2 L237.4,455.3 L238.4,455.4 L239.4,455.5 L240.4,455.6 L241.4,455.6 L242.4,455.7 L243.4,455.8 L244.4,455.9 L245.4,456.0 L246.4,456.1 L247.4,456.2 L248.4,456.2 L249.4,456.3 L250.4,456.4 L251.4,456.5 L252.4,456.6 L253.4,456.7 L254.4,456.8 L255.4,456.9 L256.4,457.0 L257.4,457.1 L258.4,457.2 L259.4,457.3 L260.4,457.4 L261.4,457.4 L262.4,457.5 L263.4,457.6 L264.4,457.7 L265.4,457.8 L266.4,457.9 L267.4,458.0 L268.4,458.1 L269.4,458.2 L270.4,458.3 L271.4,458.4 L272.4,458.5 L273.4,458.6 L274.4,458.7 L275.4,458.8 L276.4,458.8 L277.4,458.9 L278.4,459.0 L279.4,459.1 L280.4,459.2 L281.4,459.3 L282.4,459.4 L283.4,459.5 L284.4,459.5 L285.4,459.6 L286.4,459.7 L287.4,459.8 L288.4,459.9 L289.4,460.0 L290.4,460.0 L291.4,460.1 L292.4,460.2 L293.4,460.3 L294.4,460.3 L295.4,460.4 L296.4,460.5 L297.4,460.5 L298.4,460.6 L299.4,460.7 L300.4,460.7 L301.4,460.8 L302.4,460.9 L303.4,460.9 L304.4,461.0 L305.4,461.0 L306.4,461.1 L307.4,461.2 L308.4,461.2 L309.4,461.3 L310.4,461.3 L311.4,461.3 L312.4,461.4 L313.4,461.4 L314.4,461.5 L315.4,461.5 L316.4,461.5 L317.4,461.6 L318.4,461.6 L319.4,461.6 L320.4,461.7 L321.4,461.7 L322.4,461.7 L323.4,461.7 L324.4,461.8 L325.4,461.8 L326.4,461.8 L327.4,461.8 L328.4,461.8 L329.4,461.8 L330.4,461.8 L331.4,461.9 L332.4,461.9 L333.4,461.9 L334.4,461.9 L335.4,461.9 L336.4,461.9 L337.4,461.9 L338.4,461.9 L339.4,461.9 L340.4,461.9 L341.4,461.9 L342.4,461.9 L343.4,461.9 L344.4,461.8 L345.4,461.8 L346.4,461.8 L347.4,461.8 L348.4,461.8 L349.4,461.8 L350.4,461.8 L351.4,461.7 L352.4,461.7 L353.4,461.7 L354.4,461.7 L355.4,461.6 L356.4,461.6 L357.4,461.6 L358.4,461.6 L359.4,461.5 L360.4,461.5 L361.4,461.5 L362.4,461.4 L363.4,461.4 L364.4,461.4 L365.4,461.3 L366.4,461.3 L367.4,461.3 L368.4,461.2 L369.4,461.2 L370.4,461.1 L371.4,461.1 L372.4,461.0 L373.4,461.0 L374.4,461.0 L375.4,460.9 L376.4,460.9 L377.4,460.8 L378.4,460.8 L379.4,460.7 L380.4,460.7 L381.4,460.6 L382.4,460.6 L383.4,460.5 L384.4,460.5 L385.4,460.4 L386.4,460.3 L387.4,460.3 L388.4,460.2 L389.4,460.2 L390.4,460.1 L391.4,460.1 L392.4,460.0 L393.4,459.9 L394.4,459.9 L395.4,459.8 L396.4,459.7 L397.4,459.7 L398.4,459.6 L399.4,459.6 L400.4,459.5 L401.4,459.4 L402.4,459.3 L403.4,459.3 L404.4,459.2 L405.4,459.1 L406.4,459.1 L407.4,459.0 L408.4,458.9 L409.4,458.8 L410.4,458.8 L411.4,458.7 L412.4,458.6 L413.4,458.5 L414.4,458.5 L415.4,458.4 L416.4,458.3 L417.4,458.2 L418.4,458.1 L419.4,458.0 L420.4,458.0 L421.4,457.9 L422.4,457.8 L423.4,457.7 L424.4,457.6 L425.4,457.5 L426.4,457.4 L427.4,457.3 L428.4,457.2 L429.4,457.1 L430.4,457.0 L431.4,456.9 L432.4,456.8 L433.4,456.7 L434.4,456.6 L435.4,456.5 L436.4,456.4 L437.4,456.3 L438.4,456.2 L439.4,456.1 L440.4,456.0 L441.4,455.9 L442.4,455.8 L443.4,455.7 L444.4,455.6 L445.4,455.5 L446.4,455.4 L447.4,455.3 L448.4,455.2 L449.4,455.1 L450.4,454.9 L451.4,454.8 L452.4,454.7 L453.4,454.6 L454.4,454.5 L455.4,454.4 L456.4,454.3 L457.4,454.2 L458.4,454.1 L459.4,454.0 L460.4,453.9 L461.4,453.8 L462.4,453.7 L463.4,453.5 L464.4,453.4 L465.4,453.3 L466.4,453.2 L467.4,453.1 L468.4,453.0 L469.4,452.9 L470.4,452.8 L471.4,452.7 L472.4,452.6 L473.4,452.5 L474.4,452.4 L475.4,452.3 L476.4,452.2 L477.4,452.1 L478.4,452.0 L479.4,451.9 L480.4,451.9 L481.4,451.8 L482.4,451.7 L483.4,451.6 L484.4,451.5 L485.4,451.4 L486.4,451.3 L487.4,451.2 L488.4,451.1 L489.4,451.0 L490.4,451.0 L491.4,450.9 L492.4,450.8 L493.4,450.7 L494.4,450.6 L495.4,450.5 L496.4,450.5 L497.4,450.4 L498.4,450.3 L499.4,450.2 L500.4,450.2 L501.4,450.1 L502.4,450.0 L503.4,449.9 L504.4,449.9 L505.4,449.8 L506.4,449.7 L507.4,449.6 L508.4,449.6 L509.4,449.5 L510.4,449.4 L511.4,449.4 L512.4,449.3 L513.4,449.2 L514.4,449.2 L515.4,449.1 L516.4,449.1 L517.4,449.0 L518.4,448.9 L519.4,448.9 L520.4,448.8 L521.4,448.8 L522.4,448.7 L523.4,448.7 L524.4,448.6 L525.4,448.6 L526.4,448.5 L527.4,448.5 L528.4,448.4 L529.4,448.4 L530.4,448.3 L531.4,448.3 L532.4,448.2 L533.4,448.2 L534.4,448.2 L535.4,448.1 L536.4,448.1 L537.4,448.0 L538.4,448.0 L539.4,448.0 L540.4,447.9 L541.4,447.9 L542.4,447.9 L543.4,447.8 L544.4,447.8 L545.4,447.8 L546.4,447.8 L547.4,447.7 L548.4,447.7 L549.4,447.7 L550.4,447.7 L551.4,447.6 L552.4,447.6 L553.4,447.6 L554.4,447.6 L555.4,447.6 L556.4,447.6 L557.4,447.5 L558.4,447.5 L559.4,447.5 L560.4,447.5 L561.4,447.5 L562.4,447.5 L563.4,447.5 L564.4,447.5 L565.4,447.5 L566.4,447.5 L567.4,447.5 L568.4,447.5 L569.4,447.5 L570.4,447.5 L571.4,447.5 L572.4,447.5 L573.4,447.5 L574.4,447.5 L575.4,447.5 L576.4,447.5 L577.4,447.5 L578.4,447.5 L579.4,447.5 L580.4,447.5 L581.4,447.5 L582.4,447.5 L583.4,447.5 L584.4,447.5 L585.4,447.5 L586.4,447.6 L587.4,447.6 L588.4,447.6 L589.4,447.6 L590.4,447.6 L591.4,447.6 L592.4,447.7 L593.4,447.7 L594.4,447.7 L595.4,447.7 L596.4,447.7 L597.4,447.8 L598.4,447.8 L599.4,447.8 L600.4,447.8 L601.4,447.8 L602.4,447.9 L603.4,447.9 L604.4,447.9 L605.4,447.9 L606.4,448.0 L607.4,448.0 L608.4,448.0 L609.4,448.1 L610.4,448.1 L611.4,448.1 L612.4,448.1 L613.4,448.2 L614.4,448.2 L615.4,448.2 L616.4,448.3 L617.4,448.3 L618.4,448.3 L619.4,448.4 L620.4,448.4 L621.4,448.4 L622.4,448.5 L623.4,448.5 L624.4,448.5 L625.4,448.6 L626.4,448.6 L627.4,448.6 L628.4,448.7 L629.4,448.7 L630.4,448.7 L631.4,448.8 L632.4,448.8 L633.4,448.9 L634.4,448.9 L635.4,448.9 L636.4,449.0 L637.4,449.0 L638.4,449.0 L639.4,449.1 L640.4,449.1 L641.4,449.2 L642.4,449.2 L643.4,449.3 L644.4,449.3 L645.4,449.3 L646.4,449.4 L647.4,449.4 L648.4,449.5 L649.4,449.5 L650.4,449.6 L651.4,449.6 L652.4,449.7 L653.4,449.7 L654.4,449.8 L655.4,449.8 L656.4,449.9 L657.4,449.9 L658.4,450.0 L659.4,450.0 L660.4,450.1 L661.4,450.1 L662.4,450.2 L663.4,450.2 L664.4,450.3 L665.4,450.4 L666.4,450.4 L667.4,450.5 L668.4,450.5 L669.4,450.6 L670.4,450.7 L671.4,450.7 L672.4,450.8 L673.4,450.9 L674.4,450.9 L675.4,451.0 L676.4,451.1 L677.4,451.1 L678.4,451.2 L678.6,451.2 L678.6,453.4 L678.4,453.4 L677.4,453.3 L676.4,453.3 L675.4,453.2 L674.4,453.1 L673.4,453.1 L672.4,453.0 L671.4,452.9 L670.4,452.9 L669.4,452.8 L668.4,452.7 L667.4,452.7 L666.4,452.6 L665.4,452.6 L664.4,452.5 L663.4,452.4 L662.4,452.4 L661.4,452.3 L660.4,452.3 L659.4,452.2 L658.4,452.2 L657.4,452.1 L656.4,452.1 L655.4,452.0 L654.4,452.0 L653.4,451.9 L652.4,451.9 L651.4,451.8 L650.4,451.8 L649.4,451.7 L648.4,451.7 L647.4,451.6 L646.4,451.6 L645.4,451.5 L644.4,451.5 L643.4,451.5 L642.4,451.4 L641.4,451.4 L640.4,451.3 L639.4,451.3 L638.4,451.2 L637.4,451.2 L636.4,451.2 L635.4,451.1 L634.4,451.1 L633.4,451.1 L632.4,451.0 L631.4,451.0 L630.4,450.9 L629.4,450.9 L628.4,450.9 L627.4,450.8 L626.4,450.8 L625.4,450.8 L624.4,450.7 L623.4,450.7 L622.4,450.7 L621.4,450.6 L620.4,450.6 L619.4,450.6 L618.4,450.5 L617.4,450.5 L616.4,450.5 L615.4,450.4 L614.4,450.4 L613.4,450.4 L612.4,450.3 L611.4,450.3 L610.4,450.3 L609.4,450.3 L608.4,450.2 L607.4,450.2 L606.4,450.2 L605.4,450.1 L604.4,450.1 L603.4,450.1 L602.4,450.1 L601.4,450.0 L600.4,450.0 L599.4,450.0 L598.4,450.0 L597.4,450.0 L596.4,449.9 L595.4,449.9 L594.4,449.9 L593.4,449.9 L592.4,449.9 L591.4,449.8 L590.4,449.8 L589.4,449.8 L588.4,449.8 L587.4,449.8 L586.4,449.8 L585.4,449.7 L584.4,449.7 L583.4,449.7 L582.4,449.7 L581.4,449.7 L580.4,449.7 L579.4,449.7 L578.4,449.7 L577.4,449.7 L576.4,449.7 L575.4,449.7 L574.4,449.7 L573.4,449.7 L572.4,449.7 L571.4,449.7 L570.4,449.7 L569.4,449.7 L568.4,449.7 L567.4,449.7 L566.4,449.7 L565.4,449.7 L564.4,449.7 L563.4,449.7 L562.4,449.7 L561.4,449.7 L560.4,449.7 L559.4,449.7 L558.4,449.7 L557.4,449.7 L556.4,449.8 L555.4,449.8 L554.4,449.8 L553.4,449.8 L552.4,449.8 L551.4,449.8 L550.4,449.9 L549.4,449.9 L548.4,449.9 L547.4,449.9 L546.4,450.0 L545.4,450.0 L544.4,450.0 L543.4,450.0 L542.4,450.1 L541.4,450.1 L540.4,450.1 L539.4,450.2 L538.4,450.2 L537.4,450.2 L536.4,450.3 L535.4,450.3 L534.4,450.4 L533.4,450.4 L532.4,450.4 L531.4,450.5 L530.4,450.5 L529.4,450.6 L528.4,450.6 L527.4,450.7 L526.4,450.7 L525.4,450.8 L524.4,450.8 L523.4,450.9 L522.4,450.9 L521.4,451.0 L520.4,451.0 L519.4,451.1 L518.4,451.1 L517.4,451.2 L516.4,451.3 L515.4,451.3 L514.4,451.4 L513.4,451.4 L512.4,451.5 L511.4,451.6 L510.4,451.6 L509.4,451.7 L508.4,451.8 L507.4,451.8 L506.4,451.9 L505.4,452.0 L504.4,452.1 L503.4,452.1 L502.4,452.2 L501.4,452.3 L500.4,452.4 L499.4,452.4 L498.4,452.5 L497.4,452.6 L496.4,452.7 L495.4,452.7 L494.4,452.8 L493.4,452.9 L492.4,453.0 L491.4,453.1 L490.4,453.2 L489.4,453.2 L488.4,453.3 L487.4,453.4 L486.4,453.5 L485.4,453.6 L484.4,453.7 L483.4,453.8 L482.4,453.9 L481.4,454.0 L480.4,454.1 L479.4,454.1 L478.4,454.2 L477.4,454.3 L476.4,454.4 L475.4,454.5 L474.4,454.6 L473.4,454.7 L472.4,454.8 L471.4,454.9 L470.4,455.0 L469.4,455.1 L468.4,455.2 L467.4,455.3 L466.4,455.4 L465.4,455.5 L464.4,455.6 L463.4,455.7 L462.4,455.9 L461.4,456.0 L460.4,456.1 L459.4,456.2 L458.4,456.3 L457.4,456.4 L456.4,456.5 L455.4,456.6 L454.4,456.7 L453.4,456.8 L452.4,456.9 L451.4,457.0 L450.4,457.1 L449.4,457.3 L448.4,457.4 L447.4,457.5 L446.4,457.6 L445.4,457.7 L444.4,457.8 L443.4,457.9 L442.4,458.0 L441.4,458.1 L440.4,458.2 L439.4,458.3 L438.4,458.4 L437.4,458.5 L436.4,458.6 L435.4,458.7 L434.4,458.8 L433.4,458.9 L432.4,459.0 L431.4,459.1 L430.4,459.2 L429.4,459.3 L428.4,459.4 L427.4,459.5 L426.4,459.6 L425.4,459.7 L424.4,459.8 L423.4,459.9 L422.4,460.0 L421.4,460.1 L420.4,460.2 L419.4,460.2 L418.4,460.3 L417.4,460.4 L416.4,460.5 L415.4,460.6 L414.4,460.7 L413.4,460.7 L412.4,460.8 L411.4,460.9 L410.4,461.0 L409.4,461.0 L408.4,461.1 L407.4,461.2 L406.4,461.3 L405.4,461.3 L404.4,461.4 L403.4,461.5 L402.4,461.5 L401.4,461.6 L400.4,461.7 L399.4,461.8 L398.4,461.8 L397.4,461.9 L396.4,461.9 L395.4,462.0 L394.4,462.1 L393.4,462.1 L392.4,462.2 L391.4,462.3 L390.4,462.3 L389.4,462.4 L388.4,462.4 L387.4,462.5 L386.4,462.5 L385.4,462.6 L384.4,462.7 L383.4,462.7 L382.4,462.8 L381.4,462.8 L380.4,462.9 L379.4,462.9 L378.4,463.0 L377.4,463.0 L376.4,463.1 L375.4,463.1 L374.4,463.2 L373.4,463.2 L372.4,463.2 L371.4,463.3 L370.4,463.3 L369.4,463.4 L368.4,463.4 L367.4,463.5 L366.4,463.5 L365.4,463.5 L364.4,463.6 L363.4,463.6 L362.4,463.6 L361.4,463.7 L360.4,463.7 L359.4,463.7 L358.4,463.8 L357.4,463.8 L356.4,463.8 L355.4,463.8 L354.4,463.9 L353.4,463.9 L352.4,463.9 L351.4,463.9 L350.4,464.0 L349.4,464.0 L348.4,464.0 L347.4,464.0 L346.4,464.0 L345.4,464.0 L344.4,464.0 L343.4,464.1 L342.4,464.1 L341.4,464.1 L340.4,464.1 L339.4,464.1 L338.4,464.1 L337.4,464.1 L336.4,464.1 L335.4,464.1 L334.4,464.1 L333.4,464.1 L332.4,464.1 L331.4,464.1 L330.4,464.0 L329.4,464.0 L328.4,464.0 L327.4,464.0 L326.4,464.0 L325.4,464.0 L324.4,464.0 L323.4,463.9 L322.4,463.9 L321.4,463.9 L320.4,463.9 L319.4,463.8 L318.4,463.8 L317.4,463.8 L316.4,463.7 L315.4,463.7 L314.4,463.7 L313.4,463.6 L312.4,463.6 L311.4,463.5 L310.4,463.5 L309.4,463.5 L308.4,463.4 L307.4,463.4 L306.4,463.3 L305.4,463.2 L304.4,463.2 L303.4,463.1 L302.4,463.1 L301.4,463.0 L300.4,462.9 L299.4,462.9 L298.4,462.8 L297.4,462.7 L296.4,462.7 L295.4,462.6 L294.4,462.5 L293.4,462.5 L292.4,462.4 L291.4,462.3 L290.4,462.2 L289.4,462.2 L288.4,462.1 L287.4,462.0 L286.4,461.9 L285.4,461.8 L284.4,461.7 L283.4,461.7 L282.4,461.6 L281.4,461.5 L280.4,461.4 L279.4,461.3 L278.4,461.2 L277.4,461.1 L276.4,461.0 L275.4,461.0 L274.4,460.9 L273.4,460.8 L272.4,460.7 L271.4,460.6 L270.4,460.5 L269.4,460.4 L268.4,460.3 L267.4,460.2 L266.4,460.1 L265.4,460.0 L264.4,459.9 L263.4,459.8 L262.4,459.7 L261.4,459.6 L260.4,459.6 L259.4,459.5 L258.4,459.4 L257.4,459.3 L256.4,459.2 L255.4,459.1 L254.4,459.0 L253.4,458.9 L252.4,458.8 L251.4,458.7 L250.4,458.6 L249.4,458.5 L248.4,458.4 L247.4,458.4 L246.4,458.3 L245.4,458.2 L244.4,458.1 L243.4,458.0 L242.4,457.9 L241.4,457.8 L240.4,457.8 L239.4,457.7 L238.4,457.6 L237.4,457.5 L236.4,457.4 L235.4,457.4 L234.4,457.3 L233.4,457.2 L232.4,457.1 L231.4,457.1 L230.4,457.0 L229.4,456.9 L228.4,456.8 L227.4,456.8 L226.4,456.7 L225.4,456.7 L224.4,456.6 L223.4,456.5 L222.4,456.5 L221.4,456.4 L220.4,456.3 L219.4,456.3 L218.4,456.2 L217.4,456.2 L216.4,456.1 L215.4,456.1 L214.4,456.0 L213.4,456.0 L212.4,455.9 L211.4,455.9 L210.4,455.8 L209.4,455.8 L208.4,455.7 L207.4,455.7 L206.4,455.7 L205.4,455.6 L204.4,455.6 L203.4,455.5 L202.4,455.5 L201.4,455.5 L200.4,455.4 L199.4,455.4 L198.4,455.4 L197.4,455.3 L196.4,455.3 L195.4,455.3 L194.4,455.2 L193.4,455.2 L192.4,455.2 L191.4,455.2 L190.4,455.1 L189.4,455.1 L188.4,455.1 L187.4,455.1 L186.4,455.0 L185.4,455.0 L184.4,455.0 L183.4,455.0 L182.4,455.0 L181.4,454.9 L180.4,454.9 L179.4,454.9 L178.4,454.9 L177.4,454.9 L176.4,454.9 L175.4,454.8 L174.4,454.8 L173.4,454.8 L172.4,454.8 L171.4,454.8 L170.4,454.8 L169.4,454.8 L168.4,454.8 L167.4,454.8 L166.4,454.7 L165.4,454.7 L164.4,454.7 L163.4,454.7 L162.4,454.7 L161.4,454.7 L160.4,454.7 L159.4,454.7 L158.4,454.7 L157.4,454.7 L156.4,454.7 L155.4,454.7 L154.4,454.7 L153.4,454.7 L152.4,454.7 L151.4,454.7 L150.4,454.7 L149.4,454.7 L148.4,454.7 L147.4,454.7 L146.4,454.7 L145.4,454.7 L144.4,454.7 L143.4,454.7 L142.4,454.7 L141.4,454.7 L140.4,454.7 L139.4,454.7 L138.4,454.7 L137.4,454.7 L136.4,454.7 L135.4,454.7 L134.4,454.7 L133.4,454.7 L132.4,454.7 L131.4,454.7 L130.4,454.7 L129.4,454.7 L128.4,454.7 L127.4,454.7 L126.4,454.7 L125.4,454.7 L124.4,454.7 L123.4,454.7 L122.4,454.7 L121.4,454.7 L120.4,454.7 L119.4,454.7 L118.4,454.7 L117.4,454.7 L116.4,454.7 L115.4,454.7 L114.4,454.7 L113.4,454.7 L112.4,454.7 L111.4,454.7 L110.4,454.7 L109.4,454.7 L108.4,454.7 L107.4,454.7 L106.4,454.7 L105.4,454.7 L104.4,454.7 L103.4,454.7 L102.4,454.7 L101.4,454.7 L100.4,454.7 L99.4,454.7 L98.4,454.7 L97.4,454.7 L96.4,454.7 L95.4,454.7 L94.4,454.7 L93.4,454.7 L92.4,454.7 L91.4,454.7 L90.4,454.7 L89.4,454.7 L88.4,454.7 L87.4,454.7 L86.4,454.7 L85.4,454.7 L84.4,454.6 L83.4,454.6 L82.4,454.6 L81.4,454.6 L80.4,454.6 L79.4,454.6 L78.4,454.6 L77.4,454.6 L76.4,454.6 L75.4,454.5 L74.4,454.5 L73.4,454.5 L72.4,454.5 L71.4,454.5 L70.4,454.5 L69.4,454.4 L68.4,454.4 L67.4,454.4 L66.4,454.4 L65.4,454.4 L64.4,454.3 L63.4,454.3 L62.4,454.3 L61.4,454.3 L60.4,454.2 L59.4,454.2 L58.4,454.2 L57.4,454.2 L56.4,454.1 L55.4,454.1 L54.4,454.1 L53.4,454.0 L52.4,454.0 L51.4,454.0 L50.4,453.9 L49.4,453.9 L48.4,453.9 L47.4,453.8 L46.4,453.8 L45.4,453.7 L44.4,453.7 L43.4,453.7 L42.4,453.6 L41.4,453.6 L40.4,453.5 L39.4,453.5 L38.4,453.4 L37.4,453.4 L36.4,453.3 L35.4,453.3 L34.4,453.2 Z" fill="#e4b03a" fill-opacity="0.25"/>
<path d="M34.4,452.12 L34.9,452.15 L35.4,452.17 L35.9,452.20 L36.4,452.23 L36.9,452.25 L37.4,452.28 L37.9,452.30 L38.4,452.32 L38.9,452.35 L39.4,452.37 L39.9,452.40 L40.4,452.42 L40.9,452.44 L41.4,452.47 L41.9,452.49 L42.4,452.51 L42.9,452.53 L43.4,452.55 L43.9,452.57 L44.4,452.60 L44.9,452.62 L45.4,452.64 L45.9,452.66 L46.4,452.68 L46.9,452.70 L47.4,452.72 L47.9,452.74 L48.4,452.75 L48.9,452.77 L49.4,452.79 L49.9,452.81 L50.4,452.83 L50.9,452.85 L51.4,452.86 L51.9,452.88 L52.4,452.90 L52.9,452.91 L53.4,452.93 L53.9,452.95 L54.4,452.96 L54.9,452.98 L55.4,452.99 L55.9,453.01 L56.4,453.02 L56.9,453.04 L57.4,453.05 L57.9,453.07 L58.4,453.08 L58.9,453.10 L59.4,453.11 L59.9,453.12 L60.4,453.14 L60.9,453.15 L61.4,453.16 L61.9,453.17 L62.4,453.19 L62.9,453.20 L63.4,453.21 L63.9,453.22 L64.4,453.23 L64.9,453.24 L65.4,453.26 L65.9,453.27 L66.4,453.28 L66.9,453.29 L67.4,453.30 L67.9,453.31 L68.4,453.32 L68.9,453.33 L69.4,453.34 L69.9,453.35 L70.4,453.36 L70.9,453.36 L71.4,453.37 L71.9,453.38 L72.4,453.39 L72.9,453.40 L73.4,453.41 L73.9,453.41 L74.4,453.42 L74.9,453.43 L75.4,453.44 L75.9,453.44 L76.4,453.45 L76.9,453.46 L77.4,453.46 L77.9,453.47 L78.4,453.48 L78.9,453.48 L79.4,453.49 L79.9,453.50 L80.4,453.50 L80.9,453.51 L81.4,453.51 L81.9,453.52 L82.4,453.52 L82.9,453.53 L83.4,453.53 L83.9,453.54 L84.4,453.54 L84.9,453.55 L85.4,453.55 L85.9,453.55 L86.4,453.56 L86.9,453.56 L87.4,453.57 L87.9,453.57 L88.4,453.57 L88.9,453.58 L89.4,453.58 L89.9,453.58 L90.4,453.59 L90.9,453.59 L91.4,453.59 L91.9,453.59 L92.4,453.60 L92.9,453.60 L93.4,453.60 L93.9,453.60 L94.4,453.61 L94.9,453.61 L95.4,453.61 L95.9,453.61 L96.4,453.61 L96.9,453.61 L97.4,453.62 L97.9,453.62 L98.4,453.62 L98.9,453.62 L99.4,453.62 L99.9,453.62 L100.4,453.62 L100.9,453.62 L101.4,453.63 L101.9,453.63 L102.4,453.63 L102.9,453.63 L103.4,453.63 L103.9,453.63 L104.4,453.63 L104.9,453.63 L105.4,453.63 L105.9,453.63 L106.4,453.63 L106.9,453.63 L107.4,453.63 L107.9,453.63 L108.4,453.63 L108.9,453.63 L109.4,453.63 L109.9,453.63 L110.4,453.63 L110.9,453.63 L111.4,453.63 L111.9,453.63 L112.4,453.62 L112.9,453.62 L113.4,453.62 L113.9,453.62 L114.4,453.62 L114.9,453.62 L115.4,453.62 L115.9,453.62 L116.4,453.62 L116.9,453.62 L117.4,453.62 L117.9,453.62 L118.4,453.61 L118.9,453.61 L119.4,453.61 L119.9,453.61 L120.4,453.61 L120.9,453.61 L121.4,453.61 L121.9,453.61 L122.4,453.61 L122.9,453.60 L123.4,453.60 L123.9,453.60 L124.4,453.60 L124.9,453.60 L125.4,453.60 L125.9,453.60 L126.4,453.60 L126.9,453.59 L127.4,453.59 L127.9,453.59 L128.4,453.59 L128.9,453.59 L129.4,453.59 L129.9,453.59 L130.4,453.59 L130.9,453.58 L131.4,453.58 L131.9,453.58 L132.4,453.58 L132.9,453.58 L133.4,453.58 L133.9,453.58 L134.4,453.58 L134.9,453.58 L135.4,453.57 L135.9,453.57 L136.4,453.57 L136.9,453.57 L137.4,453.57 L137.9,453.57 L138.4,453.57 L138.9,453.57 L139.4,453.57 L139.9,453.57 L140.4,453.57 L140.9,453.57 L141.4,453.57 L141.9,453.57 L142.4,453.57 L142.9,453.57 L143.4,453.57 L143.9,453.57 L144.4,453.56 L144.9,453.56 L145.4,453.56 L145.9,453.56 L146.4,453.57 L146.9,453.57 L147.4,453.57 L147.9,453.57 L148.4,453.57 L148.9,453.57 L149.4,453.57 L149.9,453.57 L150.4,453.57 L150.9,453.57 L151.4,453.57 L151.9,453.57 L152.4,453.57 L152.9,453.57 L153.4,453.58 L153.9,453.58 L154.4,453.58 L154.9,453.58 L155.4,453.58 L155.9,453.58 L156.4,453.58 L156.9,453.59 L157.4,453.59 L157.9,453.59 L158.4,453.59 L158.9,453.60 L159.4,453.60 L159.9,453.60 L160.4,453.60 L160.9,453.61 L161.4,453.61 L161.9,453.61 L162.4,453.62 L162.9,453.62 L163.4,453.62 L163.9,453.63 L164.4,453.63 L164.9,453.63 L165.4,453.64 L165.9,453.64 L166.4,453.64 L166.9,453.65 L167.4,453.65 L167.9,453.66 L168.4,453.66 L168.9,453.67 L169.4,453.67 L169.9,453.68 L170.4,453.68 L170.9,453.69 L171.4,453.69 L171.9,453.70 L172.4,453.71 L172.9,453.71 L173.4,453.72 L173.9,453.73 L174.4,453.73 L174.9,453.74 L175.4,453.75 L175.9,453.75 L176.4,453.76 L176.9,453.77 L177.4,453.77 L177.9,453.78 L178.4,453.79 L178.9,453.80 L179.4,453.81 L179.9,453.82 L180.4,453.82 L180.9,453.83 L181.4,453.84 L181.9,453.85 L182.4,453.86 L182.9,453.87 L183.4,453.88 L183.9,453.89 L184.4,453.90 L184.9,453.91 L185.4,453.92 L185.9,453.93 L186.4,453.94 L186.9,453.95 L187.4,453.96 L187.9,453.98 L188.4,453.99 L188.9,454.00 L189.4,454.01 L189.9,454.02 L190.4,454.04 L190.9,454.05 L191.4,454.06 L191.9,454.08 L192.4,454.09 L192.9,454.10 L193.4,454.12 L193.9,454.13 L194.4,454.15 L194.9,454.16 L195.4,454.17 L195.9,454.19 L196.4,454.21 L196.9,454.22 L197.4,454.24 L197.9,454.25 L198.4,454.27 L198.9,454.29 L199.4,454.30 L199.9,454.32 L200.4,454.34 L200.9,454.35 L201.4,454.37 L201.9,454.39 L202.4,454.41 L202.9,454.43 L203.4,454.44 L203.9,454.46 L204.4,454.48 L204.9,454.50 L205.4,454.52 L205.9,454.54 L206.4,454.56 L206.9,454.58 L207.4,454.60 L207.9,454.63 L208.4,454.65 L208.9,454.67 L209.4,454.69 L209.9,454.71 L210.4,454.74 L210.9,454.76 L211.4,454.78 L211.9,454.80 L212.4,454.83 L212.9,454.85 L213.4,454.88 L213.9,454.90 L214.4,454.93 L214.9,454.95 L215.4,454.98 L215.9,455.00 L216.4,455.03 L216.9,455.05 L217.4,455.08 L217.9,455.11 L218.4,455.14 L218.9,455.16 L219.4,455.19 L219.9,455.22 L220.4,455.25 L220.9,455.28 L221.4,455.31 L221.9,455.34 L222.4,455.37 L222.9,455.40 L223.4,455.43 L223.9,455.46 L224.4,455.49 L224.9,455.52 L225.4,455.55 L225.9,455.58 L226.4,455.62 L226.9,455.65 L227.4,455.68 L227.9,455.71 L228.4,455.75 L228.9,455.78 L229.4,455.82 L229.9,455.85 L230.4,455.89 L230.9,455.92 L231.4,455.96 L231.9,455.99 L232.4,456.03 L232.9,456.07 L233.4,456.11 L233.9,456.14 L234.4,456.18 L234.9,456.22 L235.4,456.26 L235.9,456.30 L236.4,456.33 L236.9,456.37 L237.4,456.41 L237.9,456.45 L238.4,456.49 L238.9,456.53 L239.4,456.58 L239.9,456.62 L240.4,456.66 L240.9,456.70 L241.4,456.74 L241.9,456.78 L242.4,456.83 L242.9,456.87 L243.4,456.91 L243.9,456.95 L244.4,457.00 L244.9,457.04 L245.4,457.08 L245.9,457.13 L246.4,457.17 L246.9,457.21 L247.4,457.26 L247.9,457.30 L248.4,457.35 L248.9,457.39 L249.4,457.44 L249.9,457.48 L250.4,457.53 L250.9,457.57 L251.4,457.62 L251.9,457.66 L252.4,457.71 L252.9,457.76 L253.4,457.80 L253.9,457.85 L254.4,457.89 L254.9,457.94 L255.4,457.99 L255.9,458.03 L256.4,458.08 L256.9,458.13 L257.4,458.17 L257.9,458.22 L258.4,458.27 L258.9,458.31 L259.4,458.36 L259.9,458.41 L260.4,458.45 L260.9,458.50 L261.4,458.55 L261.9,458.60 L262.4,458.64 L262.9,458.69 L263.4,458.74 L263.9,458.78 L264.4,458.83 L264.9,458.88 L265.4,458.93 L265.9,458.97 L266.4,459.02 L266.9,459.07 L267.4,459.11 L267.9,459.16 L268.4,459.21 L268.9,459.25 L269.4,459.30 L269.9,459.35 L270.4,459.39 L270.9,459.44 L271.4,459.49 L271.9,459.53 L272.4,459.58 L272.9,459.62 L273.4,459.67 L273.9,459.72 L274.4,459.76 L274.9,459.81 L275.4,459.85 L275.9,459.90 L276.4,459.94 L276.9,459.99 L277.4,460.03 L277.9,460.08 L278.4,460.12 L278.9,460.17 L279.4,460.21 L279.9,460.26 L280.4,460.30 L280.9,460.34 L281.4,460.39 L281.9,460.43 L282.4,460.47 L282.9,460.52 L283.4,460.56 L283.9,460.60 L284.4,460.65 L284.9,460.69 L285.4,460.73 L285.9,460.77 L286.4,460.81 L286.9,460.85 L287.4,460.89 L287.9,460.93 L288.4,460.97 L288.9,461.01 L289.4,461.05 L289.9,461.09 L290.4,461.13 L290.9,461.17 L291.4,461.21 L291.9,461.25 L292.4,461.29 L292.9,461.32 L293.4,461.36 L293.9,461.40 L294.4,461.43 L294.9,461.47 L295.4,461.51 L295.9,461.54 L296.4,461.58 L296.9,461.61 L297.4,461.65 L297.9,461.68 L298.4,461.72 L298.9,461.75 L299.4,461.78 L299.9,461.81 L300.4,461.85 L300.9,461.88 L301.4,461.91 L301.9,461.94 L302.4,461.97 L302.9,462.00 L303.4,462.03 L303.9,462.06 L304.4,462.09 L304.9,462.12 L305.4,462.14 L305.9,462.17 L306.4,462.20 L306.9,462.23 L307.4,462.25 L307.9,462.28 L308.4,462.30 L308.9,462.33 L309.4,462.35 L309.9,462.37 L310.4,462.40 L310.9,462.42 L311.4,462.44 L311.9,462.46 L312.4,462.49 L312.9,462.51 L313.4,462.53 L313.9,462.55 L314.4,462.57 L314.9,462.58 L315.4,462.60 L315.9,462.62 L316.4,462.64 L316.9,462.65 L317.4,462.67 L317.9,462.69 L318.4,462.70 L318.9,462.72 L319.4,462.73 L319.9,462.75 L320.4,462.76 L320.9,462.77 L321.4,462.79 L321.9,462.80 L322.4,462.81 L322.9,462.82 L323.4,462.83 L323.9,462.85 L324.4,462.86 L324.9,462.87 L325.4,462.88 L325.9,462.88 L326.4,462.89 L326.9,462.90 L327.4,462.91 L327.9,462.92 L328.4,462.92 L328.9,462.93 L329.4,462.94 L329.9,462.94 L330.4,462.95 L330.9,462.95 L331.4,462.96 L331.9,462.96 L332.4,462.97 L332.9,462.97 L333.4,462.97 L333.9,462.97 L334.4,462.98 L334.9,462.98 L335.4,462.98 L335.9,462.98 L336.4,462.98 L336.9,462.98 L337.4,462.98 L337.9,462.98 L338.4,462.98 L338.9,462.98 L339.4,462.98 L339.9,462.98 L340.4,462.97 L340.9,462.97 L341.4,462.97 L341.9,462.96 L342.4,462.96 L342.9,462.96 L343.4,462.95 L343.9,462.95 L344.4,462.94 L344.9,462.94 L345.4,462.93 L345.9,462.92 L346.4,462.92 L346.9,462.91 L347.4,462.90 L347.9,462.90 L348.4,462.89 L348.9,462.88 L349.4,462.87 L349.9,462.86 L350.4,462.85 L350.9,462.84 L351.4,462.83 L351.9,462.82 L352.4,462.81 L352.9,462.80 L353.4,462.79 L353.9,462.78 L354.4,462.77 L354.9,462.75 L355.4,462.74 L355.9,462.73 L356.4,462.72 L356.9,462.70 L357.4,462.69 L357.9,462.68 L358.4,462.66 L358.9,462.65 L359.4,462.63 L359.9,462.62 L360.4,462.60 L360.9,462.59 L361.4,462.57 L361.9,462.55 L362.4,462.54 L362.9,462.52 L363.4,462.50 L363.9,462.48 L364.4,462.47 L364.9,462.45 L365.4,462.43 L365.9,462.41 L366.4,462.39 L366.9,462.37 L367.4,462.36 L367.9,462.34 L368.4,462.32 L368.9,462.30 L369.4,462.28 L369.9,462.26 L370.4,462.23 L370.9,462.21 L371.4,462.19 L371.9,462.17 L372.4,462.15 L372.9,462.13 L373.4,462.10 L373.9,462.08 L374.4,462.06 L374.9,462.04 L375.4,462.01 L375.9,461.99 L376.4,461.96 L376.9,461.94 L377.4,461.92 L377.9,461.89 L378.4,461.87 L378.9,461.84 L379.4,461.82 L379.9,461.79 L380.4,461.77 L380.9,461.74 L381.4,461.72 L381.9,461.69 L382.4,461.66 L382.9,461.64 L383.4,461.61 L383.9,461.58 L384.4,461.56 L384.9,461.53 L385.4,461.50 L385.9,461.47 L386.4,461.45 L386.9,461.42 L387.4,461.39 L387.9,461.36 L388.4,461.33 L388.9,461.30 L389.4,461.27 L389.9,461.24 L390.4,461.22 L390.9,461.19 L391.4,461.16 L391.9,461.13 L392.4,461.10 L392.9,461.07 L393.4,461.03 L393.9,461.00 L394.4,460.97 L394.9,460.94 L395.4,460.91 L395.9,460.88 L396.4,460.85 L396.9,460.82 L397.4,460.78 L397.9,460.75 L398.4,460.72 L398.9,460.69 L399.4,460.65 L399.9,460.62 L400.4,460.59 L400.9,460.55 L401.4,460.52 L401.9,460.48 L402.4,460.45 L402.9,460.42 L403.4,460.38 L403.9,460.35 L404.4,460.31 L404.9,460.27 L405.4,460.24 L405.9,460.20 L406.4,460.17 L406.9,460.13 L407.4,460.09 L407.9,460.06 L408.4,460.02 L408.9,459.98 L409.4,459.95 L409.9,459.91 L410.4,459.87 L410.9,459.83 L411.4,459.79 L411.9,459.75 L412.4,459.72 L412.9,459.68 L413.4,459.64 L413.9,459.60 L414.4,459.56 L414.9,459.52 L415.4,459.48 L415.9,459.44 L416.4,459.39 L416.9,459.35 L417.4,459.31 L417.9,459.27 L418.4,459.23 L418.9,459.19 L419.4,459.14 L419.9,459.10 L420.4,459.06 L420.9,459.01 L421.4,458.97 L421.9,458.93 L422.4,458.88 L422.9,458.84 L423.4,458.79 L423.9,458.75 L424.4,458.70 L424.9,458.66 L425.4,458.61 L425.9,458.57 L426.4,458.52 L426.9,458.47 L427.4,458.43 L427.9,458.38 L428.4,458.33 L428.9,458.28 L429.4,458.24 L429.9,458.19 L430.4,458.14 L430.9,458.09 L431.4,458.04 L431.9,457.99 L432.4,457.94 L432.9,457.89 L433.4,457.84 L433.9,457.79 L434.4,457.74 L434.9,457.69 L435.4,457.64 L435.9,457.59 L436.4,457.54 L436.9,457.49 L437.4,457.43 L437.9,457.38 L438.4,457.33 L438.9,457.28 L439.4,457.23 L439.9,457.17 L440.4,457.12 L440.9,457.07 L441.4,457.02 L441.9,456.96 L442.4,456.91 L442.9,456.86 L443.4,456.80 L443.9,456.75 L444.4,456.70 L444.9,456.64 L445.4,456.59 L445.9,456.53 L446.4,456.48 L446.9,456.43 L447.4,456.37 L447.9,456.32 L448.4,456.26 L448.9,456.21 L449.4,456.16 L449.9,456.10 L450.4,456.05 L450.9,455.99 L451.4,455.94 L451.9,455.88 L452.4,455.83 L452.9,455.78 L453.4,455.72 L453.9,455.67 L454.4,455.61 L454.9,455.56 L455.4,455.50 L455.9,455.45 L456.4,455.40 L456.9,455.34 L457.4,455.29 L457.9,455.23 L458.4,455.18 L458.9,455.13 L459.4,455.07 L459.9,455.02 L460.4,454.96 L460.9,454.91 L461.4,454.86 L461.9,454.80 L462.4,454.75 L462.9,454.70 L463.4,454.65 L463.9,454.59 L464.4,454.54 L464.9,454.49 L465.4,454.44 L465.9,454.38 L466.4,454.33 L466.9,454.28 L467.4,454.23 L467.9,454.18 L468.4,454.13 L468.9,454.07 L469.4,454.02 L469.9,453.97 L470.4,453.92 L470.9,453.87 L471.4,453.82 L471.9,453.77 L472.4,453.72 L472.9,453.67 L473.4,453.62 L473.9,453.57 L474.4,453.52 L474.9,453.48 L475.4,453.43 L475.9,453.38 L476.4,453.33 L476.9,453.28 L477.4,453.23 L477.9,453.19 L478.4,453.14 L478.9,453.09 L479.4,453.04 L479.9,453.00 L480.4,452.95 L480.9,452.90 L481.4,452.86 L481.9,452.81 L482.4,452.77 L482.9,452.72 L483.4,452.68 L483.9,452.63 L484.4,452.58 L484.9,452.54 L485.4,452.50 L485.9,452.45 L486.4,452.41 L486.9,452.36 L487.4,452.32 L487.9,452.28 L488.4,452.23 L488.9,452.19 L489.4,452.15 L489.9,452.10 L490.4,452.06 L490.9,452.02 L491.4,451.98 L491.9,451.93 L492.4,451.89 L492.9,451.85 L493.4,451.81 L493.9,451.77 L494.4,451.73 L494.9,451.69 L495.4,451.65 L495.9,451.61 L496.4,451.57 L496.9,451.53 L497.4,451.49 L497.9,451.45 L498.4,451.41 L498.9,451.37 L499.4,451.33 L499.9,451.29 L500.4,451.26 L500.9,451.22 L501.4,451.18 L501.9,451.14 L502.4,451.11 L502.9,451.07 L503.4,451.03 L503.9,451.00 L504.4,450.96 L504.9,450.92 L505.4,450.89 L505.9,450.85 L506.4,450.82 L506.9,450.78 L507.4,450.75 L507.9,450.71 L508.4,450.68 L508.9,450.64 L509.4,450.61 L509.9,450.58 L510.4,450.54 L510.9,450.51 L511.4,450.48 L511.9,450.45 L512.4,450.41 L512.9,450.38 L513.4,450.35 L513.9,450.32 L514.4,450.29 L514.9,450.26 L515.4,450.23 L515.9,450.19 L516.4,450.16 L516.9,450.13 L517.4,450.11 L517.9,450.08 L518.4,450.05 L518.9,450.02 L519.4,449.99 L519.9,449.96 L520.4,449.93 L520.9,449.90 L521.4,449.88 L521.9,449.85 L522.4,449.82 L522.9,449.80 L523.4,449.77 L523.9,449.74 L524.4,449.72 L524.9,449.69 L525.4,449.67 L525.9,449.64 L526.4,449.62 L526.9,449.59 L527.4,449.57 L527.9,449.54 L528.4,449.52 L528.9,449.50 L529.4,449.47 L529.9,449.45 L530.4,449.43 L530.9,449.40 L531.4,449.38 L531.9,449.36 L532.4,449.34 L532.9,449.32 L533.4,449.30 L533.9,449.28 L534.4,449.26 L534.9,449.24 L535.4,449.22 L535.9,449.20 L536.4,449.18 L536.9,449.16 L537.4,449.14 L537.9,449.12 L538.4,449.10 L538.9,449.09 L539.4,449.07 L539.9,449.05 L540.4,449.03 L540.9,449.02 L541.4,449.00 L541.9,448.99 L542.4,448.97 L542.9,448.95 L543.4,448.94 L543.9,448.93 L544.4,448.91 L544.9,448.90 L545.4,448.88 L545.9,448.87 L546.4,448.86 L546.9,448.84 L547.4,448.83 L547.9,448.82 L548.4,448.81 L548.9,448.79 L549.4,448.78 L549.9,448.77 L550.4,448.76 L550.9,448.75 L551.4,448.74 L551.9,448.73 L552.4,448.72 L552.9,448.71 L553.4,448.70 L553.9,448.69 L554.4,448.69 L554.9,448.68 L555.4,448.67 L555.9,448.66 L556.4,448.65 L556.9,448.65 L557.4,448.64 L557.9,448.63 L558.4,448.63 L558.9,448.62 L559.4,448.61 L559.9,448.61 L560.4,448.60 L560.9,448.60 L561.4,448.59 L561.9,448.59 L562.4,448.59 L562.9,448.58 L563.4,448.58 L563.9,448.57 L564.4,448.57 L564.9,448.57 L565.4,448.57 L565.9,448.56 L566.4,448.56 L566.9,448.56 L567.4,448.56 L567.9,448.56 L568.4,448.56 L568.9,448.55 L569.4,448.55 L569.9,448.55 L570.4,448.55 L570.9,448.55 L571.4,448.55 L571.9,448.55 L572.4,448.55 L572.9,448.55 L573.4,448.56 L573.9,448.56 L574.4,448.56 L574.9,448.56 L575.4,448.56 L575.9,448.57 L576.4,448.57 L576.9,448.57 L577.4,448.57 L577.9,448.58 L578.4,448.58 L578.9,448.58 L579.4,448.59 L579.9,448.59 L580.4,448.60 L580.9,448.60 L581.4,448.60 L581.9,448.61 L582.4,448.61 L582.9,448.62 L583.4,448.63 L583.9,448.63 L584.4,448.64 L584.9,448.64 L585.4,448.65 L585.9,448.66 L586.4,448.66 L586.9,448.67 L587.4,448.68 L587.9,448.68 L588.4,448.69 L588.9,448.70 L589.4,448.71 L589.9,448.71 L590.4,448.72 L590.9,448.73 L591.4,448.74 L591.9,448.75 L592.4,448.76 L592.9,448.77 L593.4,448.77 L593.9,448.78 L594.4,448.79 L594.9,448.80 L595.4,448.81 L595.9,448.82 L596.4,448.83 L596.9,448.84 L597.4,448.85 L597.9,448.86 L598.4,448.88 L598.9,448.89 L599.4,448.90 L599.9,448.91 L600.4,448.92 L600.9,448.93 L601.4,448.94 L601.9,448.96 L602.4,448.97 L602.9,448.98 L603.4,448.99 L603.9,449.00 L604.4,449.02 L604.9,449.03 L605.4,449.04 L605.9,449.06 L606.4,449.07 L606.9,449.08 L607.4,449.10 L607.9,449.11 L608.4,449.12 L608.9,449.14 L609.4,449.15 L609.9,449.17 L610.4,449.18 L610.9,449.19 L611.4,449.21 L611.9,449.22 L612.4,449.24 L612.9,449.25 L613.4,449.27 L613.9,449.28 L614.4,449.30 L614.9,449.31 L615.4,449.33 L615.9,449.35 L616.4,449.36 L616.9,449.38 L617.4,449.39 L617.9,449.41 L618.4,449.42 L618.9,449.44 L619.4,449.46 L619.9,449.47 L620.4,449.49 L620.9,449.51 L621.4,449.52 L621.9,449.54 L622.4,449.56 L622.9,449.57 L623.4,449.59 L623.9,449.61 L624.4,449.63 L624.9,449.64 L625.4,449.66 L625.9,449.68 L626.4,449.70 L626.9,449.71 L627.4,449.73 L627.9,449.75 L628.4,449.77 L628.9,449.78 L629.4,449.80 L629.9,449.82 L630.4,449.84 L630.9,449.86 L631.4,449.88 L631.9,449.89 L632.4,449.91 L632.9,449.93 L633.4,449.95 L633.9,449.97 L634.4,449.99 L634.9,450.01 L635.4,450.03 L635.9,450.05 L636.4,450.07 L636.9,450.09 L637.4,450.10 L637.9,450.12 L638.4,450.14 L638.9,450.16 L639.4,450.18 L639.9,450.20 L640.4,450.23 L640.9,450.25 L641.4,450.27 L641.9,450.29 L642.4,450.31 L642.9,450.33 L643.4,450.35 L643.9,450.37 L644.4,450.39 L644.9,450.41 L645.4,450.44 L645.9,450.46 L646.4,450.48 L646.9,450.50 L647.4,450.53 L647.9,450.55 L648.4,450.57 L648.9,450.59 L649.4,450.62 L649.9,450.64 L650.4,450.66 L650.9,450.69 L651.4,450.71 L651.9,450.73 L652.4,450.76 L652.9,450.78 L653.4,450.81 L653.9,450.83 L654.4,450.86 L654.9,450.88 L655.4,450.91 L655.9,450.93 L656.4,450.96 L656.9,450.98 L657.4,451.01 L657.9,451.04 L658.4,451.06 L658.9,451.09 L659.4,451.12 L659.9,451.14 L660.4,451.17 L660.9,451.20 L661.4,451.23 L661.9,451.25 L662.4,451.28 L662.9,451.31 L663.4,451.34 L663.9,451.37 L664.4,451.40 L664.9,451.43 L665.4,451.46 L665.9,451.49 L666.4,451.52 L666.9,451.55 L667.4,451.58 L667.9,451.61 L668.4,451.64 L668.9,451.67 L669.4,451.70 L669.9,451.73 L670.4,451.76 L670.9,451.80 L671.4,451.83 L671.9,451.86 L672.4,451.90 L672.9,451.93 L673.4,451.96 L673.9,452.00 L674.4,452.03 L674.9,452.07 L675.4,452.10 L675.9,452.14 L676.4,452.17 L676.9,452.21 L677.4,452.24 L677.9,452.28 L678.4,452.31 L678.6,452.33" fill="none" stroke="#e3b340" stroke-width="1.4"/>
<path d="M34.4,451.51 L34.9,451.73 L35.4,451.95 L35.9,452.17 L36.4,452.39 L36.9,452.61 L37.4,452.83 L37.9,453.06 L38.4,453.28 L38.9,453.51 L39.4,453.73 L39.9,453.96 L40.4,454.18 L40.9,454.41 L41.4,454.63 L41.9,454.86 L42.4,455.08 L42.9,455.30 L43.4,455.51 L43.9,455.73 L44.4,455.94 L44.9,456.15 L45.4,456.36 L45.9,456.56 L46.4,456.76 L46.9,456.96 L47.4,457.15 L47.9,457.34 L48.4,457.52 L48.9,457.70 L49.4,457.87 L49.9,458.04 L50.4,458.20 L50.9,458.35 L51.4,458.50 L51.9,458.64 L52.4,458.78 L52.9,458.91 L53.4,459.03 L53.9,459.14 L54.4,459.25 L54.9,459.34 L55.4,459.43 L55.9,459.51 L56.4,459.58 L56.9,459.64 L57.4,459.70 L57.9,459.74 L58.4,459.77 L58.9,459.79 L59.4,459.80 L59.9,459.80 L60.4,459.79 L60.9,459.77 L61.4,459.74 L61.9,459.69 L62.4,459.63 L62.9,459.56 L63.4,459.48 L63.9,459.38 L64.4,459.27 L64.9,459.15 L65.4,459.01 L65.9,458.86 L66.4,458.70 L66.9,458.53 L67.4,458.35 L67.9,458.16 L68.4,457.96 L68.9,457.74 L69.4,457.52 L69.9,457.29 L70.4,457.06 L70.9,456.81 L71.4,456.56 L71.9,456.30 L72.4,456.03 L72.9,455.76 L73.4,455.48 L73.9,455.20 L74.4,454.91 L74.9,454.62 L75.4,454.32 L75.9,454.02 L76.4,453.72 L76.9,453.41 L77.4,453.10 L77.9,452.79 L78.4,452.48 L78.9,452.17 L79.4,451.86 L79.9,451.55 L80.4,451.23 L80.9,450.92 L81.4,450.61 L81.9,450.30 L82.4,450.00 L82.9,449.70 L83.4,449.39 L83.9,449.10 L84.4,448.80 L84.9,448.52 L85.4,448.23 L85.9,447.95 L86.4,447.67 L86.9,447.40 L87.4,447.13 L87.9,446.87 L88.4,446.61 L88.9,446.36 L89.4,446.11 L89.9,445.86 L90.4,445.62 L90.9,445.38 L91.4,445.15 L91.9,444.92 L92.4,444.70 L92.9,444.49 L93.4,444.27 L93.9,444.07 L94.4,443.87 L94.9,443.67 L95.4,443.48 L95.9,443.29 L96.4,443.11 L96.9,442.94 L97.4,442.77 L97.9,442.60 L98.4,442.45 L98.9,442.29 L99.4,442.15 L99.9,442.01 L100.4,441.87 L100.9,441.74 L101.4,441.62 L101.9,441.50 L102.4,441.39 L102.9,441.28 L103.4,441.18 L103.9,441.09 L104.4,441.01 L104.9,440.92 L105.4,440.85 L105.9,440.78 L106.4,440.72 L106.9,440.66 L107.4,440.61 L107.9,440.57 L108.4,440.53 L108.9,440.49 L109.4,440.47 L109.9,440.44 L110.4,440.42 L110.9,440.41 L111.4,440.40 L111.9,440.40 L112.4,440.40 L112.9,440.40 L113.4,440.42 L113.9,440.43 L114.4,440.45 L114.9,440.47 L115.4,440.50 L115.9,440.53 L116.4,440.57 L116.9,440.60 L117.4,440.65 L117.9,440.69 L118.4,440.74 L118.9,440.80 L119.4,440.85 L119.9,440.91 L120.4,440.97 L120.9,441.04 L121.4,441.11 L121.9,441.18 L122.4,441.25 L122.9,441.33 L123.4,441.41 L123.9,441.49 L124.4,441.57 L124.9,441.66 L125.4,441.75 L125.9,441.84 L126.4,441.93 L126.9,442.02 L127.4,442.12 L127.9,442.21 L128.4,442.31 L128.9,442.41 L129.4,442.51 L129.9,442.61 L130.4,442.72 L130.9,442.82 L131.4,442.93 L131.9,443.03 L132.4,443.14 L132.9,443.25 L133.4,443.35 L133.9,443.46 L134.4,443.57 L134.9,443.68 L135.4,443.78 L135.9,443.89 L136.4,444.00 L136.9,444.11 L137.4,444.21 L137.9,444.32 L138.4,444.43 L138.9,444.53 L139.4,444.64 L139.9,444.74 L140.4,444.84 L140.9,444.95 L141.4,445.05 L141.9,445.15 L142.4,445.24 L142.9,445.34 L143.4,445.44 L143.9,445.53 L144.4,445.62 L144.9,445.71 L145.4,445.80 L145.9,445.88 L146.4,445.97 L146.9,446.05 L147.4,446.13 L147.9,446.21 L148.4,446.29 L148.9,446.37 L149.4,446.44 L149.9,446.51 L150.4,446.59 L150.9,446.66 L151.4,446.73 L151.9,446.79 L152.4,446.86 L152.9,446.93 L153.4,446.99 L153.9,447.05 L154.4,447.11 L154.9,447.17 L155.4,447.23 L155.9,447.29 L156.4,447.35 L156.9,447.41 L157.4,447.46 L157.9,447.51 L158.4,447.57 L158.9,447.62 L159.4,447.67 L159.9,447.72 L160.4,447.77 L160.9,447.82 L161.4,447.87 L161.9,447.91 L162.4,447.96 L162.9,448.01 L163.4,448.05 L163.9,448.10 L164.4,448.14 L164.9,448.18 L165.4,448.23 L165.9,448.27 L166.4,448.31 L166.9,448.35 L167.4,448.39 L167.9,448.44 L168.4,448.48 L168.9,448.52 L169.4,448.56 L169.9,448.60 L170.4,448.63 L170.9,448.67 L171.4,448.71 L171.9,448.75 L172.4,448.79 L172.9,448.83 L173.4,448.87 L173.9,448.91 L174.4,448.95 L174.9,448.98 L175.4,449.02 L175.9,449.06 L176.4,449.10 L176.9,449.14 L177.4,449.18 L177.9,449.22 L178.4,449.26 L178.9,449.30 L179.4,449.34 L179.9,449.38 L180.4,449.42 L180.9,449.46 L181.4,449.51 L181.9,449.55 L182.4,449.59 L182.9,449.64 L183.4,449.68 L183.9,449.73 L184.4,449.77 L184.9,449.82 L185.4,449.86 L185.9,449.91 L186.4,449.96 L186.9,450.01 L187.4,450.06 L187.9,450.11 L188.4,450.16 L188.9,450.22 L189.4,450.27 L189.9,450.32 L190.4,450.38 L190.9,450.44 L191.4,450.49 L191.9,450.55 L192.4,450.61 L192.9,450.67 L193.4,450.73 L193.9,450.80 L194.4,450.86 L194.9,450.92 L195.4,450.99 L195.9,451.06 L196.4,451.12 L196.9,451.19 L197.4,451.26 L197.9,451.32 L198.4,451.39 L198.9,451.46 L199.4,451.53 L199.9,451.60 L200.4,451.67 L200.9,451.74 L201.4,451.81 L201.9,451.88 L202.4,451.96 L202.9,452.03 L203.4,452.10 L203.9,452.17 L204.4,452.24 L204.9,452.31 L205.4,452.39 L205.9,452.46 L206.4,452.53 L206.9,452.60 L207.4,452.67 L207.9,452.74 L208.4,452.81 L208.9,452.88 L209.4,452.95 L209.9,453.02 L210.4,453.09 L210.9,453.16 L211.4,453.23 L211.9,453.30 L212.4,453.36 L212.9,453.43 L213.4,453.50 L213.9,453.56 L214.4,453.63 L214.9,453.69 L215.4,453.75 L215.9,453.81 L216.4,453.87 L216.9,453.93 L217.4,453.99 L217.9,454.05 L218.4,454.11 L218.9,454.16 L219.4,454.22 L219.9,454.27 L220.4,454.32 L220.9,454.37 L221.4,454.42 L221.9,454.47 L222.4,454.52 L222.9,454.56 L223.4,454.61 L223.9,454.65 L224.4,454.69 L224.9,454.73 L225.4,454.77 L225.9,454.80 L226.4,454.84 L226.9,454.87 L227.4,454.90 L227.9,454.93 L228.4,454.96 L228.9,454.98 L229.4,455.01 L229.9,455.03 L230.4,455.05 L230.9,455.06 L231.4,455.08 L231.9,455.09 L232.4,455.10 L232.9,455.11 L233.4,455.12 L233.9,455.12 L234.4,455.12 L234.9,455.12 L235.4,455.12 L235.9,455.12 L236.4,455.12 L236.9,455.11 L237.4,455.10 L237.9,455.09 L238.4,455.08 L238.9,455.07 L239.4,455.06 L239.9,455.04 L240.4,455.03 L240.9,455.01 L241.4,454.99 L241.9,454.97 L242.4,454.94 L242.9,454.92 L243.4,454.90 L243.9,454.87 L244.4,454.84 L244.9,454.82 L245.4,454.79 L245.9,454.76 L246.4,454.73 L246.9,454.70 L247.4,454.66 L247.9,454.63 L248.4,454.60 L248.9,454.56 L249.4,454.53 L249.9,454.49 L250.4,454.45 L250.9,454.41 L251.4,454.38 L251.9,454.34 L252.4,454.30 L252.9,454.26 L253.4,454.22 L253.9,454.18 L254.4,454.14 L254.9,454.10 L255.4,454.06 L255.9,454.01 L256.4,453.97 L256.9,453.93 L257.4,453.89 L257.9,453.85 L258.4,453.81 L258.9,453.76 L259.4,453.72 L259.9,453.68 L260.4,453.64 L260.9,453.60 L261.4,453.56 L261.9,453.52 L262.4,453.48 L262.9,453.44 L263.4,453.40 L263.9,453.36 L264.4,453.32 L264.9,453.28 L265.4,453.24 L265.9,453.21 L266.4,453.17 L266.9,453.13 L267.4,453.10 L267.9,453.06 L268.4,453.03 L268.9,453.00 L269.4,452.96 L269.9,452.93 L270.4,452.90 L270.9,452.87 L271.4,452.85 L271.9,452.82 L272.4,452.79 L272.9,452.77 L273.4,452.74 L273.9,452.72 L274.4,452.70 L274.9,452.67 L275.4,452.65 L275.9,452.63 L276.4,452.61 L276.9,452.60 L277.4,452.58 L277.9,452.56 L278.4,452.54 L278.9,452.53 L279.4,452.51 L279.9,452.50 L280.4,452.49 L280.9,452.47 L281.4,452.46 L281.9,452.45 L282.4,452.44 L282.9,452.43 L283.4,452.42 L283.9,452.41 L284.4,452.40 L284.9,452.39 L285.4,452.38 L285.9,452.38 L286.4,452.37 L286.9,452.36 L287.4,452.35 L287.9,452.35 L288.4,452.34 L288.9,452.34 L289.4,452.33 L289.9,452.33 L290.4,452.32 L290.9,452.32 L291.4,452.31 L291.9,452.31 L292.4,452.30 L292.9,452.30 L293.4,452.29 L293.9,452.29 L294.4,452.29 L294.9,452.28 L295.4,452.28 L295.9,452.27 L296.4,452.27 L296.9,452.27 L297.4,452.26 L297.9,452.26 L298.4,452.25 L298.9,452.25 L299.4,452.25 L299.9,452.24 L300.4,452.24 L300.9,452.23 L301.4,452.23 L301.9,452.22 L302.4,452.21 L302.9,452.21 L303.4,452.20 L303.9,452.19 L304.4,452.19 L304.9,452.18 L305.4,452.17 L305.9,452.16 L306.4,452.15 L306.9,452.14 L307.4,452.13 L307.9,452.12 L308.4,452.11 L308.9,452.10 L309.4,452.09 L309.9,452.08 L310.4,452.06 L310.9,452.05 L311.4,452.03 L311.9,452.02 L312.4,452.00 L312.9,451.99 L313.4,451.97 L313.9,451.95 L314.4,451.93 L314.9,451.91 L315.4,451.89 L315.9,451.87 L316.4,451.85 L316.9,451.82 L317.4,451.80 L317.9,451.78 L318.4,451.75 L318.9,451.72 L319.4,451.69 L319.9,451.67 L320.4,451.63 L320.9,451.60 L321.4,451.57 L321.9,451.54 L322.4,451.50 L322.9,451.47 L323.4,451.43 L323.9,451.39 L324.4,451.35 L324.9,451.31 L325.4,451.27 L325.9,451.23 L326.4,451.19 L326.9,451.14 L327.4,451.09 L327.9,451.04 L328.4,451.00 L328.9,450.94 L329.4,450.89 L329.9,450.84 L330.4,450.78 L330.9,450.73 L331.4,450.67 L331.9,450.61 L332.4,450.55 L332.9,450.49 L333.4,450.43 L333.9,450.37 L334.4,450.30 L334.9,450.24 L335.4,450.17 L335.9,450.10 L336.4,450.04 L336.9,449.97 L337.4,449.90 L337.9,449.83 L338.4,449.76 L338.9,449.68 L339.4,449.61 L339.9,449.54 L340.4,449.46 L340.9,449.39 L341.4,449.31 L341.9,449.24 L342.4,449.16 L342.9,449.08 L343.4,449.00 L343.9,448.92 L344.4,448.84 L344.9,448.76 L345.4,448.68 L345.9,448.60 L346.4,448.52 L346.9,448.44 L347.4,448.36 L347.9,448.28 L348.4,448.20 L348.9,448.11 L349.4,448.03 L349.9,447.95 L350.4,447.87 L350.9,447.78 L351.4,447.70 L351.9,447.62 L352.4,447.53 L352.9,447.45 L353.4,447.37 L353.9,447.28 L354.4,447.20 L354.9,447.12 L355.4,447.03 L355.9,446.95 L356.4,446.87 L356.9,446.78 L357.4,446.70 L357.9,446.62 L358.4,446.54 L358.9,446.46 L359.4,446.37 L359.9,446.29 L360.4,446.21 L360.9,446.13 L361.4,446.05 L361.9,445.97 L362.4,445.90 L362.9,445.82 L363.4,445.74 L363.9,445.66 L364.4,445.59 L364.9,445.51 L365.4,445.44 L365.9,445.36 L366.4,445.29 L366.9,445.21 L367.4,445.14 L367.9,445.07 L368.4,445.00 L368.9,444.93 L369.4,444.86 L369.9,444.80 L370.4,444.73 L370.9,444.67 L371.4,444.60 L371.9,444.54 L372.4,444.48 L372.9,444.43 L373.4,444.37 L373.9,444.32 L374.4,444.27 L374.9,444.23 L375.4,444.18 L375.9,444.14 L376.4,444.10 L376.9,444.07 L377.4,444.04 L377.9,444.01 L378.4,443.99 L378.9,443.97 L379.4,443.95 L379.9,443.94 L380.4,443.94 L380.9,443.93 L381.4,443.94 L381.9,443.94 L382.4,443.96 L382.9,443.97 L383.4,444.00 L383.9,444.02 L384.4,444.06 L384.9,444.10 L385.4,444.14 L385.9,444.19 L386.4,444.25 L386.9,444.31 L387.4,444.38 L387.9,444.46 L388.4,444.54 L388.9,444.63 L389.4,444.73 L389.9,444.83 L390.4,444.94 L390.9,445.06 L391.4,445.18 L391.9,445.31 L392.4,445.44 L392.9,445.58 L393.4,445.73 L393.9,445.88 L394.4,446.04 L394.9,446.21 L395.4,446.38 L395.9,446.56 L396.4,446.74 L396.9,446.93 L397.4,447.12 L397.9,447.32 L398.4,447.52 L398.9,447.73 L399.4,447.95 L399.9,448.17 L400.4,448.39 L400.9,448.62 L401.4,448.86 L401.9,449.10 L402.4,449.34 L402.9,449.59 L403.4,449.84 L403.9,450.10 L404.4,450.37 L404.9,450.64 L405.4,450.91 L405.9,451.18 L406.4,451.47 L406.9,451.75 L407.4,452.04 L407.9,452.33 L408.4,452.63 L408.9,452.93 L409.4,453.24 L409.9,453.55 L410.4,453.86 L410.9,454.18 L411.4,454.50 L411.9,454.82 L412.4,455.15 L412.9,455.48 L413.4,455.82 L413.9,456.15 L414.4,456.49 L414.9,456.84 L415.4,457.18 L415.9,457.53 L416.4,457.89 L416.9,458.24 L417.4,458.60 L417.9,458.96 L418.4,459.32 L418.9,459.68 L419.4,460.05 L419.9,460.41 L420.4,460.78 L420.9,461.14 L421.4,461.50 L421.9,461.86 L422.4,462.23 L422.9,462.59 L423.4,462.94 L423.9,463.30 L424.4,463.65 L424.9,464.00 L425.4,464.35 L425.9,464.69 L426.4,465.03 L426.9,465.36 L427.4,465.69 L427.9,466.02 L428.4,466.33 L428.9,466.65 L429.4,466.95 L429.9,467.25 L430.4,467.55 L430.9,467.83 L431.4,468.11 L431.9,468.38 L432.4,468.64 L432.9,468.90 L433.4,469.14 L433.9,469.37 L434.4,469.60 L434.9,469.81 L435.4,470.02 L435.9,470.21 L436.4,470.40 L436.9,470.57 L437.4,470.73 L437.9,470.87 L438.4,471.01 L438.9,471.13 L439.4,471.24 L439.9,471.33 L440.4,471.41 L440.9,471.48 L441.4,471.53 L441.9,471.57 L442.4,471.59 L442.9,471.59 L443.4,471.58 L443.9,471.56 L444.4,471.51 L444.9,471.45 L445.4,471.37 L445.9,471.28 L446.4,471.16 L446.9,471.03 L447.4,470.88 L447.9,470.71 L448.4,470.52 L448.9,470.32 L449.4,470.10 L449.9,469.85 L450.4,469.60 L450.9,469.32 L451.4,469.03 L451.9,468.71 L452.4,468.39 L452.9,468.04 L453.4,467.68 L453.9,467.30 L454.4,466.90 L454.9,466.48 L455.4,466.05 L455.9,465.60 L456.4,465.13 L456.9,464.65 L457.4,464.15 L457.9,463.64 L458.4,463.10 L458.9,462.55 L459.4,461.99 L459.9,461.40 L460.4,460.81 L460.9,460.20 L461.4,459.57 L461.9,458.94 L462.4,458.29 L462.9,457.63 L463.4,456.97 L463.9,456.29 L464.4,455.61 L464.9,454.92 L465.4,454.22 L465.9,453.52 L466.4,452.82 L466.9,452.11 L467.4,451.41 L467.9,450.70 L468.4,449.99 L468.9,449.28 L469.4,448.57 L469.9,447.87 L470.4,447.16 L470.9,446.47 L471.4,445.78 L471.9,445.09 L472.4,444.41 L472.9,443.74 L473.4,443.08 L473.9,442.43 L474.4,441.79 L474.9,441.16 L475.4,440.54 L475.9,439.94 L476.4,439.35 L476.9,438.77 L477.4,438.21 L477.9,437.65 L478.4,437.11 L478.9,436.58 L479.4,436.07 L479.9,435.56 L480.4,435.07 L480.9,434.59 L481.4,434.12 L481.9,433.67 L482.4,433.22 L482.9,432.79 L483.4,432.37 L483.9,431.96 L484.4,431.56 L484.9,431.17 L485.4,430.79 L485.9,430.43 L486.4,430.07 L486.9,429.73 L487.4,429.40 L487.9,429.08 L488.4,428.77 L488.9,428.47 L489.4,428.18 L489.9,427.90 L490.4,427.63 L490.9,427.37 L491.4,427.12 L491.9,426.88 L492.4,426.66 L492.9,426.44 L493.4,426.23 L493.9,426.03 L494.4,425.85 L494.9,425.67 L495.4,425.50 L495.9,425.34 L496.4,425.19 L496.9,425.05 L497.4,424.92 L497.9,424.79 L498.4,424.68 L498.9,424.58 L499.4,424.48 L499.9,424.40 L500.4,424.32 L500.9,424.25 L501.4,424.19 L501.9,424.14 L502.4,424.10 L502.9,424.06 L503.4,424.04 L503.9,424.02 L504.4,424.01 L504.9,424.01 L505.4,424.01 L505.9,424.03 L506.4,424.05 L506.9,424.08 L507.4,424.12 L507.9,424.16 L508.4,424.21 L508.9,424.27 L509.4,424.34 L509.9,424.41 L510.4,424.49 L510.9,424.58 L511.4,424.68 L511.9,424.78 L512.4,424.89 L512.9,425.01 L513.4,425.13 L513.9,425.26 L514.4,425.40 L514.9,425.54 L515.4,425.69 L515.9,425.84 L516.4,426.00 L516.9,426.17 L517.4,426.34 L517.9,426.52 L518.4,426.71 L518.9,426.90 L519.4,427.10 L519.9,427.30 L520.4,427.51 L520.9,427.73 L521.4,427.95 L521.9,428.18 L522.4,428.41 L522.9,428.65 L523.4,428.90 L523.9,429.15 L524.4,429.40 L524.9,429.67 L525.4,429.93 L525.9,430.21 L526.4,430.48 L526.9,430.77 L527.4,431.06 L527.9,431.35 L528.4,431.65 L528.9,431.95 L529.4,432.26 L529.9,432.58 L530.4,432.90 L530.9,433.22 L531.4,433.56 L531.9,433.89 L532.4,434.23 L532.9,434.58 L533.4,434.93 L533.9,435.28 L534.4,435.64 L534.9,436.01 L535.4,436.37 L535.9,436.75 L536.4,437.13 L536.9,437.51 L537.4,437.90 L537.9,438.29 L538.4,438.69 L538.9,439.09 L539.4,439.49 L539.9,439.90 L540.4,440.32 L540.9,440.73 L541.4,441.16 L541.9,441.58 L542.4,442.01 L542.9,442.45 L543.4,442.89 L543.9,443.33 L544.4,443.78 L544.9,444.23 L545.4,444.68 L545.9,445.14 L546.4,445.60 L546.9,446.07 L547.4,446.54 L547.9,447.01 L548.4,447.48 L548.9,447.96 L549.4,448.44 L549.9,448.92 L550.4,449.40 L550.9,449.88 L551.4,450.37 L551.9,450.85 L552.4,451.34 L552.9,451.83 L553.4,452.32 L553.9,452.80 L554.4,453.29 L554.9,453.78 L555.4,454.27 L555.9,454.76 L556.4,455.24 L556.9,455.73 L557.4,456.21 L557.9,456.69 L558.4,457.18 L558.9,457.65 L559.4,458.13 L559.9,458.61 L560.4,459.08 L560.9,459.55 L561.4,460.01 L561.9,460.48 L562.4,460.94 L562.9,461.39 L563.4,461.85 L563.9,462.29 L564.4,462.74 L564.9,463.18 L565.4,463.61 L565.9,464.04 L566.4,464.47 L566.9,464.89 L567.4,465.31 L567.9,465.72 L568.4,466.13 L568.9,466.53 L569.4,466.93 L569.9,467.32 L570.4,467.72 L570.9,468.10 L571.4,468.49 L571.9,468.86 L572.4,469.24 L572.9,469.61 L573.4,469.98 L573.9,470.34 L574.4,470.70 L574.9,471.06 L575.4,471.42 L575.9,471.77 L576.4,472.11 L576.9,472.46 L577.4,472.80 L577.9,473.14 L578.4,473.47 L578.9,473.80 L579.4,474.13 L579.9,474.46 L580.4,474.78 L580.9,475.10 L581.4,475.42 L581.9,475.73 L582.4,476.04 L582.9,476.36 L583.4,476.66 L583.9,476.97 L584.4,477.27 L584.9,477.57 L585.4,477.87 L585.9,478.17 L586.4,478.46 L586.9,478.75 L587.4,479.04 L587.9,479.33 L588.4,479.61 L588.9,479.89 L589.4,480.16 L589.9,480.43 L590.4,480.70 L590.9,480.96 L591.4,481.22 L591.9,481.47 L592.4,481.72 L592.9,481.96 L593.4,482.19 L593.9,482.42 L594.4,482.65 L594.9,482.86 L595.4,483.07 L595.9,483.28 L596.4,483.47 L596.9,483.66 L597.4,483.84 L597.9,484.02 L598.4,484.18 L598.9,484.34 L599.4,484.49 L599.9,484.63 L600.4,484.77 L600.9,484.89 L601.4,485.00 L601.9,485.11 L602.4,485.20 L602.9,485.29 L603.4,485.36 L603.9,485.42 L604.4,485.48 L604.9,485.52 L605.4,485.55 L605.9,485.57 L606.4,485.58 L606.9,485.58 L607.4,485.56 L607.9,485.53 L608.4,485.49 L608.9,485.44 L609.4,485.37 L609.9,485.29 L610.4,485.20 L610.9,485.10 L611.4,484.98 L611.9,484.84 L612.4,484.69 L612.9,484.53 L613.4,484.36 L613.9,484.17 L614.4,483.96 L614.9,483.75 L615.4,483.52 L615.9,483.28 L616.4,483.03 L616.9,482.77 L617.4,482.49 L617.9,482.21 L618.4,481.91 L618.9,481.60 L619.4,481.29 L619.9,480.96 L620.4,480.63 L620.9,480.28 L621.4,479.93 L621.9,479.57 L622.4,479.20 L622.9,478.82 L623.4,478.44 L623.9,478.05 L624.4,477.65 L624.9,477.25 L625.4,476.83 L625.9,476.42 L626.4,476.00 L626.9,475.57 L627.4,475.14 L627.9,474.70 L628.4,474.26 L628.9,473.81 L629.4,473.37 L629.9,472.92 L630.4,472.46 L630.9,472.00 L631.4,471.54 L631.9,471.08 L632.4,470.62 L632.9,470.15 L633.4,469.69 L633.9,469.22 L634.4,468.76 L634.9,468.29 L635.4,467.82 L635.9,467.36 L636.4,466.89 L636.9,466.43 L637.4,465.96 L637.9,465.50 L638.4,465.05 L638.9,464.59 L639.4,464.14 L639.9,463.69 L640.4,463.24 L640.9,462.80 L641.4,462.36 L641.9,461.92 L642.4,461.49 L642.9,461.07 L643.4,460.65 L643.9,460.23 L644.4,459.82 L644.9,459.42 L645.4,459.03 L645.9,458.64 L646.4,458.26 L646.9,457.88 L647.4,457.52 L647.9,457.16 L648.4,456.81 L648.9,456.47 L649.4,456.14 L649.9,455.81 L650.4,455.50 L650.9,455.19 L651.4,454.89 L651.9,454.60 L652.4,454.32 L652.9,454.05 L653.4,453.78 L653.9,453.53 L654.4,453.28 L654.9,453.04 L655.4,452.81 L655.9,452.59 L656.4,452.37 L656.9,452.17 L657.4,451.97 L657.9,451.78 L658.4,451.60 L658.9,451.42 L659.4,451.26 L659.9,451.10 L660.4,450.95 L660.9,450.81 L661.4,450.68 L661.9,450.56 L662.4,450.44 L662.9,450.33 L663.4,450.23 L663.9,450.14 L664.4,450.06 L664.9,449.98 L665.4,449.92 L665.9,449.86 L666.4,449.80 L666.9,449.76 L667.4,449.73 L667.9,449.70 L668.4,449.68 L668.9,449.67 L669.4,449.66 L669.9,449.67 L670.4,449.68 L670.9,449.70 L671.4,449.73 L671.9,449.76 L672.4,449.81 L672.9,449.86 L673.4,449.92 L673.9,449.99 L674.4,450.06 L674.9,450.14 L675.4,450.23 L675.9,450.33 L676.4,450.44 L676.9,450.55 L677.4,450.67 L677.9,450.80 L678.4,450.94 L678.6,450.99" fill="none" stroke="#4373c2" stroke-width="1.3"/>
<line x1="34.4" y1="103.50" x2="678.6" y2="103.50" stroke="#cc1a1f" stroke-width="1.7" stroke-dasharray="3.1 1.6"/>
<line x1="34.4" y1="125.20" x2="678.6" y2="125.20" stroke="#99cc88" stroke-width="1.5" stroke-dasharray="3.1 1.6"/>
<line x1="34.4" y1="424.00" x2="676.0" y2="424.00" stroke="#262626" stroke-width="1.9" stroke-dasharray="3.1 1.6"/>
<line x1="407.20" y1="56.0" x2="407.20" y2="333.2" stroke="#99cc88" stroke-width="1.5" stroke-dasharray="3.1 1.6"/>
<line x1="619.30" y1="56.0" x2="619.30" y2="333.2" stroke="#99cc88" stroke-width="1.5" stroke-dasharray="3.1 1.6"/>
<line x1="443.00" y1="56.0" x2="443.00" y2="494.4" stroke="#cc1a1f" stroke-width="1.7" stroke-dasharray="3.1 1.6"/>
<line x1="575.30" y1="56.0" x2="575.30" y2="333.2" stroke="#cc1a1f" stroke-width="1.7" stroke-dasharray="3.1 1.6"/>
<line x1="505.10" y1="56.0" x2="505.10" y2="494.4" stroke="#262626" stroke-width="1.9" stroke-dasharray="3.1 1.6"/>
<text x="37.6" y="98.6" class="ann" fill="#cc1a1f">40.3°</text>
<text x="37.6" y="120.4" class="ann" fill="#99cc88">22.0°</text>
<text x="37.6" y="419.4" class="ann" fill="#111">11.2°</text>
<text x="349.2" y="18.0" class="main" text-anchor="middle">r-STIMA</text>
<text x="349.7" y="531" class="xl" text-anchor="middle">Gait cycle [%]</text>
<text x="0" y="0" class="yl" text-anchor="middle" transform="translate(9.7,115.2) rotate(-90)">- Knee Ext / + Knee Flex [°]</text>
<text x="0" y="0" class="yl" text-anchor="middle" transform="translate(9.7,276.1) rotate(-90)">- Knee Abd / + Knee Add [°]</text>
<text x="0" y="0" class="yl" text-anchor="middle" transform="translate(9.7,439.9) rotate(-90)">- Knee IntRot / + Knee ExtRot [°]</text>
<rect x="580.6" y="7.4" width="97" height="28.8" fill="#fff" stroke="#999" stroke-width="1.3"/>
<line x1="584" y1="15.3" x2="615.2" y2="15.3" stroke="#e3b340" stroke-width="2"/>
<line x1="584" y1="28.3" x2="615.2" y2="28.3" stroke="#0072BD" stroke-width="2"/>
<text x="618" y="18.8" class="lg">MiKneeSoTA</text>
<text x="618" y="31.8" class="lg">Helen Hayes</text>
</svg>
</body></html>
